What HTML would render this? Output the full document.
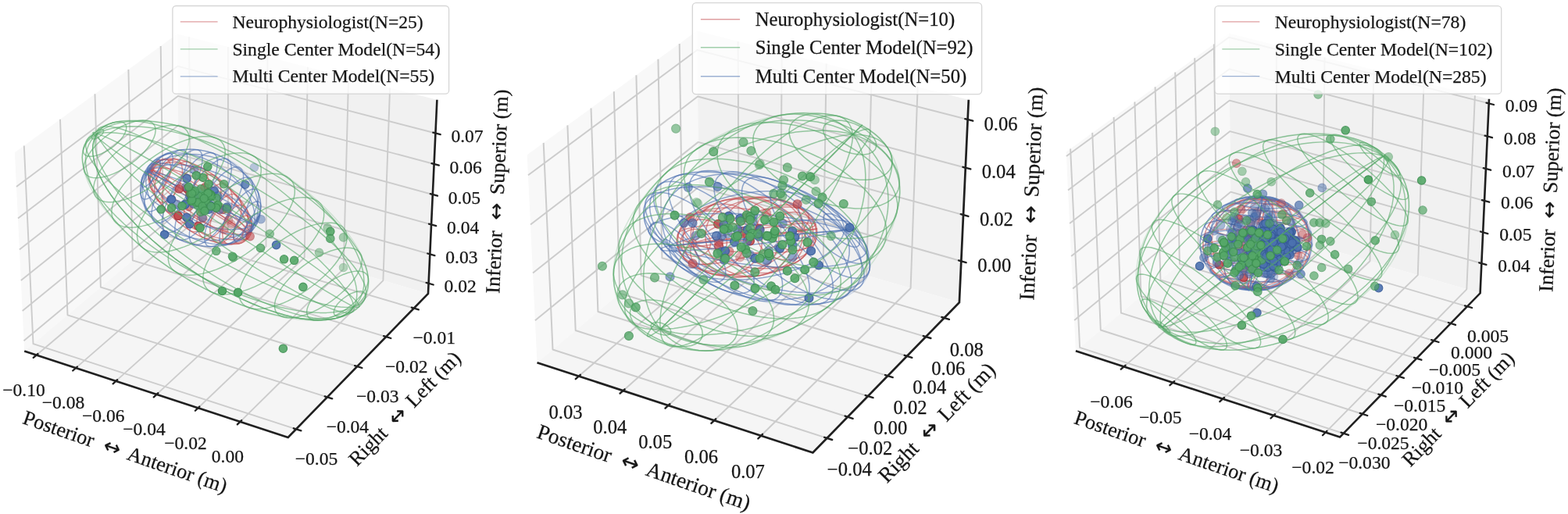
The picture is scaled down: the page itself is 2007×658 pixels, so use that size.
<!DOCTYPE html>
<html lang="en">
<head>
<meta charset="utf-8">
<title>Ellipsoid comparison</title>
<style>
html,body{margin:0;padding:0;background:#fff;}
body{width:2007px;height:658px;overflow:hidden;font-family:"Liberation Serif", "DejaVu Serif", serif;}
svg{display:block;}
</style>
</head>
<body>
<svg width="2007" height="658" viewBox="0 0 2007 658" font-family='"Liberation Serif", "DejaVu Serif", serif'>
<rect width="2007" height="658" fill="#ffffff"/>
<g>
<polygon points="31.2,449.6 229.6,283.3 226.9,43.4 18.9,195.2" fill="#f8f8f8"/>
<polygon points="229.6,283.3 548,375.9 559.4,127.7 226.9,43.4" fill="#f1f1f1"/>
<polygon points="31.2,449.6 368.7,559.9 548,375.9 229.6,283.3" fill="#f5f5f5"/>
<g fill="none" stroke="#cccccc" stroke-width="1.9" stroke-linejoin="round">
<polyline points="46.5,454.7 244.2,287.5 242,47.3"/>
<polyline points="97,471.1 292,301.4 291.9,59.9"/>
<polyline points="148.3,487.9 340.5,315.5 342.5,72.7"/>
<polyline points="200.5,504.9 389.7,329.8 393.9,85.8"/>
<polyline points="253.5,522.3 439.7,344.4 446.1,99"/>
<polyline points="307.4,539.9 490.4,359.1 499.1,112.4"/>
<polyline points="30.8,186.5 42.5,440.1 379,549.3"/>
<polyline points="77,152.7 86.5,403.3 418.9,508.4"/>
<polyline points="121.5,120.3 128.9,367.7 457.2,469"/>
<polyline points="164.4,89 169.8,333.4 494.2,431.1"/>
<polyline points="205.7,58.9 209.3,300.3 529.8,394.6"/>
<polyline points="30.5,436.2 229.5,270.6 548.6,362.8"/>
<polyline points="28.7,397.9 229,234.4 550.3,325.3"/>
<polyline points="26.8,359 228.6,197.7 552.1,287.4"/>
<polyline points="24.9,319.6 228.2,160.5 553.8,249"/>
<polyline points="23,279.6 227.8,122.9 555.6,210"/>
<polyline points="21,239.1 227.3,84.7 557.4,170.5"/>
</g>
<g fill="none" stroke="#c44e52" stroke-opacity="0.6" stroke-width="1.45" stroke-linejoin="round">
<path d="M318.2 299.1 319.2 299.8 319.9 300.2 320.4 300.5 320.5 300.6 320.4 300.6 320 300.3 319.4 299.9 318.5 299.3 317.3 298.5 315.8 297.5 314.1 296.4 312.2 295.1 310 293.7 307.6 292.1 304.9 290.3 302.1 288.4 299 286.4 295.8 284.3 292.4 282 288.8 279.7 285.1 277.2 281.3 274.7 277.4 272.1 273.4 269.5 269.3 266.7 265.1 264 260.9 261.2 256.7 258.5 252.5 255.7 248.3 252.9 244.2 250.1 240.1 247.4 236 244.8 232.1 242.1 228.2 239.6 224.5 237.1 220.9 234.8 217.5 232.5 214.2 230.3 211.1 228.3 208.2 226.3 205.5 224.6 203 222.9 200.8 221.4 198.7 220.1 197 218.9 195.5 217.9 194.2 217.1"/>
<path d="M318.2 299.1 318.5 300.8 318.6 302.3 318.4 303.6 317.9 304.7 317.2 305.6 316.2 306.3 314.9 306.8 313.4 307.1 311.7 307.1 309.7 307 307.5 306.7 305 306.1 302.4 305.4 299.6 304.4 296.5 303.2 293.3 301.9 290 300.4 286.5 298.6 282.8 296.8 279.1 294.7 275.2 292.5 271.3 290.1 267.3 287.6 263.3 285 259.2 282.3 255.1 279.4 251 276.5 247 273.5 243 270.4 239 267.3 235.1 264.1 231.3 260.9 227.6 257.7 224.1 254.5 220.6 251.3 217.4 248.1 214.2 245 211.3 241.9 208.6 239 206 236 203.7 233.2 201.6 230.5 199.8 227.9 198.1 225.5 196.8 223.1 195.7 221 194.8 218.9 194.2 217.1"/>
<path d="M318.2 299.1 317.8 301.3 317 303.4 316.1 305.3 314.8 306.9 313.4 308.4 311.6 309.6 309.7 310.6 307.5 311.4 305.1 312 302.5 312.3 299.6 312.4 296.6 312.3 293.5 311.9 290.1 311.4 286.6 310.5 283 309.5 279.3 308.2 275.5 306.7 271.6 305.1 267.6 303.2 263.6 301.1 259.5 298.8 255.5 296.4 251.4 293.8 247.3 291 243.3 288.1 239.4 285.1 235.5 281.9 231.7 278.7 228 275.4 224.5 272 221 268.5 217.8 265 214.6 261.4 211.7 257.9 209 254.3 206.4 250.8 204.1 247.3 202 243.8 200.1 240.4 198.5 237.1 197.1 233.9 195.9 230.7 195.1 227.7 194.5 224.8 194.1 222.1 194 219.5 194.2 217.1"/>
<path d="M318.2 299.1 317.1 301.3 315.6 303.4 314 305.2 312.1 306.9 309.9 308.3 307.6 309.5 305 310.5 302.2 311.3 299.2 311.9 296 312.2 292.6 312.3 289.1 312.1 285.4 311.8 281.7 311.2 277.8 310.3 273.8 309.3 269.7 308 265.6 306.5 261.5 304.8 257.3 302.9 253.1 300.8 248.9 298.6 244.8 296.1 240.7 293.5 236.7 290.8 232.8 287.9 228.9 284.9 225.2 281.7 221.6 278.5 218.2 275.1 214.9 271.7 211.8 268.3 208.9 264.8 206.2 261.3 203.7 257.7 201.4 254.2 199.4 250.6 197.6 247.1 196 243.7 194.8 240.3 193.7 237 193 233.8 192.5 230.7 192.3 227.7 192.4 224.8 192.7 222.1 193.3 219.5 194.2 217.1"/>
<path d="M318.2 299.1 316.6 300.7 314.8 302.2 312.7 303.4 310.3 304.5 307.8 305.4 305 306 302 306.5 298.8 306.7 295.4 306.8 291.8 306.6 288.2 306.2 284.3 305.7 280.4 304.9 276.3 303.9 272.2 302.7 267.9 301.3 263.7 299.8 259.4 298 255.1 296.1 250.8 294.1 246.5 291.9 242.2 289.5 238.1 287 234 284.4 230 281.6 226.1 278.8 222.3 275.9 218.7 272.9 215.2 269.8 211.9 266.7 208.8 263.5 205.9 260.3 203.3 257.2 200.8 254 198.6 250.8 196.6 247.7 194.9 244.6 193.5 241.6 192.3 238.6 191.4 235.7 190.8 232.9 190.4 230.3 190.3 227.7 190.6 225.3 191.1 223 191.8 220.9 192.9 218.9 194.2 217.1"/>
<path d="M318.2 299.1 316.5 299.7 314.6 300.1 312.4 300.4 310 300.4 307.4 300.3 304.5 300 301.5 299.5 298.2 298.8 294.8 298 291.1 297 287.4 295.8 283.5 294.5 279.5 293 275.4 291.4 271.2 289.6 266.9 287.7 262.6 285.6 258.3 283.5 254 281.2 249.7 278.8 245.4 276.4 241.1 273.8 236.9 271.2 232.8 268.6 228.8 265.9 224.9 263.1 221.2 260.4 217.6 257.6 214.1 254.8 210.9 252.1 207.8 249.3 204.9 246.7 202.3 244 199.9 241.4 197.7 238.9 195.8 236.5 194.2 234.2 192.8 231.9 191.7 229.8 190.8 227.8 190.2 226 190 224.2 190 222.6 190.3 221.2 190.8 219.9 191.7 218.8 192.8 217.9 194.2 217.1"/>
<path d="M318.2 299.1 316.8 298.5 315.2 297.7 313.4 296.8 311.3 295.6 308.9 294.4 306.3 292.9 303.6 291.3 300.6 289.6 297.4 287.8 294 285.8 290.5 283.7 286.9 281.4 283.1 279.1 279.2 276.7 275.1 274.2 271.1 271.7 266.9 269.1 262.7 266.4 258.5 263.7 254.2 261 250 258.3 245.8 255.5 241.7 252.8 237.6 250.1 233.5 247.5 229.6 244.8 225.8 242.3 222.2 239.8 218.6 237.4 215.3 235 212.1 232.8 209.1 230.7 206.3 228.7 203.7 226.8 201.3 225.1 199.2 223.5 197.3 222 195.7 220.7 194.3 219.6 193.2 218.6 192.4 217.8 191.8 217.2 191.5 216.7 191.5 216.4 191.8 216.3 192.3 216.4 193.1 216.7 194.2 217.1"/>
<path d="M318.2 299.1 317.5 297.4 316.5 295.6 315.2 293.6 313.7 291.4 312 289.1 310 286.6 307.7 284.1 305.3 281.4 302.6 278.6 299.8 275.8 296.8 272.8 293.5 269.8 290.2 266.8 286.7 263.7 283 260.6 279.2 257.5 275.4 254.3 271.4 251.2 267.4 248.2 263.4 245.1 259.3 242.2 255.2 239.3 251.1 236.4 247 233.7 243 231.1 239 228.6 235.1 226.2 231.3 223.9 227.6 221.8 224 219.9 220.5 218.1 217.2 216.5 214.1 215 211.2 213.8 208.4 212.7 205.9 211.9 203.5 211.2 201.4 210.7 199.5 210.5 197.9 210.4 196.5 210.5 195.4 210.9 194.5 211.4 193.9 212.2 193.6 213.1 193.5 214.3 193.7 215.6 194.2 217.1"/>
<path d="M318.2 299.1 318.2 296.7 318 294.2 317.5 291.5 316.8 288.7 315.7 285.8 314.5 282.7 313 279.5 311.2 276.3 309.2 272.9 307 269.5 304.5 266.1 301.9 262.6 299 259.1 296 255.6 292.8 252.1 289.4 248.6 285.9 245.1 282.3 241.8 278.6 238.4 274.7 235.2 270.8 232.1 266.9 229.1 262.8 226.2 258.8 223.4 254.7 220.8 250.7 218.4 246.6 216.1 242.7 214 238.7 212.1 234.9 210.4 231.1 208.9 227.4 207.6 223.9 206.5 220.5 205.6 217.3 205 214.2 204.6 211.3 204.4 208.6 204.5 206.1 204.7 203.8 205.3 201.7 206 199.9 207 198.3 208.1 197 209.5 195.9 211.1 195.1 212.9 194.5 214.9 194.2 217.1"/>
<path d="M318.2 299.1 319 296.6 319.5 294 319.7 291.3 319.6 288.3 319.3 285.3 318.7 282.1 317.9 278.9 316.7 275.5 315.4 272.1 313.7 268.6 311.9 265.1 309.7 261.5 307.4 257.9 304.8 254.3 302 250.8 299.1 247.3 295.9 243.8 292.6 240.4 289.1 237 285.5 233.8 281.7 230.6 277.9 227.6 273.9 224.7 269.9 221.9 265.8 219.3 261.7 216.9 257.5 214.6 253.4 212.5 249.2 210.7 245.1 209 241.1 207.5 237.1 206.3 233.2 205.2 229.3 204.4 225.6 203.9 222.1 203.5 218.6 203.4 215.4 203.5 212.3 203.9 209.4 204.5 206.7 205.3 204.2 206.4 201.9 207.6 199.9 209.1 198.1 210.8 196.5 212.7 195.2 214.8 194.2 217.1"/>
<path d="M318.2 299.1 319.5 297.1 320.5 295 321.2 292.7 321.6 290.3 321.8 287.7 321.7 285 321.3 282.2 320.6 279.3 319.6 276.3 318.4 273.2 316.9 270.1 315.1 266.9 313.1 263.6 310.9 260.4 308.4 257.1 305.7 253.8 302.8 250.6 299.7 247.4 296.4 244.2 292.9 241.1 289.3 238.1 285.5 235.1 281.6 232.3 277.6 229.5 273.5 226.9 269.3 224.4 265.1 222.1 260.8 219.9 256.5 217.9 252.2 216 247.9 214.3 243.7 212.8 239.5 211.6 235.4 210.5 231.4 209.6 227.5 208.9 223.7 208.4 220 208.2 216.5 208.1 213.2 208.3 210 208.7 207.1 209.3 204.4 210.1 201.8 211.1 199.6 212.3 197.5 213.7 195.7 215.3 194.2 217.1"/>
<path d="M318.2 299.1 319.6 298.1 320.8 297 321.6 295.6 322.2 294.1 322.5 292.5 322.5 290.7 322.3 288.8 321.7 286.7 320.9 284.5 319.8 282.3 318.4 279.9 316.8 277.4 314.8 274.8 312.7 272.1 310.3 269.4 307.7 266.7 304.8 263.9 301.8 261.1 298.5 258.3 295.1 255.4 291.5 252.6 287.7 249.8 283.8 247.1 279.8 244.3 275.7 241.7 271.5 239.1 267.3 236.6 263 234.2 258.7 231.9 254.3 229.7 250 227.6 245.7 225.7 241.4 223.9 237.2 222.2 233.1 220.7 229.1 219.4 225.2 218.2 221.4 217.2 217.8 216.4 214.3 215.7 211 215.2 208 215 205.1 214.9 202.4 214.9 200 215.2 197.8 215.7 195.9 216.3 194.2 217.1"/>
<path d="M318.2 299.1 319.4 299.3 320.3 299.3 320.9 299.2 321.2 298.9 321.3 298.4 321.1 297.7 320.6 296.9 319.9 295.9 318.8 294.7 317.5 293.4 316 291.9 314.1 290.3 312.1 288.5 309.8 286.7 307.2 284.6 304.5 282.5 301.5 280.3 298.4 278 295 275.6 291.5 273.1 287.9 270.5 284.1 267.9 280.2 265.3 276.1 262.6 272 259.9 267.9 257.2 263.7 254.5 259.4 251.9 255.2 249.2 250.9 246.6 246.7 244 242.5 241.5 238.3 239.1 234.3 236.7 230.3 234.5 226.5 232.3 222.7 230.3 219.2 228.3 215.7 226.5 212.5 224.9 209.4 223.3 206.6 222 203.9 220.7 201.5 219.7 199.3 218.8 197.3 218 195.6 217.5 194.2 217.1"/>
<path d="M318.2 299.1 319.2 299.8 319.9 300.2 320.4 300.5 320.5 300.6 320.4 300.6 320 300.3 319.4 299.9 318.5 299.3 317.3 298.5 315.8 297.5 314.1 296.4 312.2 295.1 310 293.7 307.6 292.1 304.9 290.3 302.1 288.4 299 286.4 295.8 284.3 292.4 282 288.8 279.7 285.1 277.2 281.3 274.7 277.4 272.1 273.4 269.5 269.3 266.7 265.1 264 260.9 261.2 256.7 258.5 252.5 255.7 248.3 252.9 244.2 250.1 240.1 247.4 236 244.8 232.1 242.1 228.2 239.6 224.5 237.1 220.9 234.8 217.5 232.5 214.2 230.3 211.1 228.3 208.2 226.3 205.5 224.6 203 222.9 200.8 221.4 198.7 220.1 197 218.9 195.5 217.9 194.2 217.1"/>
<path d="M320.5 300.6 319.4 302.7 318.1 304.4 316.7 305.7 315.3 306.6 313.9 307 312.7 306.8 311.6 306.2 310.9 305 310.4 303.4 310.3 301.5 310.5 299.3 311 297.1 311.9 294.9 313 292.9 314.3 291.2 315.7 289.8 317.1 288.9 318.5 288.6 319.8 288.7 320.8 289.4 321.6 290.6 322 292.2 322.2 294.1 321.9 296.2 321.4 298.5Z"/>
<path d="M318.7 299.4 317.5 301.9 316.1 304.1 314.6 306.1 313 307.9 311.3 309.4 309.6 310.5 308 311.3 306.3 311.7 304.8 311.8 303.4 311.4 302.1 310.7 301.1 309.6 300.2 308.2 299.5 306.5 299.1 304.5 298.9 302.3 298.9 299.9 299.2 297.4 299.8 294.8 300.5 292.2 301.5 289.7 302.6 287.2 304 284.8 305.4 282.7 307 280.8 308.6 279.2 310.3 277.9 312 276.9 313.6 276.3 315.2 276.1 316.7 276.2 318 276.8 319.2 277.7 320.2 278.9 320.9 280.5 321.5 282.3 321.8 284.4 321.9 286.7 321.7 289.2 321.3 291.7 320.7 294.3 319.8 296.9Z"/>
<path d="M312.9 295.6 311.6 298.2 310.2 300.7 308.6 303 307 305.1 305.3 307.1 303.5 308.8 301.7 310.2 299.9 311.4 298.1 312.2 296.4 312.8 294.7 313.1 293.1 313.1 291.5 312.7 290.1 312.1 288.9 311.1 287.8 309.9 286.8 308.4 286 306.7 285.4 304.7 285 302.6 284.8 300.2 284.7 297.7 284.9 295.1 285.3 292.4 285.9 289.6 286.6 286.8 287.5 284 288.6 281.3 289.9 278.6 291.2 276.1 292.7 273.7 294.3 271.4 296 269.4 297.8 267.6 299.5 266 301.3 264.7 303.1 263.7 304.9 263 306.6 262.6 308.3 262.4 309.9 262.6 311.3 263.1 312.7 263.9 313.8 265 314.9 266.3 315.8 267.9 316.5 269.8 317 271.9 317.3 274.1 317.4 276.6 317.3 279.1 317.1 281.8 316.6 284.6 315.9 287.4 315.1 290.1 314.1 292.9Z"/>
<path d="M303.5 289.4 302.2 292 300.7 294.6 299.2 297 297.6 299.3 295.9 301.4 294.1 303.4 292.4 305.1 290.5 306.7 288.7 308 286.9 309.1 285.1 309.9 283.3 310.5 281.6 310.8 279.9 310.9 278.3 310.7 276.8 310.3 275.4 309.6 274.1 308.7 272.9 307.5 271.8 306.1 270.9 304.5 270.2 302.6 269.6 300.6 269.2 298.4 268.9 296.1 268.8 293.6 268.8 291 269 288.3 269.4 285.5 270 282.7 270.7 279.9 271.6 277 272.6 274.2 273.7 271.4 274.9 268.7 276.3 266.1 277.8 263.6 279.4 261.3 281 259 282.8 257 284.5 255.2 286.3 253.5 288.1 252.1 290 250.9 291.8 249.9 293.6 249.2 295.4 248.7 297.1 248.5 298.7 248.6 300.3 248.9 301.7 249.4 303.1 250.3 304.3 251.3 305.4 252.6 306.4 254.1 307.2 255.9 307.9 257.8 308.4 259.9 308.8 262.2 309 264.6 309 267.2 308.9 269.8 308.6 272.5 308.1 275.3 307.5 278.2 306.7 281 305.7 283.8 304.7 286.6Z"/>
<path d="M291 281.1 289.7 283.8 288.2 286.5 286.7 289 285.1 291.4 283.4 293.6 281.6 295.7 279.8 297.6 278 299.3 276.1 300.8 274.2 302.2 272.4 303.3 270.5 304.1 268.7 304.8 266.9 305.2 265.2 305.3 263.5 305.3 261.9 305 260.4 304.4 259 303.6 257.7 302.6 256.5 301.4 255.5 299.9 254.6 298.3 253.8 296.5 253.1 294.4 252.6 292.3 252.2 289.9 252 287.5 252 284.9 252.1 282.2 252.4 279.4 252.8 276.6 253.3 273.7 254 270.9 254.9 268 255.9 265.1 257 262.2 258.2 259.4 259.6 256.7 261 254.1 262.5 251.6 264.2 249.2 265.9 246.9 267.6 244.9 269.4 243 271.2 241.2 273.1 239.7 275 238.4 276.8 237.3 278.7 236.4 280.5 235.8 282.3 235.4 284 235.2 285.7 235.3 287.3 235.6 288.8 236.1 290.2 236.9 291.5 237.9 292.7 239.2 293.7 240.6 294.7 242.2 295.5 244.1 296.1 246.1 296.6 248.3 297 250.6 297.2 253.1 297.2 255.7 297.1 258.3 296.9 261.1 296.4 263.9 295.9 266.8 295.2 269.7 294.3 272.6 293.3 275.5 292.2 278.3Z"/>
<path d="M276.3 271.4 274.9 274.1 273.5 276.8 272 279.3 270.3 281.7 268.6 284 266.9 286.1 265.1 288.1 263.3 289.9 261.4 291.5 259.5 292.9 257.6 294.1 255.8 295.1 253.9 295.8 252.1 296.4 250.3 296.7 248.6 296.7 247 296.6 245.4 296.2 243.9 295.6 242.5 294.7 241.2 293.6 240.1 292.4 239 290.9 238.1 289.2 237.3 287.3 236.7 285.3 236.1 283.1 235.8 280.8 235.6 278.3 235.5 275.7 235.6 273 235.8 270.3 236.2 267.4 236.7 264.6 237.4 261.7 238.2 258.7 239.1 255.8 240.2 252.9 241.4 250.1 242.7 247.3 244.1 244.6 245.6 242 247.1 239.6 248.8 237.2 250.5 235 252.3 232.9 254.1 231.1 256 229.4 257.8 227.9 259.7 226.6 261.6 225.5 263.5 224.6 265.3 224 267.1 223.6 268.8 223.4 270.5 223.4 272.1 223.7 273.7 224.2 275.1 224.9 276.4 225.9 277.7 227.1 278.8 228.5 279.8 230 280.6 231.8 281.3 233.8 281.9 235.9 282.4 238.1 282.6 240.5 282.8 243.1 282.8 245.7 282.6 248.4 282.3 251.2 281.9 254.1 281.3 257 280.5 259.9 279.7 262.8 278.7 265.7 277.5 268.6Z"/>
<path d="M260.3 260.8 259 263.5 257.5 266.2 256 268.7 254.4 271.1 252.7 273.3 251 275.4 249.2 277.4 247.3 279.1 245.5 280.7 243.6 282.1 241.8 283.2 239.9 284.2 238.1 284.9 236.3 285.4 234.5 285.6 232.8 285.6 231.2 285.4 229.7 285 228.2 284.3 226.9 283.4 225.6 282.3 224.5 281 223.5 279.5 222.6 277.7 221.9 275.8 221.3 273.8 220.8 271.5 220.5 269.2 220.3 266.7 220.3 264.1 220.5 261.4 220.8 258.6 221.2 255.8 221.8 252.9 222.5 250 223.4 247.1 224.4 244.2 225.5 241.4 226.7 238.6 228 235.9 229.5 233.3 231 230.7 232.6 228.3 234.3 226.1 236 224 237.8 222 239.7 220.3 241.5 218.7 243.4 217.3 245.2 216.2 247.1 215.3 248.9 214.5 250.7 214.1 252.5 213.8 254.2 213.8 255.8 214 257.3 214.4 258.8 215.1 260.1 216 261.4 217.1 262.5 218.4 263.5 220 264.4 221.7 265.1 223.6 265.7 225.6 266.2 227.9 266.5 230.2 266.7 232.7 266.7 235.3 266.5 238 266.2 240.8 265.8 243.7 265.2 246.5 264.5 249.4 263.6 252.3 262.6 255.2 261.5 258Z"/>
<path d="M244 250.1 242.7 252.8 241.3 255.3 239.7 257.8 238.1 260.2 236.4 262.3 234.7 264.3 232.9 266.2 231.1 267.8 229.2 269.2 227.4 270.4 225.5 271.4 223.7 272.1 221.9 272.6 220.2 272.8 218.5 272.8 216.9 272.5 215.4 272 214.1 271.2 212.8 270.2 211.6 268.9 210.6 267.5 209.7 265.8 208.9 264 208.3 261.9 207.9 259.7 207.6 257.3 207.5 254.8 207.5 252.2 207.7 249.5 208 246.7 208.6 243.9 209.2 241 210 238.2 211 235.3 212.1 232.5 213.3 229.7 214.6 227 216.1 224.4 217.6 222 219.2 219.6 220.9 217.4 222.7 215.4 224.5 213.6 226.3 212 228.1 210.6 230 209.4 231.8 208.4 233.6 207.7 235.4 207.2 237.1 207 238.8 207 240.4 207.3 241.9 207.8 243.3 208.6 244.6 209.6 245.7 210.8 246.8 212.3 247.7 214 248.4 215.8 249 217.9 249.5 220.1 249.8 222.5 249.9 225 249.8 227.6 249.7 230.3 249.3 233.1 248.8 235.9 248.1 238.7 247.3 241.6 246.4 244.5 245.3 247.3Z"/>
<path d="M228.6 239.8 227.3 242.5 225.8 245 224.3 247.3 222.7 249.5 221 251.6 219.2 253.4 217.4 255 215.6 256.3 213.8 257.4 212 258.2 210.2 258.7 208.5 259 206.9 259 205.4 258.6 203.9 258.1 202.6 257.2 201.4 256 200.4 254.7 199.5 253 198.8 251.2 198.3 249.1 197.9 246.9 197.7 244.5 197.7 241.9 197.9 239.3 198.3 236.6 198.8 233.8 199.5 231 200.4 228.2 201.4 225.4 202.6 222.7 203.9 220 205.4 217.5 206.9 215.2 208.5 213 210.2 210.9 212 209.1 213.8 207.5 215.6 206.2 217.4 205.1 219.2 204.3 221 203.8 222.7 203.5 224.3 203.5 225.8 203.9 227.3 204.5 228.6 205.3 229.8 206.5 230.8 207.8 231.7 209.5 232.4 211.3 232.9 213.4 233.3 215.6 233.5 218 233.5 220.6 233.3 223.2 232.9 225.9 232.4 228.7 231.7 231.5 230.8 234.3 229.8 237.1Z"/>
<path d="M214.9 230.8 213.6 233.3 212.1 235.7 210.6 237.9 208.9 239.8 207.2 241.5 205.5 242.9 203.7 244 202 244.7 200.3 245.1 198.7 245.1 197.2 244.8 195.9 244.1 194.7 243.1 193.7 241.8 192.9 240.2 192.3 238.3 191.9 236.1 191.7 233.8 191.8 231.3 192.1 228.7 192.6 226 193.3 223.2 194.3 220.5 195.4 217.9 196.7 215.4 198.1 213 199.7 210.8 201.3 208.9 203 207.2 204.8 205.8 206.5 204.7 208.3 204 210 203.6 211.5 203.5 213 203.9 214.4 204.5 215.6 205.5 216.6 206.9 217.4 208.5 218 210.4 218.4 212.5 218.6 214.9 218.5 217.4 218.2 220 217.7 222.7 216.9 225.4 216 228.1Z"/>
<path d="M203.8 223.5 202.6 225.7 201.2 227.7 199.7 229.4 198.1 230.8 196.6 231.7 195 232.1 193.6 232 192.4 231.5 191.3 230.5 190.5 229.1 190 227.3 189.8 225.3 190 223 190.4 220.6 191.1 218.1 192.1 215.7 193.3 213.4 194.7 211.4 196.2 209.7 197.7 208.4 199.3 207.5 200.8 207 202.3 207.1 203.5 207.6 204.6 208.6 205.3 210 205.8 211.8 206 213.9 205.9 216.2 205.5 218.6 204.8 221Z"/>
<path d="M196.1 218.4 195.4 219.6 194.5 220.4 193.7 220.8 192.9 220.6 192.4 219.9 192.2 218.9 192.4 217.6 192.8 216.2 193.6 215 194.4 214.2 195.3 213.8 196 214 196.5 214.6 196.7 215.7 196.6 217Z"/>
<ellipse cx="256.2" cy="258.1" rx="77.4" ry="38" transform="rotate(-143.8 256.2 258.1)" stroke-opacity="0.22"/>
</g>
<g fill="none" stroke="#4c72b0" stroke-opacity="0.6" stroke-width="1.45" stroke-linejoin="round">
<path d="M324.8 287.5 325.9 288 326.7 288.4 327.2 288.7 327.3 288.8 327.2 288.7 326.8 288.5 326.1 288.1 325.1 287.6 323.8 287 322.2 286.2 320.3 285.2 318.1 284.2 315.7 283 313.1 281.6 310.2 280.2 307 278.6 303.7 276.9 300.1 275.2 296.4 273.3 292.5 271.4 288.5 269.3 284.3 267.2 280 265.1 275.6 262.9 271.1 260.6 266.5 258.4 261.9 256.1 257.3 253.8 252.7 251.4 248.1 249.2 243.5 246.9 239 244.6 234.6 242.4 230.3 240.2 226.1 238.1 222 236.1 218 234.1 214.3 232.2 210.7 230.4 207.3 228.7 204.1 227.2 201.2 225.7 198.4 224.3 196 223.1 193.8 222 191.8 221 190.2 220.2 188.8 219.5"/>
<path d="M324.8 287.5 324.7 289.6 324.4 291.5 323.7 293.3 322.8 294.9 321.6 296.4 320.1 297.6 318.4 298.7 316.3 299.5 314.1 300.2 311.5 300.7 308.8 300.9 305.8 301 302.6 300.9 299.2 300.5 295.7 300 291.9 299.2 288 298.3 284 297.2 279.9 295.9 275.6 294.4 271.3 292.7 267 290.8 262.5 288.8 258.1 286.7 253.6 284.4 249.2 282 244.8 279.4 240.5 276.8 236.2 274 232 271.1 227.9 268.2 223.9 265.2 220.1 262.2 216.4 259.1 212.9 256 209.6 252.9 206.5 249.8 203.6 246.7 201 243.7 198.6 240.6 196.4 237.7 194.5 234.8 192.8 232 191.5 229.2 190.4 226.6 189.6 224.1 189 221.7 188.8 219.5"/>
<path d="M324.8 287.5 323.6 290.6 322.1 293.6 320.3 296.3 318.2 298.9 315.9 301.3 313.3 303.5 310.5 305.5 307.4 307.3 304.2 308.8 300.7 310.1 297.1 311.1 293.2 311.9 289.2 312.5 285.1 312.8 280.9 312.8 276.5 312.6 272.1 312.1 267.6 311.4 263 310.5 258.5 309.3 253.9 307.8 249.3 306.1 244.8 304.2 240.3 302.1 235.9 299.8 231.6 297.3 227.4 294.6 223.3 291.7 219.3 288.6 215.5 285.4 211.9 282.1 208.5 278.6 205.3 275 202.3 271.4 199.6 267.6 197.1 263.8 194.8 260 192.8 256.1 191.1 252.2 189.7 248.4 188.5 244.5 187.7 240.7 187.1 236.9 186.8 233.2 186.9 229.6 187.2 226.1 187.9 222.8 188.8 219.5"/>
<path d="M324.8 287.5 322.7 290.8 320.3 294 317.6 296.9 314.7 299.7 311.5 302.3 308.1 304.7 304.5 306.9 300.6 308.8 296.6 310.5 292.4 312 288.1 313.2 283.6 314.2 279 314.9 274.3 315.3 269.5 315.4 264.7 315.3 259.9 315 255 314.4 250.1 313.5 245.3 312.3 240.5 310.9 235.8 309.3 231.2 307.4 226.7 305.3 222.3 303 218.1 300.4 214 297.7 210.1 294.7 206.4 291.6 203 288.3 199.7 284.9 196.7 281.3 194 277.7 191.5 273.9 189.3 270 187.4 266.1 185.8 262.1 184.5 258.1 183.5 254 182.9 249.9 182.5 245.9 182.5 241.9 182.7 238 183.3 234.1 184.2 230.3 185.5 226.6 187 223 188.8 219.5"/>
<path d="M324.8 287.5 322.3 290.2 319.5 292.7 316.4 295 313.1 297.2 309.6 299.2 305.8 300.9 301.8 302.5 297.6 303.9 293.3 305 288.7 306 284.1 306.7 279.3 307.2 274.5 307.4 269.5 307.4 264.5 307.2 259.5 306.8 254.5 306.1 249.4 305.2 244.4 304.1 239.5 302.8 234.6 301.2 229.8 299.5 225.2 297.5 220.7 295.4 216.3 293.1 212.1 290.6 208.1 288 204.3 285.2 200.7 282.2 197.4 279.2 194.3 276 191.5 272.8 189 269.4 186.7 266 184.8 262.6 183.2 259.1 181.8 255.6 180.9 252 180.2 248.5 179.8 245 179.8 241.5 180.1 238.1 180.8 234.8 181.8 231.5 183.1 228.3 184.7 225.3 186.6 222.3 188.8 219.5"/>
<path d="M324.8 287.5 322.5 288.8 319.9 290 317 291 313.9 291.9 310.6 292.6 307 293.1 303.2 293.5 299.2 293.7 295 293.7 290.6 293.5 286.1 293.2 281.5 292.7 276.8 292 272 291.2 267.1 290.2 262.2 289.1 257.2 287.8 252.3 286.3 247.4 284.7 242.5 283 237.7 281.1 232.9 279.2 228.3 277.1 223.8 274.9 219.4 272.7 215.2 270.3 211.1 267.9 207.3 265.4 203.7 262.9 200.2 260.3 197.1 257.7 194.2 255.1 191.5 252.4 189.2 249.8 187.1 247.2 185.4 244.6 183.9 242.1 182.7 239.6 181.9 237.1 181.4 234.8 181.2 232.5 181.3 230.3 181.8 228.2 182.6 226.2 183.7 224.3 185.1 222.6 186.8 221 188.8 219.5"/>
<path d="M324.8 287.5 323.2 287.1 321.4 286.6 319.3 286 316.9 285.2 314.2 284.3 311.4 283.2 308.2 282 304.9 280.7 301.3 279.3 297.6 277.8 293.7 276.1 289.6 274.4 285.4 272.6 281 270.7 276.6 268.7 272.1 266.6 267.5 264.5 262.9 262.4 258.2 260.2 253.5 258 248.9 255.8 244.2 253.5 239.7 251.3 235.2 249.1 230.8 246.8 226.5 244.7 222.3 242.5 218.3 240.4 214.5 238.4 210.8 236.4 207.3 234.5 204.1 232.6 201 230.9 198.3 229.3 195.7 227.7 193.4 226.3 191.4 225 189.7 223.8 188.3 222.8 187.1 221.8 186.3 221 185.7 220.4 185.5 219.9 185.5 219.5 185.9 219.3 186.6 219.2 187.5 219.3 188.8 219.5"/>
<path d="M324.8 287.5 324.3 285.5 323.6 283.4 322.6 281.2 321.3 278.8 319.7 276.3 317.8 273.7 315.7 271.1 313.3 268.3 310.7 265.5 307.9 262.7 304.8 259.8 301.5 256.9 298.1 254 294.4 251 290.6 248.1 286.7 245.2 282.6 242.4 278.4 239.5 274.2 236.8 269.8 234.1 265.4 231.5 261 229 256.5 226.6 252.1 224.3 247.6 222.1 243.2 220.1 238.9 218.2 234.6 216.5 230.5 214.9 226.4 213.5 222.5 212.3 218.7 211.2 215.1 210.3 211.6 209.6 208.4 209.1 205.4 208.8 202.6 208.7 200 208.8 197.6 209 195.5 209.5 193.7 210.1 192.2 210.9 190.9 211.9 189.9 213.1 189.2 214.5 188.8 216 188.6 217.7 188.8 219.5"/>
<path d="M324.8 287.5 325.5 284.4 326 281.1 326.1 277.8 325.9 274.3 325.5 270.7 324.7 267.1 323.7 263.4 322.4 259.7 320.8 255.9 318.9 252.1 316.7 248.4 314.3 244.6 311.7 240.9 308.8 237.2 305.7 233.7 302.4 230.2 298.8 226.8 295.2 223.5 291.3 220.3 287.3 217.3 283.2 214.4 278.9 211.8 274.6 209.2 270.1 206.9 265.7 204.8 261.2 202.9 256.6 201.2 252.1 199.7 247.6 198.5 243.1 197.5 238.7 196.7 234.4 196.2 230.1 195.9 226 195.8 222 196.1 218.2 196.5 214.5 197.2 211 198.2 207.7 199.4 204.6 200.8 201.7 202.4 199.1 204.3 196.7 206.3 194.6 208.6 192.7 211.1 191.1 213.7 189.8 216.5 188.8 219.5"/>
<path d="M324.8 287.5 326.5 284 327.9 280.4 329 276.7 329.7 272.8 330.2 268.9 330.4 264.9 330.2 260.9 329.7 256.8 328.9 252.8 327.8 248.7 326.4 244.6 324.7 240.6 322.7 236.7 320.5 232.8 317.9 229 315.1 225.3 312 221.7 308.7 218.3 305.2 215 301.5 211.9 297.6 208.9 293.5 206.2 289.2 203.6 284.9 201.3 280.3 199.2 275.7 197.3 271 195.7 266.3 194.3 261.5 193.1 256.7 192.3 251.9 191.6 247.1 191.3 242.3 191.2 237.7 191.4 233.1 191.8 228.6 192.5 224.2 193.5 219.9 194.7 215.8 196.2 211.9 197.9 208.2 199.9 204.7 202.1 201.4 204.5 198.4 207.1 195.6 210 193 213 190.8 216.2 188.8 219.5"/>
<path d="M324.8 287.5 327 284.5 328.9 281.4 330.5 278.1 331.7 274.8 332.7 271.3 333.3 267.8 333.6 264.2 333.5 260.6 333.2 257 332.5 253.3 331.5 249.6 330.1 246 328.5 242.3 326.5 238.8 324.3 235.2 321.7 231.8 318.9 228.5 315.8 225.2 312.5 222.1 308.9 219.2 305.1 216.3 301.1 213.7 296.9 211.2 292.5 208.8 288 206.7 283.3 204.8 278.5 203.1 273.7 201.6 268.7 200.3 263.7 199.2 258.7 198.4 253.7 197.8 248.7 197.5 243.7 197.4 238.8 197.5 234 197.9 229.2 198.5 224.6 199.3 220.1 200.4 215.8 201.7 211.6 203.2 207.6 205 203.9 206.9 200.4 209.1 197.1 211.4 194 214 191.3 216.7 188.8 219.5"/>
<path d="M324.8 287.5 326.9 285.7 328.7 283.8 330.2 281.8 331.4 279.6 332.2 277.4 332.8 275 333 272.6 332.8 270 332.4 267.4 331.6 264.7 330.6 262 329.1 259.3 327.4 256.5 325.4 253.7 323.1 250.9 320.5 248.1 317.7 245.3 314.5 242.6 311.2 239.9 307.5 237.3 303.7 234.8 299.7 232.3 295.5 229.9 291.1 227.6 286.6 225.5 281.9 223.4 277.2 221.5 272.3 219.7 267.4 218.1 262.5 216.6 257.5 215.3 252.5 214.1 247.6 213.1 242.6 212.3 237.8 211.6 233 211.2 228.3 210.9 223.7 210.8 219.3 210.9 215.1 211.1 211 211.6 207.1 212.2 203.4 213 200 214 196.8 215.1 193.9 216.4 191.2 217.9 188.8 219.5"/>
<path d="M324.8 287.5 326.2 287.4 327.4 287.1 328.2 286.7 328.8 286.2 329 285.5 328.9 284.7 328.5 283.8 327.8 282.7 326.8 281.5 325.5 280.2 323.9 278.7 322.1 277.2 319.9 275.5 317.5 273.8 314.8 272 311.8 270 308.7 268.1 305.3 266 301.7 263.9 297.9 261.8 293.9 259.6 289.8 257.4 285.5 255.2 281.1 253 276.6 250.8 272 248.5 267.4 246.4 262.7 244.2 257.9 242.1 253.2 240 248.5 238 243.8 236 239.2 234.2 234.7 232.4 230.2 230.7 225.9 229.1 221.7 227.6 217.6 226.2 213.8 224.9 210.1 223.8 206.6 222.8 203.3 221.9 200.2 221.1 197.4 220.5 194.8 220.1 192.6 219.7 190.5 219.5 188.8 219.5"/>
<path d="M324.8 287.5 325.9 288 326.7 288.4 327.2 288.7 327.3 288.8 327.2 288.7 326.8 288.5 326.1 288.1 325.1 287.6 323.8 287 322.2 286.2 320.3 285.2 318.1 284.2 315.7 283 313.1 281.6 310.2 280.2 307 278.6 303.7 276.9 300.1 275.2 296.4 273.3 292.5 271.4 288.5 269.3 284.3 267.2 280 265.1 275.6 262.9 271.1 260.6 266.5 258.4 261.9 256.1 257.3 253.8 252.7 251.4 248.1 249.2 243.5 246.9 239 244.6 234.6 242.4 230.3 240.2 226.1 238.1 222 236.1 218 234.1 214.3 232.2 210.7 230.4 207.3 228.7 204.1 227.2 201.2 225.7 198.4 224.3 196 223.1 193.8 222 191.8 221 190.2 220.2 188.8 219.5"/>
<path d="M327.3 288.8 325.3 291.8 323.2 294.5 321 296.7 318.9 298.4 317 299.3 315.4 299.5 314.3 298.9 313.7 297.6 313.5 295.7 313.9 293.2 314.8 290.3 316.2 287.2 317.9 284.1 319.9 281 322.1 278.3 324.3 276.1 326.4 274.4 328.2 273.5 329.8 273.3 330.9 273.9 331.6 275.2 331.7 277.1 331.3 279.6 330.4 282.5 329.1 285.6Z"/>
<path d="M325.3 287.8 323 291.4 320.6 294.8 318.1 297.9 315.5 300.8 312.9 303.3 310.5 305.3 308.1 306.9 305.9 308 303.9 308.5 302.2 308.5 300.8 308 299.7 307 299 305.4 298.6 303.4 298.6 300.9 299 298 299.8 294.9 300.9 291.5 302.3 287.9 304 284.2 306 280.5 308.2 276.8 310.6 273.3 313.1 270 315.7 267 318.2 264.3 320.8 262.1 323.2 260.2 325.5 258.9 327.6 258.1 329.4 257.8 331 258.1 332.2 258.9 333.1 260.2 333.7 262 333.9 264.3 333.7 266.9 333.1 269.9 332.2 273.2 330.9 276.7 329.3 280.4 327.4 284.1Z"/>
<path d="M319 284.6 316.5 288.4 314 292.2 311.3 295.7 308.6 299.1 305.8 302.2 303.1 305 300.4 307.5 297.7 309.6 295.2 311.3 292.7 312.7 290.5 313.6 288.4 314.1 286.6 314.1 285 313.7 283.6 312.9 282.5 311.7 281.7 310 281.2 308 281 305.6 281.1 302.9 281.5 299.8 282.2 296.5 283.2 293 284.4 289.3 286 285.5 287.7 281.5 289.7 277.6 291.9 273.6 294.3 269.7 296.8 265.9 299.4 262.2 302.1 258.8 304.8 255.5 307.6 252.6 310.3 249.9 313 247.6 315.6 245.7 318.1 244.2 320.4 243 322.6 242.3 324.6 242.1 326.3 242.2 327.8 242.8 329 243.9 330 245.3 330.6 247.2 331 249.4 331 252 330.8 254.8 330.2 258 329.4 261.4 328.3 265 326.9 268.8 325.2 272.7 323.3 276.7 321.2 280.6Z"/>
<path d="M308.6 279.4 306.1 283.3 303.5 287.2 300.9 290.9 298.1 294.4 295.4 297.8 292.6 300.9 289.8 303.8 287 306.4 284.3 308.8 281.6 310.8 279 312.5 276.6 313.9 274.2 314.9 272.1 315.5 270.1 315.8 268.3 315.7 266.6 315.3 265.3 314.5 264.1 313.3 263.2 311.8 262.5 309.9 262 307.7 261.8 305.3 261.9 302.5 262.2 299.5 262.8 296.3 263.6 292.8 264.7 289.2 266 285.4 267.5 281.5 269.3 277.5 271.2 273.5 273.3 269.5 275.5 265.5 277.9 261.5 280.5 257.6 283.1 253.8 285.8 250.2 288.5 246.7 291.3 243.5 294.1 240.4 296.9 237.7 299.7 235.2 302.4 233 305 231.2 307.5 229.6 309.9 228.4 312.2 227.6 314.3 227.1 316.2 227 317.9 227.3 319.4 227.9 320.7 228.9 321.7 230.3 322.5 232 323.1 234 323.4 236.3 323.5 238.9 323.3 241.8 322.8 244.9 322.1 248.3 321.2 251.8 320 255.5 318.6 259.4 316.9 263.3 315.1 267.3 313.1 271.3 310.9 275.4Z"/>
<path d="M294.9 272.5 292.4 276.6 289.8 280.5 287.1 284.3 284.3 288 281.5 291.5 278.6 294.8 275.8 297.9 272.9 300.8 270.1 303.4 267.3 305.8 264.6 307.8 262 309.6 259.4 311 257 312.1 254.8 312.9 252.7 313.4 250.7 313.5 248.9 313.2 247.4 312.7 246 311.8 244.8 310.5 243.9 309 243.1 307.1 242.7 304.9 242.4 302.5 242.4 299.8 242.6 296.8 243.1 293.6 243.7 290.3 244.7 286.7 245.8 282.9 247.1 279.1 248.7 275.1 250.4 271.1 252.4 267 254.5 262.8 256.7 258.7 259.1 254.6 261.6 250.6 264.2 246.7 266.9 242.9 269.7 239.2 272.5 235.7 275.4 232.4 278.2 229.3 281.1 226.4 283.9 223.8 286.7 221.4 289.4 219.4 292 217.6 294.5 216.2 296.9 215.1 299.2 214.3 301.3 213.8 303.3 213.7 305 213.9 306.6 214.5 308 215.4 309.2 216.7 310.1 218.2 310.8 220.1 311.3 222.2 311.6 224.7 311.6 227.4 311.4 230.4 310.9 233.5 310.2 236.9 309.3 240.5 308.2 244.2 306.8 248.1 305.3 252.1 303.5 256.1 301.6 260.2 299.5 264.3 297.3 268.5Z"/>
<path d="M278.8 264.5 276.2 268.5 273.6 272.5 270.9 276.4 268.1 280.1 265.3 283.6 262.4 287 259.6 290.2 256.7 293.2 253.8 295.9 251 298.3 248.2 300.5 245.6 302.4 243 304 240.5 305.3 238.1 306.3 235.9 306.9 233.8 307.3 231.9 307.3 230.2 306.9 228.7 306.3 227.3 305.3 226.2 304 225.3 302.4 224.6 300.4 224.1 298.3 223.9 295.8 223.8 293.1 224 290.1 224.5 286.9 225.1 283.5 226 279.9 227.1 276.2 228.4 272.4 229.9 268.4 231.6 264.3 233.5 260.2 235.6 256.1 237.7 251.9 240.1 247.8 242.6 243.7 245.1 239.7 247.8 235.8 250.5 232 253.4 228.4 256.2 224.9 259.1 221.6 262 218.5 264.8 215.7 267.7 213.1 270.5 210.8 273.2 208.7 275.8 207 278.4 205.5 280.8 204.4 283.1 203.6 285.2 203.1 287.2 202.9 289 203.1 290.7 203.6 292.1 204.4 293.3 205.6 294.4 207 295.2 208.8 295.8 210.9 296.1 213.2 296.3 215.8 296.2 218.6 295.8 221.7 295.3 225 294.5 228.5 293.5 232.1 292.3 235.9 290.9 239.9 289.3 243.9 287.5 248 285.6 252.1 283.4 256.2 281.2 260.4Z"/>
<path d="M261.2 255.7 258.7 259.7 256.1 263.7 253.4 267.5 250.7 271.2 247.8 274.7 245 278 242.1 281.2 239.3 284.1 236.5 286.8 233.7 289.2 230.9 291.3 228.3 293.2 225.7 294.7 223.3 295.9 221 296.8 218.8 297.4 216.8 297.7 214.9 297.6 213.3 297.2 211.8 296.4 210.5 295.4 209.4 294 208.6 292.3 208 290.3 207.6 288.1 207.4 285.5 207.4 282.7 207.7 279.7 208.2 276.5 209 273 210 269.4 211.1 265.7 212.5 261.8 214.1 257.8 215.8 253.8 217.8 249.7 219.9 245.5 222.1 241.4 224.5 237.4 227 233.3 229.6 229.4 232.3 225.6 235.1 221.9 237.9 218.4 240.7 215 243.6 211.9 246.5 209 249.3 206.3 252.1 203.9 254.8 201.8 257.5 199.9 260 198.4 262.5 197.2 264.8 196.2 266.9 195.7 269 195.4 270.8 195.5 272.5 195.9 274 196.6 275.2 197.7 276.3 199.1 277.2 200.8 277.8 202.7 278.2 205 278.4 207.6 278.3 210.3 278 213.4 277.5 216.6 276.8 220 275.8 223.6 274.6 227.4 273.2 231.3 271.7 235.3 269.9 239.3 268 243.4 265.9 247.5 263.6 251.6Z"/>
<path d="M243.4 246.8 240.9 250.8 238.3 254.7 235.6 258.4 232.9 262 230.1 265.5 227.2 268.7 224.4 271.7 221.6 274.4 218.8 276.9 216.1 279.1 213.5 280.9 210.9 282.5 208.5 283.7 206.2 284.6 204.1 285.1 202.1 285.2 200.4 285 198.8 284.5 197.4 283.5 196.3 282.3 195.4 280.7 194.7 278.8 194.3 276.6 194.1 274.1 194.2 271.3 194.5 268.3 195.1 265 195.9 261.6 196.9 257.9 198.1 254.2 199.6 250.3 201.3 246.3 203.2 242.2 205.2 238.1 207.4 234 209.8 230 212.3 226 214.9 222.1 217.6 218.4 220.3 214.8 223.1 211.3 226 208.1 228.8 205.1 231.6 202.4 234.4 199.9 237.1 197.7 239.7 195.9 242.3 194.3 244.7 193.1 247 192.3 249.1 191.7 251.1 191.6 252.8 191.8 254.4 192.3 255.8 193.3 256.9 194.5 257.8 196.1 258.5 198 258.9 200.2 259.1 202.7 259 205.5 258.7 208.5 258.1 211.8 257.3 215.2 256.3 218.9 255.1 222.6 253.6 226.6 251.9 230.5 250 234.6 248 238.7 245.8 242.8Z"/>
<path d="M226.4 238.3 224 242.2 221.4 246 218.8 249.6 216 253.1 213.3 256.3 210.5 259.2 207.7 261.9 205 264.3 202.4 266.3 199.9 267.9 197.4 269.2 195.2 270.1 193.1 270.6 191.2 270.7 189.6 270.4 188.1 269.7 186.9 268.6 186 267.1 185.4 265.2 185 263 184.9 260.5 185 257.6 185.5 254.5 186.2 251.2 187.2 247.6 188.5 243.9 190 240 191.7 236.1 193.7 232.1 195.8 228.1 198.1 224.1 200.5 220.3 203.1 216.5 205.8 212.8 208.5 209.4 211.3 206.2 214 203.2 216.8 200.6 219.5 198.2 222.1 196.2 224.7 194.5 227.1 193.2 229.3 192.3 231.4 191.9 233.3 191.8 235 192.1 236.4 192.8 237.6 193.9 238.5 195.4 239.2 197.3 239.6 199.5 239.7 202 239.5 204.9 239 208 238.3 211.3 237.3 214.9 236 218.6 234.5 222.4 232.8 226.4 230.9 230.4 228.7 234.4Z"/>
<path d="M211.4 230.8 209 234.6 206.5 238.2 203.9 241.6 201.2 244.7 198.5 247.5 195.9 249.9 193.3 251.9 190.9 253.4 188.6 254.5 186.5 255 184.7 255.1 183.2 254.6 182 253.7 181 252.3 180.5 250.4 180.2 248.1 180.4 245.4 180.8 242.3 181.6 239 182.8 235.5 184.2 231.7 186 227.9 188 224 190.2 220.2 192.5 216.4 195.1 212.8 197.7 209.4 200.4 206.3 203.1 203.5 205.7 201.1 208.3 199.1 210.7 197.6 213 196.5 215 196 216.9 195.9 218.4 196.3 219.6 197.3 220.5 198.7 221.1 200.6 221.3 202.9 221.2 205.6 220.8 208.6 219.9 212 218.8 215.5 217.3 219.3 215.6 223.1 213.6 227Z"/>
<path d="M199.3 224.8 197.1 228.1 194.8 231.2 192.3 234 189.9 236.2 187.6 237.9 185.5 239 183.7 239.4 182.3 239.1 181.2 238.2 180.6 236.6 180.5 234.4 180.9 231.7 181.7 228.7 182.9 225.3 184.5 221.8 186.5 218.3 188.7 215 191 211.9 193.5 209.1 195.9 206.9 198.2 205.2 200.3 204.1 202.1 203.7 203.5 204 204.6 204.9 205.2 206.5 205.3 208.7 204.9 211.4 204.1 214.4 202.9 217.8 201.3 221.3Z"/>
<path d="M190.9 220.5 189.6 222.3 188.3 223.7 187.1 224.5 186.2 224.5 185.7 223.8 185.8 222.5 186.3 220.7 187.3 218.8 188.6 217 189.9 215.6 191.2 214.8 192.1 214.8 192.5 215.5 192.5 216.8 191.9 218.6Z"/>
<ellipse cx="256.8" cy="253.5" rx="79.2" ry="59.6" transform="rotate(-159.5 256.8 253.5)" stroke-opacity="0.22"/>
</g>
<g stroke-width="1.3">
<circle cx="284.9" cy="268.5" r="5.16" fill="#c44e52" stroke="#ab353a" opacity="0.67"/>
<circle cx="249.8" cy="255.5" r="5.16" fill="#c44e52" stroke="#ab353a" opacity="0.69"/>
<circle cx="244.8" cy="257.1" r="5.16" fill="#c44e52" stroke="#ab353a" opacity="0.86"/>
<circle cx="250.8" cy="258.6" r="5.16" fill="#c44e52" stroke="#ab353a" opacity="0.75"/>
<circle cx="242.8" cy="246.5" r="5.16" fill="#c44e52" stroke="#ab353a" opacity="0.8"/>
<circle cx="241.7" cy="264.6" r="5.16" fill="#c44e52" stroke="#ab353a" opacity="0.63"/>
<circle cx="259.7" cy="279.3" r="5.16" fill="#c44e52" stroke="#ab353a" opacity="0.52"/>
<circle cx="259.2" cy="269.1" r="5.16" fill="#c44e52" stroke="#ab353a" opacity="0.74"/>
<circle cx="264.9" cy="263.5" r="5.16" fill="#c44e52" stroke="#ab353a" opacity="0.89"/>
<circle cx="239.1" cy="241.6" r="5.16" fill="#c44e52" stroke="#ab353a" opacity="0.82"/>
<circle cx="264.3" cy="252" r="5.16" fill="#4c72b0" stroke="#385c9a" opacity="0.61"/>
<circle cx="245.9" cy="253.5" r="5.16" fill="#4c72b0" stroke="#385c9a" opacity="0.87"/>
<circle cx="274.1" cy="244.3" r="5.16" fill="#4c72b0" stroke="#385c9a" opacity="0.88"/>
<circle cx="281" cy="268.3" r="5.16" fill="#4c72b0" stroke="#385c9a" opacity="0.56"/>
<circle cx="278.5" cy="250.9" r="5.16" fill="#4c72b0" stroke="#385c9a" opacity="0.69"/>
<circle cx="236.7" cy="261.4" r="5.16" fill="#4c72b0" stroke="#385c9a" opacity="0.79"/>
<circle cx="226.7" cy="261.6" r="5.16" fill="#4c72b0" stroke="#385c9a" opacity="0.63"/>
<circle cx="251.8" cy="259" r="5.16" fill="#4c72b0" stroke="#385c9a" opacity="0.88"/>
<circle cx="260.7" cy="267.6" r="5.16" fill="#4c72b0" stroke="#385c9a" opacity="0.66"/>
<circle cx="247.7" cy="261.1" r="5.16" fill="#4c72b0" stroke="#385c9a" opacity="0.67"/>
<circle cx="242.6" cy="251.1" r="5.16" fill="#4c72b0" stroke="#385c9a" opacity="0.53"/>
<circle cx="259" cy="278.7" r="5.16" fill="#4c72b0" stroke="#385c9a" opacity="0.51"/>
<circle cx="237.8" cy="239.2" r="5.16" fill="#4c72b0" stroke="#385c9a" opacity="0.52"/>
<circle cx="256.9" cy="249.9" r="5.16" fill="#4c72b0" stroke="#385c9a" opacity="0.82"/>
<circle cx="249.1" cy="246.3" r="5.16" fill="#4c72b0" stroke="#385c9a" opacity="0.76"/>
<circle cx="269.9" cy="263" r="5.16" fill="#4c72b0" stroke="#385c9a" opacity="0.74"/>
<circle cx="270.4" cy="263.9" r="5.16" fill="#4c72b0" stroke="#385c9a" opacity="0.58"/>
<circle cx="244.1" cy="253.5" r="5.16" fill="#4c72b0" stroke="#385c9a" opacity="0.77"/>
<circle cx="267.1" cy="268.2" r="5.16" fill="#4c72b0" stroke="#385c9a" opacity="0.88"/>
<circle cx="290.4" cy="265.1" r="5.16" fill="#4c72b0" stroke="#385c9a" opacity="0.87"/>
<circle cx="218.6" cy="255.2" r="5.16" fill="#4c72b0" stroke="#385c9a" opacity="0.63"/>
<circle cx="263.4" cy="259.5" r="5.16" fill="#4c72b0" stroke="#385c9a" opacity="0.84"/>
<circle cx="229.3" cy="241.8" r="5.16" fill="#c44e52" stroke="#ab353a" opacity="0.8"/>
<circle cx="228.1" cy="276.3" r="5.16" fill="#c44e52" stroke="#ab353a" opacity="1.0"/>
<circle cx="253.7" cy="289.2" r="5.16" fill="#c44e52" stroke="#ab353a" opacity="0.9"/>
<circle cx="292.6" cy="281.9" r="5.16" fill="#c44e52" stroke="#ab353a" opacity="0.4"/>
<circle cx="286.5" cy="294" r="5.16" fill="#c44e52" stroke="#ab353a" opacity="0.4"/>
<circle cx="320.1" cy="302.6" r="5.16" fill="#c44e52" stroke="#ab353a" opacity="0.6"/>
<circle cx="296" cy="287" r="5.16" fill="#c44e52" stroke="#ab353a" opacity="0.35"/>
<circle cx="244" cy="248" r="5.16" fill="#c44e52" stroke="#ab353a" opacity="0.9"/>
<circle cx="262" cy="240" r="5.16" fill="#c44e52" stroke="#ab353a" opacity="0.8"/>
<circle cx="325.4" cy="214.3" r="5.16" fill="#4c72b0" stroke="#385c9a" opacity="0.35"/>
<circle cx="313.8" cy="236.2" r="5.16" fill="#4c72b0" stroke="#385c9a" opacity="0.8"/>
<circle cx="239.1" cy="228.4" r="5.16" fill="#4c72b0" stroke="#385c9a" opacity="0.9"/>
<circle cx="248.8" cy="217.4" r="5.16" fill="#4c72b0" stroke="#385c9a" opacity="0.5"/>
<circle cx="219.6" cy="255.2" r="5.16" fill="#4c72b0" stroke="#385c9a" opacity="0.9"/>
<circle cx="239" cy="278.3" r="5.16" fill="#4c72b0" stroke="#385c9a" opacity="0.9"/>
<circle cx="242.7" cy="286.8" r="5.16" fill="#4c72b0" stroke="#385c9a" opacity="0.9"/>
<circle cx="210.6" cy="300.2" r="5.16" fill="#4c72b0" stroke="#385c9a" opacity="0.95"/>
<circle cx="334" cy="280.7" r="5.16" fill="#4c72b0" stroke="#385c9a" opacity="0.5"/>
<circle cx="353.6" cy="313.6" r="5.16" fill="#4c72b0" stroke="#385c9a" opacity="0.9"/>
<circle cx="270" cy="252" r="5.16" fill="#4c72b0" stroke="#385c9a" opacity="0.9"/>
<circle cx="237" cy="262" r="5.16" fill="#4c72b0" stroke="#385c9a" opacity="0.9"/>
<circle cx="245.2" cy="257.5" r="5.16" fill="#55a868" stroke="#3f9153" opacity="0.96"/>
<circle cx="260.4" cy="267.1" r="5.16" fill="#55a868" stroke="#3f9153" opacity="0.93"/>
<circle cx="276.9" cy="253.7" r="5.16" fill="#55a868" stroke="#3f9153" opacity="0.81"/>
<circle cx="262.1" cy="256" r="5.16" fill="#55a868" stroke="#3f9153" opacity="0.8"/>
<circle cx="263.5" cy="255.7" r="5.16" fill="#55a868" stroke="#3f9153" opacity="0.76"/>
<circle cx="259.8" cy="251.3" r="5.16" fill="#55a868" stroke="#3f9153" opacity="0.97"/>
<circle cx="263.5" cy="257.5" r="5.16" fill="#55a868" stroke="#3f9153" opacity="0.75"/>
<circle cx="268.8" cy="251.3" r="5.16" fill="#55a868" stroke="#3f9153" opacity="0.83"/>
<circle cx="270.6" cy="251.1" r="5.16" fill="#55a868" stroke="#3f9153" opacity="0.98"/>
<circle cx="257.2" cy="241.8" r="5.16" fill="#55a868" stroke="#3f9153" opacity="0.81"/>
<circle cx="256.8" cy="271.4" r="5.16" fill="#55a868" stroke="#3f9153" opacity="0.78"/>
<circle cx="254.1" cy="251.1" r="5.16" fill="#55a868" stroke="#3f9153" opacity="0.79"/>
<circle cx="257.2" cy="259.8" r="5.16" fill="#55a868" stroke="#3f9153" opacity="0.81"/>
<circle cx="243.7" cy="248.1" r="5.16" fill="#55a868" stroke="#3f9153" opacity="0.8"/>
<circle cx="278.8" cy="262.6" r="5.16" fill="#55a868" stroke="#3f9153" opacity="1.0"/>
<circle cx="253" cy="263.1" r="5.16" fill="#55a868" stroke="#3f9153" opacity="0.78"/>
<circle cx="251.2" cy="259.3" r="5.16" fill="#55a868" stroke="#3f9153" opacity="0.81"/>
<circle cx="266.2" cy="246.5" r="5.16" fill="#55a868" stroke="#3f9153" opacity="0.89"/>
<circle cx="253.8" cy="259" r="5.16" fill="#55a868" stroke="#3f9153" opacity="0.78"/>
<circle cx="245.4" cy="256.5" r="5.16" fill="#55a868" stroke="#3f9153" opacity="0.79"/>
<circle cx="259" cy="264" r="5.16" fill="#55a868" stroke="#3f9153" opacity="0.78"/>
<circle cx="269.8" cy="249" r="5.16" fill="#55a868" stroke="#3f9153" opacity="0.89"/>
<circle cx="246.8" cy="245" r="5.16" fill="#55a868" stroke="#3f9153" opacity="0.96"/>
<circle cx="267.6" cy="250.3" r="5.16" fill="#55a868" stroke="#3f9153" opacity="0.79"/>
<circle cx="245.7" cy="256" r="5.16" fill="#55a868" stroke="#3f9153" opacity="0.78"/>
<circle cx="249.5" cy="244.8" r="5.16" fill="#55a868" stroke="#3f9153" opacity="0.76"/>
<circle cx="269.2" cy="249.7" r="5.16" fill="#55a868" stroke="#3f9153" opacity="0.94"/>
<circle cx="266.4" cy="247.4" r="5.16" fill="#55a868" stroke="#3f9153" opacity="0.98"/>
<circle cx="261.2" cy="254" r="5.16" fill="#55a868" stroke="#3f9153" opacity="0.89"/>
<circle cx="245.6" cy="247.8" r="5.16" fill="#55a868" stroke="#3f9153" opacity="0.77"/>
<circle cx="265.8" cy="213.3" r="5.16" fill="#55a868" stroke="#3f9153" opacity="0.9"/>
<circle cx="286.5" cy="235.7" r="5.16" fill="#55a868" stroke="#3f9153" opacity="0.8"/>
<circle cx="259.8" cy="227.2" r="5.16" fill="#55a868" stroke="#3f9153" opacity="0.9"/>
<circle cx="251.2" cy="224.7" r="5.16" fill="#55a868" stroke="#3f9153" opacity="0.9"/>
<circle cx="267" cy="235.7" r="5.16" fill="#55a868" stroke="#3f9153" opacity="0.9"/>
<circle cx="241.5" cy="239.3" r="5.16" fill="#55a868" stroke="#3f9153" opacity="0.9"/>
<circle cx="206.2" cy="268" r="5.16" fill="#55a868" stroke="#3f9153" opacity="0.9"/>
<circle cx="219.6" cy="266.1" r="5.16" fill="#55a868" stroke="#3f9153" opacity="0.9"/>
<circle cx="233" cy="263.7" r="5.16" fill="#55a868" stroke="#3f9153" opacity="0.9"/>
<circle cx="256.1" cy="291.7" r="5.16" fill="#55a868" stroke="#3f9153" opacity="0.95"/>
<circle cx="276.8" cy="266.1" r="5.16" fill="#55a868" stroke="#3f9153" opacity="0.9"/>
<circle cx="290.2" cy="267.3" r="5.16" fill="#55a868" stroke="#3f9153" opacity="0.6"/>
<circle cx="262" cy="270" r="5.16" fill="#55a868" stroke="#3f9153" opacity="0.9"/>
<circle cx="270" cy="264" r="5.16" fill="#55a868" stroke="#3f9153" opacity="0.9"/>
<circle cx="345.3" cy="299.3" r="5.16" fill="#55a868" stroke="#3f9153" opacity="0.6"/>
<circle cx="333.5" cy="317.5" r="5.16" fill="#55a868" stroke="#3f9153" opacity="0.8"/>
<circle cx="298.5" cy="329.7" r="5.16" fill="#55a868" stroke="#3f9153" opacity="0.7"/>
<circle cx="363.6" cy="331.8" r="5.16" fill="#55a868" stroke="#3f9153" opacity="0.9"/>
<circle cx="376.6" cy="333.3" r="5.16" fill="#55a868" stroke="#3f9153" opacity="0.9"/>
<circle cx="387.9" cy="367.4" r="5.16" fill="#55a868" stroke="#3f9153" opacity="0.9"/>
<circle cx="304.6" cy="374.4" r="5.16" fill="#55a868" stroke="#3f9153" opacity="1.0"/>
<circle cx="284.5" cy="372.5" r="5.16" fill="#55a868" stroke="#3f9153" opacity="1.0"/>
<circle cx="419.2" cy="291.7" r="5.16" fill="#55a868" stroke="#3f9153" opacity="0.5"/>
<circle cx="422.8" cy="296.3" r="5.16" fill="#55a868" stroke="#3f9153" opacity="0.9"/>
<circle cx="422.8" cy="305.4" r="5.16" fill="#55a868" stroke="#3f9153" opacity="0.8"/>
<circle cx="439.5" cy="303.9" r="5.16" fill="#55a868" stroke="#3f9153" opacity="0.5"/>
<circle cx="408.5" cy="323.3" r="5.16" fill="#55a868" stroke="#3f9153" opacity="0.5"/>
<circle cx="439.5" cy="342.5" r="5.16" fill="#55a868" stroke="#3f9153" opacity="0.4"/>
<circle cx="362.4" cy="446.2" r="5.16" fill="#55a868" stroke="#3f9153" opacity="0.9"/>
<circle cx="276.8" cy="321.3" r="5.16" fill="#55a868" stroke="#3f9153" opacity="0.8"/>
<circle cx="297.5" cy="328.2" r="5.16" fill="#55a868" stroke="#3f9153" opacity="0.8"/>
</g>
<g fill="none" stroke="#55a868" stroke-opacity="0.6" stroke-width="1.45" stroke-linejoin="round">
<path d="M452.8 392.6 449.6 396.6 445.7 400 441.2 403 436 405.5 430.2 407.4 423.7 408.8 416.7 409.6 409.2 409.9 401.1 409.7 392.5 408.9 383.5 407.5 374.1 405.6 364.3 403.2 354.2 400.3 343.8 396.9 333.2 392.9 322.4 388.5 311.4 383.7 300.4 378.4 289.2 372.7 278.1 366.6 267.1 360.1 256.1 353.3 245.2 346.2 234.6 338.9 224.2 331.3 214 323.4 204.2 315.4 194.7 307.3 185.7 299 177 290.7 168.9 282.3 161.3 274 154.2 265.6 147.7 257.4 141.7 249.2 136.5 241.2 131.8 233.4 127.9 225.7 124.6 218.3 122 211.2 120.2 204.4 119 197.9 118.6 191.8 118.9 186.1 120 180.7 121.7 175.8 124.2 171.4"/>
<path d="M452.8 392.6 447.8 396.4 442.1 399.6 435.8 402.4 428.8 404.6 421.2 406.4 413.1 407.5 404.4 408.2 395.2 408.3 385.6 407.9 375.5 406.9 365.1 405.4 354.4 403.4 343.3 400.8 332.1 397.8 320.6 394.2 309 390.2 297.4 385.7 285.6 380.7 273.9 375.4 262.3 369.6 250.8 363.5 239.4 357 228.2 350.2 217.3 343.1 206.8 335.7 196.5 328.1 186.7 320.3 177.2 312.4 168.3 304.3 159.9 296.1 152 287.8 144.7 279.6 138.1 271.3 132 263.1 126.7 255 122 247 118.1 239.1 114.8 231.4 112.4 224 110.6 216.7 109.7 209.8 109.5 203.2 110 196.9 111.4 191 113.5 185.4 116.3 180.3 119.9 175.6 124.2 171.4"/>
<path d="M452.8 392.6 447.1 395.1 440.8 397.2 433.8 398.8 426.2 399.8 418 400.4 409.3 400.4 400 400 390.2 399 380.1 397.6 369.5 395.6 358.6 393.2 347.3 390.2 335.9 386.9 324.2 383 312.3 378.8 300.4 374.1 288.4 369 276.4 363.6 264.5 357.8 252.7 351.6 241 345.2 229.5 338.5 218.3 331.6 207.4 324.5 196.8 317.1 186.6 309.7 176.9 302.1 167.6 294.4 158.9 286.7 150.7 278.9 143.1 271.2 136.1 263.5 129.8 255.9 124.1 248.4 119.2 241 115 233.8 111.5 226.8 108.8 220.1 106.8 213.6 105.7 207.5 105.3 201.6 105.7 196.1 106.8 190.9 108.8 186.2 111.5 181.8 115 177.9 119.2 174.4 124.2 171.4"/>
<path d="M452.8 392.6 447.8 393.2 442.2 393.4 435.9 393 428.9 392.2 421.4 391 413.3 389.2 404.6 387 395.5 384.4 385.9 381.3 375.9 377.8 365.5 373.8 354.8 369.5 343.8 364.8 332.5 359.8 321.1 354.4 309.5 348.7 297.9 342.7 286.2 336.5 274.5 330 262.8 323.3 251.3 316.5 240 309.5 228.8 302.4 217.9 295.2 207.3 287.9 197.1 280.6 187.2 273.3 177.8 266.1 168.8 258.9 160.4 251.8 152.5 244.9 145.2 238.1 138.5 231.5 132.5 225.1 127.1 219 122.4 213.1 118.4 207.5 115.2 202.3 112.7 197.3 110.9 192.8 109.9 188.6 109.7 184.9 110.2 181.5 111.5 178.6 113.6 176.1 116.4 174.1 119.9 172.5 124.2 171.4"/>
<path d="M452.8 392.6 449.7 391.1 445.9 389.1 441.4 386.7 436.3 383.8 430.5 380.5 424.1 376.7 417.2 372.6 409.7 368 401.6 363.1 393.1 357.9 384.2 352.3 374.8 346.4 365.1 340.3 355 333.9 344.6 327.3 334 320.4 323.3 313.5 312.3 306.3 301.3 299.1 290.2 291.8 279.1 284.5 268 277.1 257.1 269.8 246.2 262.5 235.6 255.3 225.1 248.3 215 241.3 205.1 234.6 195.7 228 186.6 221.7 177.9 215.6 169.7 209.8 162.1 204.4 154.9 199.2 148.4 194.4 142.4 190 137.1 186 132.4 182.4 128.4 179.2 125.1 176.5 122.4 174.2 120.5 172.4 119.3 171 118.9 170.1 119.1 169.7 120.1 169.8 121.8 170.4 124.2 171.4"/>
<path d="M452.8 392.6 452.2 389.3 451 385.5 449 381.3 446.4 376.6 443 371.6 439 366.1 434.4 360.3 429.1 354.2 423.3 347.7 416.8 341 409.9 334 402.4 326.8 394.4 319.4 385.9 311.9 377.1 304.2 367.8 296.4 358.2 288.6 348.3 280.7 338.2 272.9 327.9 265 317.3 257.3 306.7 249.7 296 242.1 285.2 234.8 274.5 227.7 263.8 220.8 253.2 214.1 242.8 207.8 232.6 201.8 222.6 196.1 212.9 190.8 203.5 185.8 194.5 181.3 185.9 177.2 177.7 173.6 170 170.4 162.8 167.7 156.2 165.5 150.1 163.8 144.6 162.6 139.7 161.9 135.5 161.8 131.9 162.1 128.9 163 126.7 164.3 125.2 166.2 124.3 168.6 124.2 171.4"/>
<path d="M452.8 392.6 454.8 388.2 456.2 383.4 456.8 378.2 456.7 372.5 455.8 366.5 454.3 360.1 452 353.3 449.1 346.3 445.4 339 441.1 331.4 436.1 323.6 430.5 315.7 424.3 307.6 417.5 299.3 410.2 291.1 402.3 282.7 393.9 274.4 385.1 266.1 375.9 257.9 366.3 249.8 356.4 241.8 346.2 234 335.7 226.4 325 219 314.2 211.9 303.3 205.1 292.3 198.6 281.3 192.5 270.3 186.8 259.4 181.5 248.6 176.6 238 172.1 227.6 168.2 217.5 164.7 207.6 161.7 198.2 159.2 189.1 157.3 180.4 155.9 172.2 155 164.5 154.7 157.3 154.9 150.7 155.7 144.7 157 139.3 158.9 134.5 161.2 130.4 164.1 126.9 167.5 124.2 171.4"/>
<path d="M452.8 392.6 456.8 388.2 460.2 383.4 462.7 378.2 464.6 372.5 465.7 366.5 466 360.1 465.5 353.4 464.4 346.3 462.4 339 459.7 331.4 456.3 323.7 452.1 315.7 447.3 307.6 441.8 299.4 435.6 291.1 428.8 282.8 421.4 274.5 413.4 266.2 404.9 258 395.9 249.9 386.4 241.9 376.5 234.1 366.2 226.5 355.6 219.1 344.7 212 333.6 205.2 322.3 198.7 310.8 192.6 299.3 186.9 287.6 181.6 276 176.7 264.5 172.2 253 168.2 241.7 164.8 230.6 161.8 219.8 159.3 209.2 157.4 199 156 189.2 155.1 179.8 154.8 170.8 155 162.4 155.7 154.5 157 147.2 158.9 140.5 161.3 134.4 164.1 128.9 167.5 124.2 171.4"/>
<path d="M452.8 392.6 457.7 389.3 461.9 385.5 465.4 381.3 468.1 376.7 470.1 371.6 471.2 366.2 471.6 360.4 471.2 354.3 470 347.9 468 341.2 465.3 334.2 461.8 327 457.6 319.6 452.6 312.1 447 304.4 440.6 296.6 433.6 288.8 426 280.9 417.8 273.1 409.1 265.3 399.8 257.5 390 249.9 379.9 242.4 369.3 235 358.4 227.9 347.2 221 335.7 214.4 324 208 312.2 202 300.3 196.3 288.3 191 276.3 186 264.4 181.5 252.6 177.4 240.9 173.8 229.5 170.6 218.2 167.9 207.3 165.7 196.8 164 186.6 162.7 176.9 162 167.6 161.8 158.9 162.2 150.7 163 143.1 164.4 136.2 166.2 129.8 168.6 124.2 171.4"/>
<path d="M452.8 392.6 457.3 391.1 461.1 389.2 464.1 386.7 466.4 383.9 467.9 380.6 468.6 376.9 468.6 372.7 467.8 368.2 466.3 363.3 463.9 358.1 460.9 352.5 457.1 346.7 452.5 340.5 447.3 334.1 441.4 327.5 434.8 320.7 427.6 313.7 419.8 306.6 411.5 299.4 402.6 292.1 393.2 284.8 383.4 277.4 373.2 270.1 362.6 262.8 351.7 255.7 340.5 248.6 329.1 241.6 317.5 234.9 305.8 228.3 294.1 222 282.3 215.9 270.5 210.1 258.8 204.6 247.2 199.5 235.9 194.7 224.7 190.3 213.8 186.2 203.2 182.6 193 179.4 183.2 176.6 173.9 174.3 165.1 172.5 156.7 171.1 149 170.2 141.8 169.8 135.3 169.8 129.4 170.4 124.2 171.4"/>
<path d="M452.8 392.6 455.6 393.2 457.7 393.4 459.1 393.1 459.8 392.3 459.7 391.1 458.9 389.3 457.4 387.2 455.1 384.5 452.1 381.5 448.5 378 444.1 374 439.1 369.7 433.4 365.1 427.1 360 420.2 354.7 412.8 349 404.8 343 396.3 336.8 387.4 330.3 378 323.7 368.3 316.8 358.2 309.8 347.8 302.7 337.2 295.5 326.3 288.2 315.3 280.9 304.2 273.6 293 266.4 281.8 259.2 270.6 252.1 259.5 245.2 248.5 238.4 237.7 231.8 227.1 225.4 216.8 219.2 206.7 213.3 197.1 207.7 187.8 202.5 178.9 197.5 170.5 193 162.7 188.8 155.3 185 148.6 181.6 142.4 178.7 136.8 176.2 132 174.1 127.7 172.5 124.2 171.4"/>
<path d="M452.8 392.6 453.2 395.2 452.8 397.2 451.8 398.8 450 399.9 447.6 400.5 444.5 400.5 440.7 400.1 436.3 399.1 431.2 397.7 425.5 395.8 419.3 393.3 412.4 390.4 405.1 387 397.2 383.2 388.9 379 380.2 374.3 371 369.2 361.5 363.8 351.7 358 341.6 351.9 331.3 345.5 320.8 338.8 310.2 331.9 299.5 324.7 288.7 317.4 277.9 309.9 267.2 302.3 256.6 294.6 246.1 286.9 235.8 279.1 225.7 271.4 215.9 263.7 206.3 256.1 197.2 248.6 188.4 241.2 180.1 234 172.2 227 164.8 220.3 158 213.8 151.7 207.6 146 201.7 140.9 196.2 136.4 191 132.6 186.2 129.5 181.9 127 177.9 125.3 174.4 124.2 171.4"/>
<path d="M452.8 392.6 450.5 396.4 447.5 399.6 443.9 402.4 439.6 404.7 434.6 406.4 429 407.6 422.8 408.3 416 408.4 408.7 407.9 400.9 407 392.6 405.5 383.8 403.5 374.7 400.9 365.1 397.9 355.3 394.3 345.1 390.3 334.7 385.8 324.1 380.8 313.4 375.5 302.5 369.7 291.6 363.6 280.7 357.1 269.8 350.3 259 343.2 248.3 335.8 237.8 328.2 227.5 320.4 217.5 312.5 207.8 304.4 198.4 296.2 189.4 287.9 180.8 279.7 172.7 271.4 165.1 263.2 158 255.1 151.5 247.1 145.5 239.2 140.2 231.5 135.5 224 131.5 216.8 128.1 209.9 125.4 203.2 123.4 196.9 122.2 191 121.6 185.5 121.8 180.3 122.6 175.6 124.2 171.4"/>
<path d="M452.8 392.6 449.6 396.6 445.7 400 441.2 403 436 405.5 430.2 407.4 423.7 408.8 416.7 409.6 409.2 409.9 401.1 409.7 392.5 408.9 383.5 407.5 374.1 405.6 364.3 403.2 354.2 400.3 343.8 396.9 333.2 392.9 322.4 388.5 311.4 383.7 300.4 378.4 289.2 372.7 278.1 366.6 267.1 360.1 256.1 353.3 245.2 346.2 234.6 338.9 224.2 331.3 214 323.4 204.2 315.4 194.7 307.3 185.7 299 177 290.7 168.9 282.3 161.3 274 154.2 265.6 147.7 257.4 141.7 249.2 136.5 241.2 131.8 233.4 127.9 225.7 124.6 218.3 122 211.2 120.2 204.4 119 197.9 118.6 191.8 118.9 186.1 120 180.7 121.7 175.8 124.2 171.4"/>
<path d="M436.7 405.2 432.9 405.3 429.9 404.5 428 402.8 427.2 400.3 427.6 397.2 429.1 393.5 431.7 389.6 435.3 385.7 439.5 382 444.2 378.7 449.1 375.9 454 374 458.4 372.9 462.2 372.8 465.2 373.6 467.1 375.3 467.9 377.8 467.5 381 465.9 384.6 463.3 388.5 459.8 392.4 455.5 396.1 450.8 399.4 445.9 402.2 441.1 404.1Z"/>
<path d="M411 409.9 406.4 410.3 402.3 410 398.9 409 396.1 407.4 394.2 405.2 393 402.4 392.6 399.1 393.1 395.4 394.5 391.3 396.6 387 399.5 382.4 403.1 377.8 407.3 373.2 412 368.7 417.2 364.5 422.7 360.5 428.3 356.9 434.1 353.8 439.8 351.2 445.3 349.2 450.6 347.9 455.5 347.1 459.9 347.1 463.6 347.7 466.7 349 469.1 350.9 470.7 353.4 471.4 356.5 471.4 360 470.4 363.9 468.7 368.1 466.2 372.6 462.9 377.2 459 381.8 454.6 386.3 449.6 390.7 444.3 394.9 438.7 398.6 432.9 402 427.2 404.8 421.5 407.1 416.1 408.8Z"/>
<path d="M377.6 406.4 372.5 406.9 367.9 406.8 363.8 406.2 360.2 405.1 357.2 403.5 354.8 401.3 353 398.7 351.9 395.6 351.4 392.1 351.7 388.3 352.6 384.1 354.2 379.7 356.4 375 359.3 370.2 362.7 365.3 366.7 360.4 371.1 355.5 376 350.6 381.3 345.9 386.9 341.4 392.8 337.1 398.8 333.2 405 329.6 411.1 326.4 417.2 323.6 423.2 321.3 429.1 319.5 434.6 318.2 439.8 317.4 444.6 317.2 449 317.5 452.9 318.3 456.2 319.7 458.9 321.6 461 324 462.5 326.9 463.2 330.2 463.3 333.8 462.8 337.8 461.5 342.2 459.6 346.7 457.1 351.4 453.9 356.3 450.2 361.2 446 366.2 441.3 371.1 436.2 375.8 430.7 380.5 425 384.8 419 389 412.9 392.7 406.8 396.2 400.6 399.2 394.6 401.7 388.6 403.8 383 405.3Z"/>
<path d="M338.4 394.9 333.2 395.5 328.4 395.6 324 395.2 320 394.4 316.5 393.1 313.4 391.4 310.9 389.3 308.9 386.8 307.4 383.9 306.5 380.6 306.2 377 306.5 373.1 307.3 368.9 308.6 364.5 310.6 359.8 313 355 316 350.1 319.5 345.2 323.4 340.1 327.7 335.1 332.5 330.1 337.6 325.2 343 320.5 348.7 315.8 354.6 311.4 360.7 307.3 366.8 303.4 373.1 299.8 379.4 296.5 385.6 293.7 391.8 291.2 397.8 289.1 403.6 287.4 409.2 286.2 414.5 285.4 419.5 285.1 424.1 285.2 428.3 285.8 432.1 286.8 435.4 288.3 438.2 290.2 440.4 292.5 442.2 295.3 443.3 298.4 443.9 301.8 444 305.6 443.5 309.6 442.4 313.9 440.7 318.5 438.5 323.2 435.8 328 432.6 333 428.9 338 424.7 343 420.2 348 415.2 353 410 357.8 404.4 362.5 398.6 367 392.6 371.3 386.5 375.3 380.3 379.1 374 382.5 367.8 385.6 361.6 388.3 355.5 390.6 349.5 392.4 343.8 393.9Z"/>
<path d="M296 376.2 290.7 376.8 285.8 376.9 281.2 376.7 276.9 376 273.1 374.9 269.8 373.4 266.9 371.5 264.5 369.2 262.5 366.5 261.1 363.5 260.2 360.1 259.8 356.5 260 352.5 260.7 348.3 261.9 343.9 263.6 339.3 265.9 334.5 268.6 329.5 271.8 324.5 275.4 319.4 279.5 314.3 283.9 309.1 288.7 304.1 293.9 299 299.3 294.1 305 289.4 310.9 284.8 317.1 280.4 323.3 276.2 329.6 272.4 336 268.8 342.4 265.5 348.8 262.5 355.1 259.9 361.2 257.7 367.2 255.9 373 254.5 378.6 253.5 383.9 252.9 388.8 252.7 393.4 253 397.6 253.7 401.4 254.8 404.8 256.3 407.7 258.2 410.1 260.5 412 263.2 413.5 266.2 414.4 269.5 414.7 273.2 414.6 277.1 413.9 281.4 412.7 285.8 410.9 290.4 408.7 295.2 406 300.2 402.8 305.2 399.2 310.3 395.1 315.4 390.7 320.5 385.8 325.6 380.7 330.6 375.2 335.5 369.5 340.3 363.6 344.9 357.5 349.3 351.3 353.4 344.9 357.3 338.5 360.9 332.1 364.2 325.8 367.1 319.5 369.7 313.3 371.9 307.3 373.8 301.5 375.2Z"/>
<path d="M253.1 351.4 247.8 352 242.8 352.2 238.1 352 233.8 351.4 229.9 350.3 226.5 348.9 223.4 347.1 220.8 344.9 218.7 342.3 217.1 339.4 216 336.2 215.4 332.6 215.3 328.8 215.8 324.7 216.7 320.3 218.1 315.8 220 311 222.5 306.2 225.3 301.2 228.7 296.1 232.4 290.9 236.6 285.8 241.1 280.6 246 275.5 251.2 270.5 256.7 265.5 262.4 260.7 268.4 256.1 274.5 251.7 280.8 247.5 287.1 243.5 293.6 239.8 300 236.5 306.4 233.4 312.8 230.7 319 228.3 325.1 226.3 331.1 224.7 336.8 223.5 342.2 222.7 347.4 222.3 352.2 222.4 356.7 222.8 360.8 223.6 364.5 224.9 367.7 226.5 370.6 228.5 372.9 230.9 374.8 233.6 376.1 236.7 377 240.1 377.3 243.8 377.2 247.8 376.5 252 375.3 256.5 373.6 261.1 371.4 265.9 368.8 270.8 365.7 275.9 362.2 281 358.2 286.2 353.8 291.3 349.1 296.5 344.1 301.5 338.7 306.5 333.1 311.4 327.3 316.1 321.2 320.7 315 325 308.7 329.1 302.3 332.9 295.9 336.4 289.4 339.6 283 342.5 276.7 345.1 270.5 347.2 264.5 349 258.7 350.4Z"/>
<path d="M212.5 322.2 207.3 322.8 202.3 323 197.7 322.8 193.4 322.1 189.6 321.1 186.2 319.6 183.2 317.8 180.7 315.6 178.6 313 177.1 310 176.1 306.8 175.5 303.2 175.5 299.4 176 295.2 177 290.9 178.6 286.4 180.6 281.6 183.1 276.8 186 271.8 189.5 266.7 193.3 261.6 197.5 256.5 202.1 251.4 207.1 246.3 212.3 241.3 217.9 236.5 223.6 231.8 229.6 227.2 235.7 222.9 242 218.8 248.3 215 254.7 211.5 261.1 208.3 267.5 205.4 273.7 202.8 279.9 200.7 285.9 198.9 291.6 197.5 297.2 196.5 302.5 195.9 307.4 195.7 312 195.9 316.3 196.6 320.1 197.6 323.5 199.1 326.5 200.9 329 203.1 331.1 205.7 332.6 208.6 333.6 211.9 334.2 215.5 334.2 219.3 333.7 223.4 332.7 227.8 331.1 232.3 329.1 237.1 326.6 241.9 323.7 246.9 320.2 252 316.4 257.1 312.2 262.2 307.6 267.3 302.6 272.4 297.4 277.4 291.8 282.2 286.1 286.9 280.1 291.5 274 295.8 267.7 299.9 261.4 303.7 255 307.2 248.6 310.4 242.2 313.3 236 315.9 229.8 318 223.8 319.8 218.1 321.2Z"/>
<path d="M176.8 290.5 171.6 291 166.7 291.2 162.2 290.8 158.1 290.1 154.4 288.9 151.2 287.3 148.5 285.2 146.3 282.8 144.7 280 143.5 276.8 143 273.3 142.9 269.5 143.4 265.4 144.5 261.1 146.1 256.5 148.3 251.8 150.9 246.9 154.1 241.9 157.7 236.9 161.7 231.8 166.2 226.7 171 221.7 176.2 216.8 181.7 211.9 187.4 207.3 193.4 202.8 199.5 198.6 205.7 194.6 212 190.9 218.4 187.6 224.7 184.5 230.9 181.9 237.1 179.6 243 177.8 248.8 176.3 254.3 175.3 259.5 174.7 264.4 174.6 268.9 174.9 273 175.7 276.6 176.9 279.8 178.5 282.5 180.5 284.7 183 286.4 185.8 287.5 188.9 288.1 192.4 288.2 196.3 287.6 200.3 286.6 204.7 285 209.2 282.8 214 280.2 218.8 277 223.8 273.4 228.9 269.4 234 264.9 239 260.1 244.1 254.9 249 249.4 253.8 243.7 258.5 237.7 262.9 231.6 267.2 225.4 271.2 219.1 274.8 212.7 278.2 206.4 281.2 200.2 283.9 194 286.1 188.1 288 182.3 289.4Z"/>
<path d="M148.2 258.1 143.1 258.7 138.5 258.7 134.2 258.2 130.4 257.2 127.2 255.7 124.5 253.8 122.3 251.4 120.8 248.6 119.9 245.3 119.6 241.7 120 237.8 120.9 233.6 122.5 229.1 124.7 224.5 127.5 219.7 130.8 214.7 134.6 209.8 138.9 204.8 143.6 199.9 148.7 195 154.2 190.4 159.9 185.9 165.8 181.7 171.9 177.7 178.1 174.1 184.3 170.8 190.5 168 196.6 165.5 202.5 163.5 208.2 162 213.6 161 218.7 160.5 223.4 160.5 227.6 161 231.4 161.9 234.7 163.4 237.4 165.4 239.5 167.8 241 170.6 241.9 173.8 242.2 177.4 241.9 181.3 240.9 185.5 239.3 190 237.1 194.7 234.3 199.5 231 204.4 227.2 209.4 222.9 214.3 218.2 219.3 213.1 224.1 207.6 228.8 201.9 233.3 196 237.5 189.9 241.4 183.7 245.1 177.5 248.3 171.3 251.2 165.2 253.6 159.3 255.6 153.6 257.1Z"/>
<path d="M128.6 227.3 123.8 227.8 119.4 227.6 115.6 226.8 112.5 225.3 110 223.3 108.3 220.7 107.4 217.6 107.2 214.1 107.8 210.1 109.2 205.9 111.4 201.3 114.3 196.6 117.8 191.8 121.9 187 126.6 182.3 131.7 177.7 137.2 173.3 143 169.2 148.9 165.5 155 162.2 160.9 159.4 166.8 157.2 172.4 155.5 177.7 154.5 182.6 154 186.9 154.2 190.7 155 193.9 156.5 196.3 158.5 198 161.1 199 164.2 199.1 167.7 198.5 171.7 197.1 175.9 194.9 180.5 192.1 185.2 188.5 190 184.4 194.8 179.7 199.5 174.6 204.2 169.1 208.5 163.3 212.6 157.4 216.3 151.4 219.6 145.4 222.4 139.6 224.6 133.9 226.3Z"/>
<path d="M119.3 200 115 200.3 111.5 199.7 108.8 198.3 107.1 196.1 106.4 193.2 106.8 189.7 108.2 185.7 110.6 181.5 114 177.2 118.1 172.9 122.8 168.7 128 165 133.4 161.7 138.8 159.1 144 157.2 148.9 156.1 153.2 155.8 156.8 156.4 159.4 157.9 161.2 160.1 161.8 163 161.4 166.5 160 170.4 157.6 174.6 154.2 179 150.1 183.3 145.4 187.4 140.2 191.2 134.8 194.4 129.4 197 124.2 198.9Z"/>
<path d="M120.8 178 118.6 177.9 117.4 176.9 117.3 175.1 118.4 172.9 120.5 170.5 123.2 168.3 126.2 166.6 129.1 165.8 131.2 165.9 132.5 166.9 132.5 168.7 131.5 170.9 129.4 173.3 126.6 175.5 123.6 177.2Z"/>
<ellipse cx="288.5" cy="282" rx="205" ry="89.5" transform="rotate(-150.1 288.5 282)" stroke-opacity="0.22"/>
</g>
<polyline points="31.2,449.6 368.7,559.9 548,375.9 559.4,127.7" fill="none" stroke="#202020" stroke-width="2.6" stroke-linejoin="miter"/>
<g stroke="#202020" stroke-width="2.3" stroke-linecap="round">
<line x1="42.7" y1="457.9" x2="48.5" y2="453"/>
<line x1="93.2" y1="474.5" x2="98.9" y2="469.5"/>
<line x1="144.6" y1="491.3" x2="150.2" y2="486.2"/>
<line x1="196.8" y1="508.4" x2="202.4" y2="503.2"/>
<line x1="249.9" y1="525.8" x2="255.3" y2="520.5"/>
<line x1="303.8" y1="543.4" x2="309.2" y2="538.1"/>
<line x1="385.4" y1="551.4" x2="375.8" y2="548.3"/>
<line x1="425.2" y1="510.4" x2="415.7" y2="507.4"/>
<line x1="463.4" y1="471" x2="454.1" y2="468.1"/>
<line x1="500.3" y1="433" x2="491.1" y2="430.2"/>
<line x1="535.8" y1="396.4" x2="526.8" y2="393.7"/>
<line x1="554.7" y1="364.5" x2="545.6" y2="361.9"/>
<line x1="556.4" y1="327.1" x2="547.3" y2="324.5"/>
<line x1="558.2" y1="289.1" x2="549" y2="286.6"/>
<line x1="560" y1="250.6" x2="550.8" y2="248.1"/>
<line x1="561.8" y1="211.6" x2="552.5" y2="209.2"/>
<line x1="563.7" y1="172.1" x2="554.3" y2="169.7"/>
</g>
<g font-size="23.54" text-anchor="middle" fill="#161616" stroke="#161616" stroke-width="0.25">
<text x="30.5" y="506.9">−0.10</text>
<text x="81" y="523.4">−0.08</text>
<text x="132.3" y="540.2">−0.06</text>
<text x="184.5" y="557.2">−0.04</text>
<text x="237.5" y="574.5">−0.02</text>
<text x="291.4" y="592.1">0.00</text>
<text x="405" y="594.8">−0.05</text>
<text x="444.9" y="553.9">−0.04</text>
<text x="483.3" y="514.5">−0.03</text>
<text x="520.2" y="476.6">−0.02</text>
<text x="555.8" y="440">−0.01</text>
<text x="589.2" y="374.4">0.02</text>
<text x="590.9" y="336.9">0.03</text>
<text x="592.6" y="299">0.04</text>
<text x="594.4" y="260.6">0.05</text>
<text x="596.2" y="221.6">0.06</text>
<text x="598" y="182.1">0.07</text>
</g>
<g font-size="26.24" text-anchor="middle" fill="#161616" stroke="#161616" stroke-width="0.25">
<text transform="translate(160 579) rotate(19)" y="7.87">Posterior<tspan dx="13.91" font-family="DejaVu Sans, sans-serif" font-size="26.24">↔</tspan><tspan dx="10.5">Anterior (m)</tspan></text>
<text transform="translate(518.5 523.5) rotate(-45.8)" y="7.87">Right<tspan dx="13.91" font-family="DejaVu Sans, sans-serif" font-size="26.24">↔</tspan><tspan dx="10.5">Left (m)</tspan></text>
<text transform="translate(637 245) rotate(-87.5)" y="7.87">Inferior<tspan dx="13.91" font-family="DejaVu Sans, sans-serif" font-size="26.24">↔</tspan><tspan dx="10.5">Superior (m)</tspan></text>
</g>
<rect x="220.9" y="7.5" width="353.7" height="112.7" rx="4.51" ry="4.51" fill="#ffffff" fill-opacity="0.8" stroke="#cccccc" stroke-opacity="0.8" stroke-width="1.3"/>
<line x1="230.8" y1="27.9" x2="278.6" y2="27.9" stroke="#c44e52" stroke-opacity="0.55" stroke-width="1.31"/>
<text x="297.4" y="36.2" font-size="23.64" fill="#161616" stroke="#161616" stroke-width="0.25">Neurophysiologist(N=25)</text>
<line x1="230.8" y1="62.8" x2="278.6" y2="62.8" stroke="#55a868" stroke-opacity="0.55" stroke-width="1.31"/>
<text x="297.4" y="70.7" font-size="23.64" fill="#161616" stroke="#161616" stroke-width="0.25">Single Center Model(N=54)</text>
<line x1="230.8" y1="97.8" x2="278.6" y2="97.8" stroke="#4c72b0" stroke-opacity="0.55" stroke-width="1.31"/>
<text x="297.4" y="105.3" font-size="23.64" fill="#161616" stroke="#161616" stroke-width="0.25">Multi Center Model(N=55)</text>
</g>
<g>
<polygon points="687.5,464.2 895,290.3 892.1,39.5 674.7,198.2" fill="#f8f8f8"/>
<polygon points="895,290.3 1227.9,387.1 1239.8,127.7 892.1,39.5" fill="#f1f1f1"/>
<polygon points="687.5,464.2 1040.4,579.5 1227.9,387.1 895,290.3" fill="#f5f5f5"/>
<g fill="none" stroke="#cccccc" stroke-width="1.99" stroke-linejoin="round">
<polyline points="740.8,481.6 945.4,305 944.7,52.9"/>
<polyline points="797.6,500.2 999.1,320.6 1000.7,67.1"/>
<polyline points="855.4,519 1053.7,336.5 1057.7,81.5"/>
<polyline points="914.2,538.2 1109.2,352.6 1115.6,96.2"/>
<polyline points="974.1,557.8 1165.6,369 1174.6,111.1"/>
<polyline points="695.7,182.9 707.5,447.5 1058.5,560.9"/>
<polyline points="726.4,160.4 736.7,423 1085,533.7"/>
<polyline points="756.5,138.5 765.4,399 1110.9,507.1"/>
<polyline points="785.8,117.1 793.3,375.5 1136.2,481.1"/>
<polyline points="814.4,96.2 820.6,352.6 1160.9,455.8"/>
<polyline points="842.4,75.8 847.4,330.2 1185,431.1"/>
<polyline points="869.7,55.9 873.5,308.3 1208.5,406.9"/>
<polyline points="684.9,410.2 894.4,239.2 1230.3,334.3"/>
<polyline points="682,349.5 893.7,181.9 1233,275.1"/>
<polyline points="679,287.5 893.1,123.5 1235.8,214.7"/>
<polyline points="676,224.2 892.4,64 1238.6,153"/>
</g>
<g fill="none" stroke="#c44e52" stroke-opacity="0.6" stroke-width="1.52" stroke-linejoin="round">
<path d="M1026 295.3 1029.5 294.9 1032.7 294.5 1035.6 294.2 1038.1 293.9 1040.2 293.7 1042.1 293.5 1043.5 293.3 1044.6 293.2 1045.3 293.1 1045.6 293.1 1045.5 293.1 1045 293.1 1044.2 293.2 1043 293.4 1041.4 293.5 1039.4 293.8 1037.1 294 1034.4 294.3 1031.4 294.7 1028.1 295.1 1024.5 295.5 1020.5 295.9 1016.3 296.4 1011.9 296.9 1007.2 297.4 1002.3 298 997.2 298.6 991.9 299.2 986.4 299.8 980.8 300.5 975.2 301.1 969.4 301.8 963.6 302.4 957.7 303.1 951.9 303.8 946 304.4 940.2 305.1 934.5 305.8 928.8 306.4 923.3 307 917.9 307.6 912.7 308.2 907.7 308.8 902.9 309.4 898.2 309.9 893.9 310.4 889.8 310.9 886 311.3"/>
<path d="M1026 295.3 1029.3 296.6 1032.3 297.9 1035 299.2 1037.3 300.5 1039.2 301.8 1040.9 303.2 1042.1 304.5 1043 305.9 1043.5 307.2 1043.7 308.5 1043.4 309.8 1042.8 311.1 1041.8 312.3 1040.5 313.5 1038.8 314.7 1036.7 315.8 1034.3 316.8 1031.5 317.8 1028.5 318.8 1025.1 319.6 1021.4 320.4 1017.5 321.1 1013.2 321.8 1008.8 322.3 1004.1 322.8 999.2 323.2 994.1 323.5 988.9 323.8 983.5 323.9 978 323.9 972.4 323.9 966.7 323.8 961 323.6 955.3 323.3 949.5 322.9 943.8 322.4 938.2 321.9 932.6 321.2 927.1 320.5 921.8 319.7 916.6 318.9 911.5 318 906.7 317 902 316 897.6 314.9 893.5 313.7 889.6 312.5 886 311.3"/>
<path d="M1026 295.3 1028.2 297.9 1030.1 300.5 1031.7 303.2 1033 305.8 1034 308.5 1034.6 311.1 1034.9 313.7 1034.8 316.2 1034.4 318.7 1033.7 321.1 1032.6 323.4 1031.2 325.7 1029.5 327.8 1027.4 329.9 1025.1 331.8 1022.5 333.6 1019.6 335.3 1016.4 336.9 1012.9 338.3 1009.2 339.5 1005.3 340.6 1001.2 341.6 996.8 342.3 992.3 343 987.7 343.4 982.9 343.7 978 343.8 973 343.7 967.9 343.4 962.8 343 957.6 342.4 952.5 341.6 947.3 340.7 942.2 339.6 937.2 338.4 932.2 337 927.3 335.5 922.6 333.8 918 332 913.5 330.1 909.3 328 905.2 325.9 901.4 323.6 897.8 321.3 894.4 318.9 891.3 316.4 888.5 313.9 886 311.3"/>
<path d="M1026 295.3 1026.6 298.6 1026.8 301.9 1026.8 305.3 1026.4 308.6 1025.7 311.9 1024.8 315.1 1023.5 318.4 1022 321.5 1020.2 324.6 1018.1 327.6 1015.7 330.4 1013.1 333.2 1010.2 335.8 1007.1 338.3 1003.8 340.7 1000.3 342.8 996.6 344.8 992.7 346.7 988.7 348.3 984.5 349.8 980.2 351 975.8 352.1 971.3 352.9 966.7 353.6 962.1 354 957.5 354.2 952.9 354.2 948.3 353.9 943.7 353.5 939.1 352.8 934.7 351.9 930.3 350.8 926 349.5 921.9 348.1 917.9 346.4 914.1 344.5 910.5 342.5 907 340.3 903.8 337.9 900.7 335.4 898 332.7 895.4 329.9 893.2 327 891.2 324 889.4 321 888 317.8 886.9 314.6 886 311.3"/>
<path d="M1026 295.3 1024.7 298.5 1023.1 301.7 1021.2 304.9 1019.1 308 1016.6 311.2 1013.9 314.4 1011 317.4 1007.8 320.5 1004.4 323.4 1000.8 326.3 997 329.1 993.1 331.7 988.9 334.3 984.7 336.7 980.3 338.9 975.8 341 971.2 343 966.6 344.8 961.9 346.4 957.1 347.8 952.4 349 947.7 350 943 350.9 938.4 351.5 933.9 351.9 929.4 352.1 925.1 352.1 920.9 351.9 916.9 351.5 913 350.9 909.3 350.1 905.8 349 902.5 347.8 899.4 346.4 896.6 344.8 894.1 343 891.8 341.1 889.8 339 888 336.7 886.6 334.3 885.4 331.8 884.6 329.1 884.1 326.4 883.8 323.5 883.9 320.6 884.3 317.5 885 314.4 886 311.3"/>
<path d="M1026 295.3 1023.1 297.5 1020 299.8 1016.6 302.1 1012.9 304.4 1009 306.6 1004.8 308.9 1000.5 311.2 995.9 313.4 991.2 315.5 986.3 317.6 981.3 319.7 976.2 321.7 971 323.6 965.7 325.4 960.4 327.1 955.1 328.7 949.8 330.2 944.5 331.6 939.3 332.9 934.1 334 929 335.1 924 335.9 919.2 336.7 914.6 337.3 910.1 337.7 905.8 338 901.7 338.2 897.9 338.2 894.3 338 890.9 337.7 887.9 337.3 885.1 336.7 882.7 336 880.5 335.1 878.7 334.1 877.2 333 876 331.7 875.2 330.3 874.8 328.8 874.7 327.2 874.9 325.5 875.5 323.7 876.4 321.8 877.7 319.8 879.3 317.8 881.2 315.7 883.4 313.5 886 311.3"/>
<path d="M1026 295.3 1022.3 296 1018.2 296.8 1014 297.6 1009.4 298.5 1004.6 299.3 999.7 300.2 994.5 301.1 989.2 302 983.7 302.9 978.1 303.8 972.5 304.7 966.7 305.5 960.9 306.4 955.1 307.3 949.3 308.1 943.5 309 937.8 309.8 932.1 310.6 926.5 311.3 921.1 312 915.8 312.7 910.7 313.3 905.8 313.9 901.1 314.5 896.7 315 892.5 315.4 888.5 315.8 884.9 316.2 881.5 316.4 878.5 316.7 875.8 316.9 873.5 317 871.5 317 869.9 317 868.6 317 867.7 316.9 867.2 316.7 867.1 316.4 867.3 316.2 867.9 315.8 869 315.4 870.3 315 872.1 314.5 874.2 313.9 876.6 313.3 879.4 312.7 882.6 312 886 311.3"/>
<path d="M1026 295.3 1022.3 294.4 1018.3 293.5 1014 292.6 1009.5 291.8 1004.8 291.1 999.8 290.4 994.7 289.7 989.4 289.1 984 288.6 978.4 288.2 972.7 287.8 967 287.4 961.2 287.2 955.4 287 949.6 286.8 943.8 286.8 938.1 286.8 932.5 286.9 926.9 287 921.5 287.3 916.3 287.6 911.2 287.9 906.3 288.4 901.6 288.9 897.1 289.4 892.9 290 888.9 290.7 885.3 291.4 881.9 292.2 878.9 293 876.2 293.9 873.8 294.8 871.8 295.7 870.2 296.7 868.9 297.7 868 298.7 867.5 299.8 867.3 300.9 867.5 301.9 868.2 303 869.1 304.1 870.5 305.2 872.2 306.2 874.3 307.3 876.7 308.3 879.5 309.3 882.6 310.3 886 311.3"/>
<path d="M1026 295.3 1023.2 292.9 1020.1 290.6 1016.8 288.3 1013.2 286.1 1009.3 284 1005.3 282 1001 280 996.5 278.2 991.8 276.4 987 274.8 982.1 273.3 977 271.9 971.9 270.6 966.7 269.5 961.4 268.6 956.1 267.8 950.8 267.1 945.6 266.6 940.4 266.2 935.2 266 930.1 266 925.2 266.1 920.4 266.4 915.7 266.9 911.2 267.5 906.9 268.2 902.8 269.1 899 270.2 895.4 271.4 892 272.7 888.9 274.2 886.1 275.8 883.6 277.5 881.4 279.3 879.6 281.2 878 283.2 876.8 285.3 875.9 287.5 875.4 289.7 875.2 292 875.4 294.4 875.9 296.8 876.8 299.2 878 301.6 879.5 304 881.3 306.5 883.5 308.9 886 311.3"/>
<path d="M1026 295.3 1024.8 292.1 1023.3 288.9 1021.5 285.9 1019.5 282.8 1017.2 279.9 1014.6 277.1 1011.7 274.4 1008.6 271.8 1005.3 269.3 1001.8 267 998.1 264.8 994.2 262.8 990.2 261 985.9 259.4 981.6 257.9 977.2 256.7 972.6 255.6 968 254.8 963.4 254.1 958.7 253.7 954 253.5 949.3 253.5 944.6 253.7 940 254.1 935.5 254.7 931 255.6 926.7 256.6 922.5 257.8 918.4 259.3 914.5 260.9 910.7 262.7 907.2 264.7 903.8 266.8 900.7 269.1 897.8 271.6 895.2 274.2 892.8 276.9 890.7 279.7 888.9 282.6 887.4 285.6 886.2 288.7 885.2 291.9 884.6 295.1 884.3 298.3 884.2 301.5 884.5 304.8 885.1 308.1 886 311.3"/>
<path d="M1026 295.3 1026.7 292.1 1027 288.9 1027.1 285.8 1026.8 282.7 1026.3 279.8 1025.4 276.9 1024.3 274.2 1022.8 271.6 1021.1 269.1 1019.1 266.8 1016.8 264.6 1014.3 262.6 1011.5 260.8 1008.4 259.1 1005.2 257.6 1001.7 256.4 998.1 255.3 994.2 254.4 990.2 253.8 986.1 253.3 981.8 253.1 977.4 253.1 972.9 253.3 968.4 253.7 963.8 254.4 959.1 255.2 954.5 256.2 949.8 257.5 945.2 258.9 940.7 260.6 936.1 262.4 931.7 264.4 927.4 266.5 923.2 268.8 919.2 271.3 915.3 273.9 911.5 276.6 908 279.5 904.7 282.4 901.6 285.4 898.7 288.5 896.1 291.7 893.7 294.9 891.6 298.2 889.8 301.5 888.2 304.8 887 308 886 311.3"/>
<path d="M1026 295.3 1028.3 292.9 1030.3 290.5 1032 288.1 1033.3 285.9 1034.4 283.7 1035.1 281.6 1035.4 279.6 1035.4 277.7 1035.1 275.8 1034.4 274.2 1033.4 272.6 1032.1 271.2 1030.4 269.9 1028.5 268.7 1026.2 267.7 1023.6 266.9 1020.7 266.2 1017.5 265.6 1014.1 265.3 1010.4 265.1 1006.5 265 1002.4 265.1 998.1 265.4 993.6 265.9 989 266.5 984.2 267.2 979.2 268.1 974.2 269.2 969.1 270.4 964 271.8 958.8 273.3 953.6 274.9 948.4 276.6 943.2 278.5 938.1 280.4 933.1 282.5 928.2 284.6 923.4 286.9 918.7 289.2 914.2 291.5 909.9 293.9 905.7 296.4 901.8 298.8 898.1 301.3 894.7 303.8 891.5 306.3 888.6 308.8 886 311.3"/>
<path d="M1026 295.3 1029.3 294.3 1032.4 293.3 1035.1 292.4 1037.4 291.5 1039.4 290.6 1041.1 289.8 1042.4 289.1 1043.3 288.4 1043.8 287.8 1044 287.3 1043.8 286.8 1043.2 286.4 1042.3 286.1 1040.9 285.9 1039.2 285.7 1037.2 285.6 1034.8 285.5 1032.1 285.6 1029 285.7 1025.6 285.9 1022 286.2 1018 286.5 1013.8 287 1009.3 287.4 1004.7 288 999.8 288.6 994.7 289.3 989.4 290.1 984 290.9 978.5 291.7 972.9 292.6 967.2 293.6 961.5 294.6 955.7 295.6 950 296.7 944.2 297.7 938.5 298.9 932.9 300 927.4 301.1 922.1 302.3 916.8 303.5 911.7 304.6 906.9 305.8 902.2 306.9 897.8 308.1 893.6 309.2 889.6 310.2 886 311.3"/>
<path d="M1026 295.3 1029.5 294.9 1032.7 294.5 1035.6 294.2 1038.1 293.9 1040.2 293.7 1042.1 293.5 1043.5 293.3 1044.6 293.2 1045.3 293.1 1045.6 293.1 1045.5 293.1 1045 293.1 1044.2 293.2 1043 293.4 1041.4 293.5 1039.4 293.8 1037.1 294 1034.4 294.3 1031.4 294.7 1028.1 295.1 1024.5 295.5 1020.5 295.9 1016.3 296.4 1011.9 296.9 1007.2 297.4 1002.3 298 997.2 298.6 991.9 299.2 986.4 299.8 980.8 300.5 975.2 301.1 969.4 301.8 963.6 302.4 957.7 303.1 951.9 303.8 946 304.4 940.2 305.1 934.5 305.8 928.8 306.4 923.3 307 917.9 307.6 912.7 308.2 907.7 308.8 902.9 309.4 898.2 309.9 893.9 310.4 889.8 310.9 886 311.3"/>
<path d="M1037.8 294 1037.9 297 1037.1 300 1035.6 302.8 1033.4 305.1 1030.6 306.9 1027.5 308 1024.1 308.4 1020.7 308 1017.5 306.9 1014.6 305.2 1012.3 302.9 1010.6 300.2 1009.7 297.2 1009.6 294.1 1010.4 291.1 1011.9 288.3 1014.1 286 1016.9 284.2 1020 283.1 1023.4 282.7 1026.8 283.1 1030.1 284.2 1032.9 285.9 1035.2 288.2 1036.9 291Z"/>
<path d="M1044.3 293.2 1044.6 296.8 1044.3 300.4 1043.4 303.9 1042 307.3 1040 310.4 1037.6 313.2 1034.7 315.7 1031.4 317.8 1027.8 319.3 1024.1 320.4 1020.1 321 1016.1 321.1 1012.1 320.6 1008.2 319.6 1004.6 318.1 1001.1 316.2 998.1 313.8 995.4 311.1 993.2 308 991.5 304.7 990.4 301.2 989.8 297.6 989.8 294 990.4 290.4 991.5 287 993.3 283.7 995.5 280.7 998.2 278.1 1001.2 275.8 1004.7 274 1008.4 272.7 1012.2 271.8 1016.2 271.5 1020.2 271.7 1024.2 272.4 1028 273.7 1031.5 275.4 1034.8 277.6 1037.7 280.1 1040.1 283 1042.1 286.2 1043.5 289.7Z"/>
<path d="M1045.2 293.1 1045.6 297 1045.5 300.8 1045 304.7 1043.9 308.4 1042.4 312.1 1040.5 315.5 1038.2 318.7 1035.5 321.7 1032.4 324.4 1029.1 326.7 1025.4 328.7 1021.5 330.3 1017.5 331.5 1013.3 332.3 1009 332.7 1004.7 332.6 1000.5 332.2 996.3 331.3 992.2 330 988.3 328.3 984.6 326.2 981.2 323.8 978.1 321 975.4 318 973 314.7 971.1 311.3 969.5 307.6 968.5 303.8 967.8 300 967.7 296.1 968 292.2 968.8 288.4 970.1 284.8 971.8 281.2 973.9 277.9 976.4 274.8 979.3 272 982.5 269.5 986.1 267.3 989.8 265.5 993.8 264.1 997.9 263.1 1002.1 262.5 1006.4 262.3 1010.7 262.6 1015 263.2 1019.1 264.3 1023.1 265.8 1026.9 267.7 1030.4 270 1033.7 272.6 1036.6 275.5 1039.2 278.6 1041.3 282 1043.1 285.6 1044.4 289.3Z"/>
<path d="M1040.4 293.7 1040.8 297.6 1040.9 301.5 1040.5 305.5 1039.7 309.3 1038.6 313.1 1037.1 316.8 1035.2 320.3 1032.9 323.7 1030.3 326.8 1027.5 329.7 1024.3 332.4 1020.9 334.8 1017.2 336.9 1013.3 338.7 1009.3 340.1 1005.1 341.2 1000.9 342 996.5 342.4 992.2 342.4 987.8 342.1 983.5 341.4 979.2 340.4 975.1 339.1 971.1 337.4 967.3 335.3 963.8 333 960.4 330.4 957.3 327.6 954.6 324.5 952.1 321.2 950 317.7 948.2 314.1 946.8 310.3 945.8 306.5 945.2 302.5 944.9 298.6 945.1 294.7 945.7 290.8 946.6 286.9 947.9 283.2 949.7 279.6 951.7 276.1 954.1 272.9 956.9 269.9 959.9 267.1 963.2 264.5 966.8 262.3 970.5 260.4 974.5 258.7 978.6 257.5 982.8 256.5 987.1 255.9 991.5 255.7 995.8 255.9 1000.2 256.3 1004.5 257.2 1008.6 258.4 1012.7 259.9 1016.6 261.8 1020.3 263.9 1023.8 266.4 1027 269.1 1029.9 272.1 1032.5 275.3 1034.8 278.7 1036.8 282.2 1038.4 286 1039.6 289.8Z"/>
<path d="M1030.2 294.8 1030.6 298.8 1030.7 302.9 1030.4 306.9 1029.8 310.9 1028.8 314.8 1027.4 318.6 1025.7 322.3 1023.6 325.8 1021.3 329.2 1018.6 332.4 1015.7 335.3 1012.4 338.1 1009 340.5 1005.3 342.8 1001.4 344.7 997.4 346.3 993.2 347.6 988.9 348.6 984.5 349.3 980.1 349.6 975.6 349.6 971.2 349.3 966.8 348.6 962.4 347.7 958.2 346.3 954.1 344.7 950.1 342.8 946.3 340.6 942.8 338.2 939.4 335.4 936.3 332.5 933.5 329.3 931 325.9 928.8 322.4 926.9 318.7 925.4 314.9 924.2 311 923.4 307 923 303 922.9 299 923.2 295 923.8 291 924.8 287.1 926.2 283.3 927.9 279.6 929.9 276 932.3 272.7 935 269.5 937.9 266.5 941.1 263.8 944.6 261.3 948.3 259.1 952.1 257.2 956.2 255.6 960.4 254.2 964.7 253.2 969.1 252.6 973.5 252.2 977.9 252.2 982.4 252.6 986.8 253.2 991.1 254.2 995.4 255.5 999.5 257.1 1003.5 259 1007.2 261.2 1010.8 263.7 1014.2 266.4 1017.2 269.4 1020 272.5 1022.6 275.9 1024.8 279.5 1026.6 283.1 1028.2 287 1029.3 290.9Z"/>
<path d="M1015.2 296.5 1015.6 300.6 1015.7 304.6 1015.5 308.7 1014.9 312.7 1013.9 316.6 1012.6 320.5 1011 324.2 1009 327.8 1006.8 331.3 1004.2 334.6 1001.3 337.6 998.2 340.5 994.8 343.1 991.2 345.5 987.4 347.6 983.5 349.4 979.3 350.9 975.1 352.1 970.7 353 966.3 353.6 961.8 353.9 957.3 353.8 952.9 353.4 948.4 352.7 944.1 351.7 939.8 350.4 935.7 348.8 931.7 346.9 927.9 344.7 924.2 342.2 920.8 339.5 917.7 336.6 914.8 333.5 912.2 330.1 909.9 326.6 907.9 323 906.2 319.2 904.9 315.3 903.9 311.3 903.2 307.3 902.9 303.2 903 299.2 903.4 295.2 904.2 291.2 905.3 287.3 906.8 283.5 908.6 279.8 910.7 276.3 913.2 272.9 915.9 269.7 918.9 266.7 922.1 264 925.6 261.5 929.3 259.3 933.2 257.3 937.2 255.7 941.4 254.3 945.7 253.2 950.1 252.5 954.6 252.1 959.1 251.9 963.6 252.2 968 252.7 972.4 253.6 976.7 254.7 980.9 256.2 985 258 988.9 260 992.6 262.3 996.1 264.9 999.4 267.7 1002.5 270.8 1005.2 274 1007.7 277.5 1009.8 281 1011.7 284.8 1013.2 288.6 1014.3 292.5Z"/>
<path d="M996.4 298.7 996.8 302.7 996.9 306.7 996.7 310.7 996.1 314.7 995.1 318.6 993.8 322.4 992.1 326.1 990.2 329.7 987.9 333.1 985.3 336.4 982.4 339.4 979.3 342.2 975.9 344.7 972.3 347 968.5 349.1 964.5 350.8 960.4 352.2 956.1 353.4 951.8 354.2 947.4 354.7 942.9 354.9 938.5 354.7 934.1 354.3 929.7 353.5 925.4 352.4 921.2 351 917.1 349.3 913.2 347.3 909.5 345 906 342.5 902.7 339.7 899.7 336.7 896.9 333.5 894.4 330.1 892.3 326.6 890.4 322.9 888.9 319.1 887.8 315.2 887 311.2 886.5 307.2 886.4 303.2 886.7 299.1 887.3 295.2 888.2 291.3 889.5 287.4 891.2 283.7 893.2 280.2 895.5 276.8 898.1 273.5 900.9 270.5 904.1 267.7 907.5 265.1 911.1 262.8 914.9 260.8 918.8 259.1 923 257.6 927.2 256.5 931.5 255.7 936 255.2 940.4 255 944.8 255.1 949.3 255.6 953.7 256.4 958 257.5 962.2 258.9 966.2 260.6 970.1 262.6 973.8 264.9 977.4 267.4 980.6 270.2 983.7 273.2 986.4 276.4 988.9 279.8 991 283.3 992.9 287 994.4 290.8 995.6 294.7Z"/>
<path d="M975 301.1 975.4 305.1 975.5 309.1 975.2 313.1 974.5 317 973.4 320.8 971.9 324.6 970.1 328.2 967.9 331.6 965.5 334.9 962.7 337.9 959.6 340.7 956.2 343.3 952.6 345.6 948.9 347.5 944.9 349.2 940.8 350.5 936.5 351.5 932.2 352.2 927.8 352.5 923.4 352.5 919 352.2 914.6 351.4 910.3 350.4 906.2 349 902.1 347.3 898.3 345.3 894.6 343 891.2 340.4 888.1 337.6 885.2 334.5 882.6 331.2 880.3 327.7 878.4 324.1 876.9 320.4 875.7 316.5 874.8 312.6 874.4 308.6 874.3 304.6 874.7 300.6 875.4 296.7 876.5 292.9 877.9 289.1 879.7 285.5 881.9 282.1 884.4 278.8 887.2 275.8 890.3 273 893.6 270.4 897.2 268.2 901 266.2 905 264.5 909.1 263.2 913.3 262.2 917.7 261.5 922.1 261.2 926.5 261.2 930.9 261.6 935.2 262.3 939.5 263.3 943.7 264.7 947.7 266.4 951.5 268.4 955.2 270.7 958.6 273.3 961.8 276.1 964.7 279.2 967.2 282.5 969.5 286 971.4 289.6 973 293.3 974.2 297.2Z"/>
<path d="M952.4 303.7 952.8 307.6 952.8 311.5 952.3 315.4 951.4 319.2 950.1 322.9 948.3 326.4 946.2 329.8 943.7 332.9 940.9 335.8 937.7 338.5 934.3 340.8 930.6 342.7 926.7 344.4 922.6 345.6 918.4 346.5 914.1 347 909.8 347.1 905.5 346.8 901.2 346.1 897 345 893 343.6 889.1 341.8 885.5 339.6 882.1 337.1 879 334.4 876.2 331.3 873.8 328.1 871.7 324.6 870 321 868.8 317.2 867.9 313.4 867.5 309.5 867.6 305.6 868 301.7 868.9 297.9 870.3 294.2 872 290.6 874.1 287.3 876.6 284.1 879.5 281.2 882.6 278.6 886.1 276.3 889.8 274.3 893.7 272.7 897.7 271.4 901.9 270.6 906.2 270.1 910.5 270 914.8 270.3 919.1 271 923.3 272.1 927.3 273.5 931.2 275.3 934.8 277.5 938.2 280 941.3 282.7 944.1 285.7 946.6 289 948.6 292.5 950.3 296.1 951.6 299.9Z"/>
<path d="M930 306.3 930.4 310 930.1 313.8 929.4 317.5 928.1 321.1 926.3 324.5 924 327.6 921.3 330.5 918.2 332.9 914.7 335 911 336.7 907 337.9 902.9 338.6 898.8 338.8 894.6 338.6 890.5 337.8 886.5 336.6 882.7 334.9 879.2 332.8 876 330.2 873.2 327.4 870.8 324.2 868.9 320.8 867.5 317.2 866.7 313.5 866.3 309.7 866.5 306 867.3 302.2 868.6 298.7 870.4 295.3 872.7 292.1 875.4 289.3 878.5 286.8 882 284.7 885.7 283.1 889.7 281.9 893.8 281.2 897.9 281 902.1 281.2 906.2 282 910.2 283.2 914 284.9 917.5 287 920.7 289.5 923.5 292.4 925.9 295.6 927.8 299 929.2 302.6Z"/>
<path d="M909.3 308.6 909.5 312.1 908.9 315.4 907.7 318.6 905.7 321.5 903.1 324 900.1 326 896.7 327.4 893 328.1 889.2 328.2 885.5 327.7 881.9 326.4 878.7 324.6 875.9 322.3 873.6 319.5 872 316.3 871.1 313 870.9 309.6 871.5 306.2 872.8 303 874.7 300.1 877.3 297.6 880.3 295.7 883.8 294.3 887.5 293.5 891.2 293.4 895 294 898.5 295.2 901.8 297 904.6 299.4 906.8 302.2 908.4 305.3Z"/>
<path d="M891.6 310.7 891.5 312.5 890.6 314.2 889.1 315.5 887.1 316.1 885 315.9 883.1 315.1 881.7 313.7 881 311.9 881.1 310 882 308.3 883.6 307 885.5 306.5 887.6 306.6 889.5 307.4 890.9 308.9Z"/>
<ellipse cx="956" cy="303.3" rx="90.2" ry="51.2" transform="rotate(174.7 956 303.3)" stroke-opacity="0.22"/>
</g>
<g fill="none" stroke="#4c72b0" stroke-opacity="0.6" stroke-width="1.52" stroke-linejoin="round">
<path d="M1080.8 294.5 1084.4 294.2 1087.4 293.9 1090 293.7 1092 293.5 1093.5 293.4 1094.5 293.3 1094.9 293.2 1094.8 293.2 1094.2 293.3 1093 293.4 1091.3 293.6 1089 293.8 1086.3 294 1083 294.3 1079.3 294.6 1075 295 1070.4 295.4 1065.3 295.9 1059.7 296.4 1053.8 296.9 1047.5 297.5 1040.9 298.1 1034 298.7 1026.8 299.3 1019.4 300 1011.7 300.7 1003.8 301.4 995.8 302.1 987.7 302.8 979.5 303.5 971.3 304.3 963 305 954.8 305.7 946.6 306.5 938.6 307.2 930.6 307.9 922.8 308.6 915.3 309.3 907.9 309.9 900.8 310.6 894 311.2 887.5 311.8 881.4 312.3 875.6 312.8 870.3 313.3 865.3 313.7 860.8 314.1 856.8 314.5"/>
<path d="M1080.8 294.5 1086.2 296.9 1091 299.4 1095.3 301.9 1099.1 304.4 1102.3 306.9 1105 309.4 1107.1 311.9 1108.5 314.3 1109.4 316.7 1109.7 319.1 1109.4 321.4 1108.5 323.6 1106.9 325.7 1104.8 327.8 1102.1 329.7 1098.9 331.5 1095 333.3 1090.7 334.9 1085.8 336.3 1080.4 337.7 1074.5 338.8 1068.2 339.9 1061.5 340.8 1054.3 341.5 1046.8 342.1 1039 342.5 1030.8 342.7 1022.4 342.8 1013.8 342.8 1004.9 342.5 996 342.1 986.9 341.5 977.7 340.8 968.5 339.9 959.2 338.9 950.1 337.7 941 336.4 932 335 923.2 333.4 914.6 331.7 906.2 329.8 898 327.9 890.2 325.9 882.7 323.7 875.6 321.5 868.9 319.2 862.6 316.9 856.8 314.5"/>
<path d="M1080.8 294.5 1086.5 299.1 1091.8 303.7 1096.5 308.3 1100.6 312.9 1104.2 317.5 1107.3 322 1109.7 326.4 1111.5 330.8 1112.7 335 1113.3 339.1 1113.3 343 1112.6 346.8 1111.4 350.4 1109.5 353.8 1107 357 1104 360 1100.3 362.7 1096.1 365.2 1091.4 367.4 1086.1 369.4 1080.3 371.1 1074.1 372.4 1067.4 373.5 1060.2 374.3 1052.7 374.9 1044.8 375.1 1036.6 375 1028.1 374.6 1019.4 373.9 1010.4 372.9 1001.3 371.6 992 370 982.6 368.1 973.2 366 963.7 363.6 954.3 361 944.9 358.1 935.6 355 926.5 351.6 917.5 348.1 908.8 344.4 900.3 340.5 892.1 336.4 884.3 332.2 876.8 327.9 869.7 323.5 863 319 856.8 314.5"/>
<path d="M1080.8 294.5 1085.4 300.1 1089.5 305.7 1093.1 311.3 1096.2 316.9 1098.7 322.4 1100.7 327.8 1102.1 333.2 1102.9 338.4 1103.2 343.4 1102.9 348.4 1102 353.1 1100.5 357.6 1098.5 361.9 1095.9 365.9 1092.8 369.7 1089.1 373.2 1085 376.4 1080.3 379.3 1075.1 381.8 1069.5 384.1 1063.5 386 1057.1 387.5 1050.3 388.7 1043.1 389.6 1035.6 390 1027.8 390.1 1019.8 389.9 1011.6 389.3 1003.1 388.3 994.6 386.9 985.9 385.2 977.1 383.2 968.3 380.8 959.6 378.1 950.8 375.1 942.1 371.7 933.6 368.1 925.2 364.2 916.9 360.1 908.9 355.7 901.2 351.1 893.8 346.3 886.6 341.3 879.8 336.2 873.4 330.9 867.5 325.5 861.9 320 856.8 314.5"/>
<path d="M1080.8 294.5 1083.1 299.7 1084.9 304.9 1086.1 310.1 1086.9 315.2 1087.2 320.4 1087 325.4 1086.2 330.4 1085 335.3 1083.3 340 1081 344.6 1078.3 349 1075.2 353.2 1071.5 357.2 1067.4 361 1063 364.5 1058.1 367.8 1052.8 370.8 1047.1 373.5 1041.2 375.9 1034.9 378.1 1028.3 379.9 1021.5 381.4 1014.4 382.5 1007.2 383.3 999.8 383.8 992.3 384 984.6 383.8 976.9 383.2 969.2 382.4 961.4 381.2 953.7 379.6 946.1 377.8 938.5 375.6 931.1 373.1 923.8 370.4 916.8 367.3 909.9 364 903.3 360.4 897 356.6 891 352.6 885.3 348.3 880 343.9 875.1 339.3 870.6 334.6 866.4 329.7 862.8 324.7 859.6 319.6 856.8 314.5"/>
<path d="M1080.8 294.5 1080.1 298 1078.9 301.5 1077.2 305 1075.1 308.5 1072.5 312 1069.5 315.4 1066.1 318.8 1062.2 322.2 1057.9 325.5 1053.3 328.6 1048.3 331.7 1042.9 334.7 1037.3 337.5 1031.3 340.2 1025.1 342.8 1018.6 345.1 1011.9 347.3 1005 349.4 998 351.2 990.9 352.8 983.6 354.2 976.3 355.4 969 356.4 961.6 357.2 954.3 357.7 947.1 358.1 939.9 358.1 932.9 358 926 357.6 919.3 357 912.8 356.2 906.6 355.1 900.6 353.9 894.9 352.4 889.6 350.7 884.5 348.8 879.9 346.8 875.6 344.5 871.7 342.1 868.2 339.5 865.2 336.8 862.6 333.9 860.4 330.9 858.8 327.8 857.6 324.6 856.8 321.3 856.6 317.9 856.8 314.5"/>
<path d="M1080.8 294.5 1077.2 295.4 1073.2 296.3 1068.7 297.3 1063.8 298.3 1058.5 299.3 1052.8 300.3 1046.7 301.4 1040.3 302.5 1033.6 303.6 1026.6 304.6 1019.4 305.7 1012 306.8 1004.3 307.9 996.6 308.9 988.7 310 980.7 311 972.6 312 964.6 312.9 956.6 313.9 948.6 314.7 940.7 315.6 932.9 316.4 925.3 317.1 917.9 317.8 910.6 318.4 903.7 319 897 319.5 890.6 319.9 884.6 320.3 878.9 320.6 873.6 320.8 868.7 321 864.2 321.1 860.2 321.1 856.7 321.1 853.6 321 851 320.8 848.9 320.5 847.4 320.2 846.3 319.8 845.8 319.3 845.8 318.8 846.4 318.2 847.4 317.6 849 316.9 851.1 316.1 853.7 315.3 856.8 314.5"/>
<path d="M1080.8 294.5 1075.2 292.6 1069.2 290.7 1062.7 288.9 1055.8 287.2 1048.5 285.5 1040.9 284 1033 282.5 1024.9 281.1 1016.4 279.8 1007.8 278.6 999 277.5 990.1 276.6 981.1 275.7 972 275 963 274.4 953.9 274 944.9 273.6 936 273.4 927.3 273.4 918.7 273.4 910.4 273.6 902.3 273.9 894.4 274.4 886.9 275 879.8 275.7 873 276.6 866.7 277.5 860.7 278.6 855.3 279.8 850.3 281.1 845.8 282.5 841.9 284 838.5 285.5 835.7 287.2 833.4 288.9 831.7 290.7 830.6 292.6 830.1 294.5 830.2 296.4 830.9 298.4 832.1 300.4 834 302.4 836.4 304.5 839.4 306.5 843 308.6 847.1 310.6 851.7 312.5 856.8 314.5"/>
<path d="M1080.8 294.5 1074.5 290.3 1067.8 286.1 1060.7 282 1053.1 278.1 1045.2 274.2 1037 270.5 1028.5 266.9 1019.7 263.4 1010.7 260.2 1001.6 257.1 992.3 254.2 982.9 251.6 973.4 249.2 963.9 247 954.4 245 945 243.4 935.7 241.9 926.6 240.8 917.6 239.9 908.8 239.3 900.3 239 892.1 238.9 884.2 239.2 876.7 239.7 869.6 240.5 862.9 241.5 856.6 242.9 850.8 244.5 845.6 246.3 840.8 248.4 836.6 250.8 833 253.4 830 256.1 827.5 259.2 825.7 262.3 824.5 265.7 823.9 269.3 823.9 273 824.5 276.8 825.7 280.7 827.6 284.8 830.1 288.9 833.1 293.1 836.8 297.4 841 301.7 845.7 306 851 310.2 856.8 314.5"/>
<path d="M1080.8 294.5 1075.4 289 1069.5 283.6 1063.2 278.3 1056.5 273.1 1049.4 268.1 1042 263.2 1034.2 258.5 1026.2 253.9 1018 249.6 1009.5 245.5 1000.8 241.7 992 238.2 983.1 234.9 974.2 231.9 965.2 229.3 956.3 226.9 947.4 224.9 938.5 223.2 929.9 221.9 921.3 221 913 220.4 905 220.1 897.2 220.2 889.7 220.7 882.5 221.5 875.7 222.7 869.3 224.3 863.4 226.1 857.9 228.4 852.8 230.9 848.3 233.8 844.3 236.9 840.8 240.4 837.8 244.1 835.5 248.1 833.6 252.3 832.4 256.8 831.8 261.4 831.7 266.3 832.2 271.3 833.3 276.4 835 281.7 837.3 287 840.1 292.5 843.5 298 847.4 303.5 851.9 309 856.8 314.5"/>
<path d="M1080.8 294.5 1077.5 289.2 1073.8 283.9 1069.6 278.8 1065 273.7 1060 268.8 1054.6 264 1048.8 259.4 1042.7 255 1036.3 250.8 1029.5 246.9 1022.6 243.2 1015.3 239.7 1007.9 236.5 1000.3 233.6 992.6 231.1 984.8 228.8 976.9 226.9 969 225.2 961.1 224 953.2 223.1 945.3 222.5 937.6 222.3 930 222.4 922.6 222.9 915.4 223.7 908.4 224.9 901.6 226.4 895.2 228.2 889.1 230.4 883.3 232.9 877.8 235.7 872.8 238.8 868.2 242.2 864 245.8 860.2 249.7 856.9 253.8 854.1 258.2 851.8 262.7 850 267.5 848.7 272.3 847.9 277.4 847.6 282.5 847.9 287.7 848.7 293 849.9 298.4 851.7 303.8 854 309.1 856.8 314.5"/>
<path d="M1080.8 294.5 1080.5 290.7 1079.6 286.9 1078.3 283.2 1076.6 279.6 1074.3 276.1 1071.7 272.7 1068.5 269.5 1065 266.4 1061 263.5 1056.7 260.7 1052 258.2 1046.9 255.8 1041.5 253.6 1035.7 251.7 1029.7 250 1023.4 248.5 1016.9 247.3 1010.2 246.3 1003.3 245.5 996.3 245 989.1 244.8 981.8 244.8 974.5 245.1 967.2 245.6 959.9 246.4 952.6 247.4 945.4 248.7 938.3 250.2 931.3 252 924.5 253.9 917.8 256.1 911.4 258.5 905.3 261.1 899.4 263.9 893.8 266.8 888.5 269.9 883.5 273.2 879 276.6 874.8 280.1 871 283.7 867.6 287.4 864.7 291.2 862.2 295 860.2 298.9 858.6 302.8 857.6 306.7 856.9 310.6 856.8 314.5"/>
<path d="M1080.8 294.5 1083.4 293.1 1085.5 291.8 1087.1 290.5 1088.2 289.3 1088.8 288.2 1088.9 287.1 1088.4 286.1 1087.5 285.2 1086 284.4 1084.1 283.6 1081.6 283 1078.7 282.4 1075.3 281.9 1071.4 281.6 1067.1 281.3 1062.4 281.1 1057.3 281 1051.8 281 1045.9 281.2 1039.7 281.4 1033.2 281.7 1026.5 282.1 1019.4 282.6 1012.2 283.2 1004.8 283.9 997.2 284.7 989.5 285.6 981.7 286.6 973.9 287.6 966 288.7 958.2 289.9 950.4 291.1 942.7 292.4 935.1 293.7 927.6 295.1 920.3 296.5 913.2 298 906.4 299.5 899.8 301 893.5 302.5 887.6 304.1 881.9 305.6 876.7 307.1 871.9 308.7 867.4 310.2 863.4 311.6 859.9 313.1 856.8 314.5"/>
<path d="M1080.8 294.5 1084.4 294.2 1087.4 293.9 1090 293.7 1092 293.5 1093.5 293.4 1094.5 293.3 1094.9 293.2 1094.8 293.2 1094.2 293.3 1093 293.4 1091.3 293.6 1089 293.8 1086.3 294 1083 294.3 1079.3 294.6 1075 295 1070.4 295.4 1065.3 295.9 1059.7 296.4 1053.8 296.9 1047.5 297.5 1040.9 298.1 1034 298.7 1026.8 299.3 1019.4 300 1011.7 300.7 1003.8 301.4 995.8 302.1 987.7 302.8 979.5 303.5 971.3 304.3 963 305 954.8 305.7 946.6 306.5 938.6 307.2 930.6 307.9 922.8 308.6 915.3 309.3 907.9 309.9 900.8 310.6 894 311.2 887.5 311.8 881.4 312.3 875.6 312.8 870.3 313.3 865.3 313.7 860.8 314.1 856.8 314.5"/>
<path d="M1091.8 293.5 1095.7 298.7 1098.5 303.6 1100 308.1 1100.3 311.7 1099.2 314.4 1096.8 316 1093.3 316.3 1088.9 315.3 1083.7 313.2 1078.2 310 1072.7 305.9 1067.4 301.2 1062.6 296.1 1058.8 290.9 1056 286 1054.4 281.6 1054.1 277.9 1055.2 275.2 1057.6 273.7 1061.1 273.4 1065.6 274.3 1070.7 276.4 1076.2 279.6 1081.8 283.7 1087.1 288.4Z"/>
<path d="M1094.9 293.2 1099.6 299.3 1103.7 305.3 1107 311.1 1109.4 316.6 1110.9 321.6 1111.5 326.1 1111.1 329.9 1109.7 333 1107.5 335.3 1104.4 336.8 1100.4 337.4 1095.8 337.1 1090.5 335.9 1084.7 333.8 1078.6 331 1072.2 327.4 1065.6 323.1 1059.1 318.3 1052.8 312.9 1046.7 307.2 1041.1 301.3 1036 295.2 1031.6 289.2 1027.9 283.3 1025 277.6 1023.1 272.4 1022 267.6 1021.9 263.5 1022.8 260 1024.6 257.3 1027.3 255.4 1030.8 254.4 1035.1 254.2 1040.1 254.9 1045.7 256.6 1051.6 259 1058 262.2 1064.4 266.2 1071 270.7 1077.4 275.9 1083.6 281.4 1089.5 287.2Z"/>
<path d="M1089.9 293.7 1095.1 300.2 1099.7 306.7 1103.8 313 1107.2 319.2 1109.8 325.1 1111.8 330.6 1113 335.8 1113.5 340.5 1113.1 344.7 1112 348.2 1110.2 351.2 1107.6 353.5 1104.3 355.2 1100.4 356.1 1095.8 356.3 1090.7 355.8 1085.1 354.6 1079 352.7 1072.6 350.1 1066 346.9 1059.1 343 1052.1 338.7 1045.1 333.8 1038.2 328.5 1031.4 322.8 1024.8 316.7 1018.5 310.5 1012.6 304.1 1007.2 297.6 1002.2 291.1 997.9 284.7 994.2 278.4 991.1 272.4 988.8 266.6 987.2 261.2 986.4 256.3 986.3 251.9 987 248 988.5 244.7 990.7 242.1 993.7 240.1 997.3 238.8 1001.6 238.2 1006.4 238.4 1011.8 239.2 1017.6 240.8 1023.8 243.1 1030.4 246 1037.2 249.5 1044.1 253.6 1051.1 258.2 1058.1 263.4 1065 268.9 1071.7 274.7 1078.1 280.9 1084.2 287.2Z"/>
<path d="M1077.1 294.8 1082.5 301.4 1087.3 308 1091.7 314.6 1095.6 321 1098.9 327.2 1101.6 333.2 1103.7 338.9 1105.1 344.3 1106 349.3 1106.1 353.9 1105.7 358 1104.6 361.6 1102.8 364.8 1100.4 367.4 1097.5 369.4 1093.9 370.8 1089.8 371.7 1085.2 371.9 1080.1 371.6 1074.6 370.6 1068.7 369.1 1062.4 367 1055.9 364.3 1049.1 361.1 1042.2 357.3 1035.1 353.1 1028 348.4 1020.9 343.4 1013.8 337.9 1006.9 332.2 1000.1 326.1 993.6 319.9 987.3 313.5 981.4 306.9 975.8 300.3 970.7 293.7 966.1 287.1 962 280.7 958.4 274.3 955.4 268.2 953 262.4 951.2 256.8 950.1 251.6 949.6 246.8 949.7 242.5 950.5 238.6 951.9 235.2 954 232.3 956.7 230 959.9 228.3 963.8 227.1 968.1 226.6 973 226.6 978.3 227.3 984 228.5 990.1 230.4 996.5 232.8 1003.2 235.7 1010 239.2 1017 243.2 1024.1 247.6 1031.2 252.5 1038.4 257.8 1045.4 263.4 1052.2 269.3 1058.9 275.4 1065.3 281.8 1071.4 288.2Z"/>
<path d="M1057.4 296.6 1062.9 303.3 1067.9 310.1 1072.5 316.8 1076.7 323.3 1080.3 329.8 1083.3 336 1085.8 342 1087.8 347.7 1089.1 353.1 1089.9 358.2 1090 362.9 1089.6 367.1 1088.6 370.9 1086.9 374.2 1084.7 377.1 1081.9 379.4 1078.6 381.2 1074.8 382.4 1070.4 383.1 1065.6 383.2 1060.4 382.8 1054.7 381.8 1048.7 380.3 1042.4 378.2 1035.8 375.6 1029 372.5 1022 368.9 1014.8 364.9 1007.6 360.4 1000.3 355.5 993.1 350.3 985.9 344.7 978.8 338.8 971.9 332.7 965.1 326.3 958.7 319.8 952.5 313.2 946.7 306.5 941.2 299.7 936.2 293 931.6 286.3 927.5 279.7 923.9 273.3 920.8 267.1 918.3 261.1 916.3 255.3 915 249.9 914.2 244.9 914.1 240.2 914.5 236 915.6 232.2 917.2 228.8 919.4 226 922.2 223.7 925.5 221.9 929.3 220.7 933.7 220 938.5 219.8 943.7 220.3 949.4 221.2 955.4 222.8 961.7 224.9 968.3 227.4 975.1 230.5 982.1 234.1 989.3 238.2 996.5 242.7 1003.8 247.5 1011 252.8 1018.2 258.4 1025.3 264.2 1032.2 270.4 1039 276.7 1045.4 283.2 1051.6 289.9Z"/>
<path d="M1032.1 298.9 1037.6 305.6 1042.7 312.4 1047.3 319.2 1051.5 325.8 1055.3 332.3 1058.5 338.6 1061.1 344.7 1063.2 350.6 1064.8 356.1 1065.8 361.3 1066.2 366.2 1066 370.7 1065.2 374.7 1063.9 378.3 1062 381.4 1059.5 384.1 1056.5 386.2 1053 387.8 1049 388.9 1044.5 389.4 1039.6 389.4 1034.2 388.9 1028.5 387.8 1022.4 386.2 1016 384.1 1009.4 381.5 1002.5 378.4 995.5 374.8 988.3 370.7 981 366.3 973.7 361.4 966.4 356.2 959.1 350.7 951.9 344.9 944.9 338.8 938.1 332.4 931.5 325.9 925.1 319.3 919.1 312.6 913.4 305.8 908.1 299 903.2 292.2 898.8 285.6 894.8 279 891.3 272.6 888.4 266.4 886 260.4 884.2 254.7 882.9 249.3 882.2 244.2 882.1 239.6 882.6 235.3 883.6 231.5 885.2 228.1 887.4 225.2 890.2 222.9 893.4 221 897.2 219.6 901.5 218.8 906.2 218.5 911.3 218.8 916.9 219.6 922.8 221 929 222.8 935.5 225.2 942.3 228.1 949.3 231.4 956.4 235.2 963.6 239.5 970.9 244.1 978.2 249.2 985.5 254.5 992.7 260.2 999.9 266.2 1006.8 272.4 1013.5 278.8 1020 285.4 1026.2 292.1Z"/>
<path d="M1002.6 301.5 1008.1 308.2 1013.2 315 1017.8 321.6 1021.9 328.2 1025.6 334.7 1028.7 340.9 1031.3 346.9 1033.4 352.7 1034.8 358.2 1035.7 363.3 1036.1 368.1 1035.8 372.5 1035 376.4 1033.5 379.9 1031.5 382.9 1029 385.4 1025.9 387.4 1022.3 388.9 1018.2 389.9 1013.6 390.3 1008.6 390.2 1003.2 389.5 997.4 388.3 991.3 386.5 984.8 384.3 978.2 381.5 971.3 378.2 964.2 374.5 957.1 370.4 949.8 365.8 942.6 360.8 935.3 355.5 928.2 349.9 921.1 344 914.2 337.8 907.5 331.5 901.1 325 894.9 318.3 889.1 311.6 883.6 304.9 878.6 298.1 874 291.5 869.8 284.9 866.2 278.4 863 272.2 860.4 266.1 858.4 260.4 856.9 254.9 856 249.8 855.7 245 855.9 240.6 856.8 236.7 858.2 233.2 860.2 230.2 862.7 227.7 865.8 225.6 869.4 224.2 873.5 223.2 878.1 222.8 883.1 222.9 888.5 223.6 894.3 224.8 900.5 226.6 906.9 228.8 913.6 231.6 920.4 234.9 927.5 238.6 934.6 242.7 941.9 247.3 949.1 252.3 956.4 257.6 963.6 263.2 970.6 269.1 977.5 275.3 984.2 281.6 990.7 288.1 996.8 294.8Z"/>
<path d="M971 304.3 976.4 311 981.4 317.7 985.9 324.3 989.9 330.8 993.3 337.1 996.2 343.2 998.4 349 1000.1 354.6 1001.2 359.8 1001.6 364.6 1001.4 369 1000.6 372.9 999.2 376.3 997.1 379.3 994.5 381.7 991.3 383.5 987.5 384.8 983.2 385.5 978.5 385.6 973.2 385.1 967.6 384.1 961.6 382.4 955.2 380.3 948.6 377.5 941.8 374.3 934.8 370.5 927.7 366.3 920.5 361.7 913.3 356.6 906.1 351.2 899.1 345.5 892.2 339.5 885.5 333.2 879 326.8 872.9 320.2 867.1 313.6 861.7 306.9 856.7 300.2 852.3 293.6 848.3 287.1 844.8 280.8 842 274.7 839.7 268.8 838 263.3 836.9 258.1 836.5 253.3 836.7 248.9 837.5 245 838.9 241.5 841 238.6 843.6 236.2 846.9 234.4 850.6 233.1 854.9 232.4 859.7 232.3 864.9 232.8 870.5 233.8 876.5 235.4 882.9 237.6 889.5 240.3 896.3 243.6 903.3 247.3 910.4 251.5 917.6 256.2 924.8 261.2 932 266.7 939.1 272.4 946 278.4 952.7 284.7 959.1 291.1 965.3 297.6Z"/>
<path d="M939.3 307.1 944.5 313.7 949.3 320.2 953.5 326.6 957.1 332.9 960.1 339 962.4 344.7 964 350.1 964.9 355.1 965.1 359.7 964.6 363.8 963.4 367.3 961.4 370.2 958.8 372.6 955.6 374.3 951.7 375.3 947.3 375.7 942.3 375.4 936.9 374.5 931 372.9 924.7 370.7 918.2 367.9 911.4 364.5 904.5 360.5 897.4 356.1 890.4 351.1 883.4 345.8 876.5 340.1 869.8 334.1 863.4 327.9 857.3 321.5 851.6 315 846.4 308.4 841.6 301.9 837.4 295.5 833.8 289.2 830.9 283.1 828.6 277.4 826.9 272 826 267 825.8 262.4 826.3 258.3 827.6 254.8 829.5 251.9 832.1 249.5 835.3 247.8 839.2 246.8 843.6 246.4 848.6 246.6 854.1 247.6 859.9 249.2 866.2 251.4 872.7 254.2 879.5 257.6 886.4 261.6 893.5 266 900.5 271 907.5 276.3 914.4 282 921.1 288 927.5 294.2 933.6 300.6Z"/>
<path d="M909.4 309.8 914.5 316.1 918.8 322.4 922.5 328.6 925.3 334.4 927.4 339.9 928.5 344.9 928.8 349.4 928.2 353.2 926.7 356.4 924.3 358.8 921.1 360.4 917.2 361.2 912.5 361.1 907.3 360.3 901.5 358.6 895.3 356.2 888.7 353 882 349.1 875.2 344.6 868.4 339.5 861.7 334 855.3 328.1 849.2 322 843.7 315.7 838.6 309.3 834.3 303 830.6 296.9 827.8 291.1 825.7 285.6 824.6 280.6 824.3 276.1 824.9 272.3 826.4 269.1 828.8 266.7 832 265.1 835.9 264.3 840.6 264.3 845.8 265.2 851.6 266.9 857.8 269.3 864.4 272.5 871.1 276.4 877.9 280.9 884.7 286 891.4 291.5 897.8 297.4 903.9 303.5Z"/>
<path d="M883.4 312.1 887.8 317.9 891.3 323.4 893.7 328.7 894.9 333.3 894.9 337.2 893.8 340.2 891.4 342.2 888 343.1 883.7 342.9 878.6 341.6 872.9 339.2 866.8 335.8 860.7 331.6 854.6 326.7 848.9 321.3 843.7 315.7 839.3 309.9 835.9 304.4 833.5 299.1 832.2 294.5 832.2 290.6 833.3 287.6 835.7 285.6 839.1 284.7 843.4 284.9 848.5 286.2 854.2 288.6 860.3 292 866.4 296.2 872.5 301.1 878.2 306.5Z"/>
<path d="M862.8 314 865 317.1 866 319.8 865.7 321.8 864.1 322.6 861.5 322.1 858.2 320.5 854.8 318 851.8 314.9 849.6 311.8 848.6 309.1 848.9 307.1 850.5 306.3 853.1 306.8 856.4 308.4 859.8 310.9Z"/>
<ellipse cx="968.8" cy="304.5" rx="150" ry="77.2" transform="rotate(-162.7 968.8 304.5)" stroke-opacity="0.22"/>
</g>
<g stroke-width="1.36">
<circle cx="953.2" cy="298.2" r="5.39" fill="#c44e52" stroke="#ab353a" opacity="0.69"/>
<circle cx="951.2" cy="296" r="5.39" fill="#c44e52" stroke="#ab353a" opacity="0.67"/>
<circle cx="981.1" cy="272.6" r="5.39" fill="#c44e52" stroke="#ab353a" opacity="0.43"/>
<circle cx="954.4" cy="278.8" r="5.39" fill="#c44e52" stroke="#ab353a" opacity="0.75"/>
<circle cx="933.5" cy="322" r="5.39" fill="#c44e52" stroke="#ab353a" opacity="0.56"/>
<circle cx="920" cy="314.9" r="5.39" fill="#c44e52" stroke="#ab353a" opacity="0.74"/>
<circle cx="919.1" cy="286.8" r="5.39" fill="#c44e52" stroke="#ab353a" opacity="0.9"/>
<circle cx="960" cy="308.5" r="5.39" fill="#c44e52" stroke="#ab353a" opacity="0.9"/>
<circle cx="1020.6" cy="261.3" r="5.39" fill="#c44e52" stroke="#ab353a" opacity="0.7"/>
<circle cx="886.6" cy="337.2" r="5.39" fill="#c44e52" stroke="#ab353a" opacity="0.6"/>
<circle cx="947.2" cy="329.2" r="5.39" fill="#c44e52" stroke="#ab353a" opacity="0.4"/>
<circle cx="883.4" cy="278.2" r="5.39" fill="#c44e52" stroke="#ab353a" opacity="0.6"/>
<circle cx="920" cy="310" r="5.39" fill="#c44e52" stroke="#ab353a" opacity="0.5"/>
<circle cx="972" cy="292.5" r="5.39" fill="#c44e52" stroke="#ab353a" opacity="0.7"/>
<circle cx="964.1" cy="275.5" r="5.39" fill="#4c72b0" stroke="#385c9a" opacity="0.67"/>
<circle cx="956.3" cy="309" r="5.39" fill="#4c72b0" stroke="#385c9a" opacity="0.64"/>
<circle cx="1001.7" cy="286.1" r="5.39" fill="#4c72b0" stroke="#385c9a" opacity="0.59"/>
<circle cx="1014.3" cy="314.5" r="5.39" fill="#4c72b0" stroke="#385c9a" opacity="0.8"/>
<circle cx="923.1" cy="322.5" r="5.39" fill="#4c72b0" stroke="#385c9a" opacity="0.81"/>
<circle cx="927" cy="332.9" r="5.39" fill="#4c72b0" stroke="#385c9a" opacity="0.75"/>
<circle cx="940" cy="309.6" r="5.39" fill="#4c72b0" stroke="#385c9a" opacity="0.87"/>
<circle cx="971.3" cy="302.8" r="5.39" fill="#4c72b0" stroke="#385c9a" opacity="0.8"/>
<circle cx="923.8" cy="301.9" r="5.39" fill="#4c72b0" stroke="#385c9a" opacity="0.69"/>
<circle cx="890.4" cy="301.8" r="5.39" fill="#4c72b0" stroke="#385c9a" opacity="0.52"/>
<circle cx="931.7" cy="299.3" r="5.39" fill="#4c72b0" stroke="#385c9a" opacity="0.52"/>
<circle cx="996.7" cy="316.9" r="5.39" fill="#4c72b0" stroke="#385c9a" opacity="0.55"/>
<circle cx="963.9" cy="283.1" r="5.39" fill="#4c72b0" stroke="#385c9a" opacity="0.58"/>
<circle cx="981.9" cy="333.2" r="5.39" fill="#4c72b0" stroke="#385c9a" opacity="0.68"/>
<circle cx="944.4" cy="293.6" r="5.39" fill="#4c72b0" stroke="#385c9a" opacity="0.72"/>
<circle cx="987.4" cy="301.7" r="5.39" fill="#4c72b0" stroke="#385c9a" opacity="0.53"/>
<circle cx="926.5" cy="287.7" r="5.39" fill="#4c72b0" stroke="#385c9a" opacity="0.79"/>
<circle cx="983.9" cy="321" r="5.39" fill="#4c72b0" stroke="#385c9a" opacity="0.57"/>
<circle cx="880.8" cy="239.9" r="5.39" fill="#4c72b0" stroke="#385c9a" opacity="0.6"/>
<circle cx="918.5" cy="238.9" r="5.39" fill="#4c72b0" stroke="#385c9a" opacity="0.7"/>
<circle cx="1087.4" cy="291.2" r="5.39" fill="#4c72b0" stroke="#385c9a" opacity="0.9"/>
<circle cx="875.4" cy="285.5" r="5.39" fill="#4c72b0" stroke="#385c9a" opacity="0.7"/>
<circle cx="886.5" cy="285.5" r="5.39" fill="#4c72b0" stroke="#385c9a" opacity="0.7"/>
<circle cx="932.8" cy="276.6" r="5.39" fill="#4c72b0" stroke="#385c9a" opacity="0.9"/>
<circle cx="947.2" cy="279.8" r="5.39" fill="#4c72b0" stroke="#385c9a" opacity="0.9"/>
<circle cx="956.8" cy="294.1" r="5.39" fill="#4c72b0" stroke="#385c9a" opacity="0.9"/>
<circle cx="972.7" cy="294.1" r="5.39" fill="#4c72b0" stroke="#385c9a" opacity="0.8"/>
<circle cx="1014.2" cy="295.7" r="5.39" fill="#4c72b0" stroke="#385c9a" opacity="0.9"/>
<circle cx="1017.4" cy="303.7" r="5.39" fill="#4c72b0" stroke="#385c9a" opacity="0.9"/>
<circle cx="916.9" cy="302.1" r="5.39" fill="#4c72b0" stroke="#385c9a" opacity="0.8"/>
<circle cx="928.1" cy="321.2" r="5.39" fill="#4c72b0" stroke="#385c9a" opacity="0.9"/>
<circle cx="960" cy="326" r="5.39" fill="#4c72b0" stroke="#385c9a" opacity="0.5"/>
<circle cx="966.3" cy="330.8" r="5.39" fill="#4c72b0" stroke="#385c9a" opacity="0.9"/>
<circle cx="1014.2" cy="329.2" r="5.39" fill="#4c72b0" stroke="#385c9a" opacity="0.6"/>
<circle cx="1038.1" cy="321.2" r="5.39" fill="#4c72b0" stroke="#385c9a" opacity="0.9"/>
<circle cx="1048" cy="339.5" r="5.39" fill="#4c72b0" stroke="#385c9a" opacity="0.9"/>
<circle cx="857.6" cy="354.2" r="5.39" fill="#4c72b0" stroke="#385c9a" opacity="0.6"/>
<circle cx="1035.5" cy="381.5" r="5.39" fill="#4c72b0" stroke="#385c9a" opacity="0.9"/>
<circle cx="998.3" cy="318" r="5.39" fill="#4c72b0" stroke="#385c9a" opacity="0.9"/>
<circle cx="988.6" cy="304.7" r="5.39" fill="#55a868" stroke="#3f9153" opacity="0.93"/>
<circle cx="934.6" cy="280" r="5.39" fill="#55a868" stroke="#3f9153" opacity="0.91"/>
<circle cx="955.9" cy="275.3" r="5.39" fill="#55a868" stroke="#3f9153" opacity="0.89"/>
<circle cx="960.3" cy="291.9" r="5.39" fill="#55a868" stroke="#3f9153" opacity="0.79"/>
<circle cx="976.7" cy="325" r="5.39" fill="#55a868" stroke="#3f9153" opacity="0.73"/>
<circle cx="960.3" cy="277.1" r="5.39" fill="#55a868" stroke="#3f9153" opacity="0.8"/>
<circle cx="954.2" cy="319.3" r="5.39" fill="#55a868" stroke="#3f9153" opacity="0.95"/>
<circle cx="941.5" cy="303.2" r="5.39" fill="#55a868" stroke="#3f9153" opacity="0.88"/>
<circle cx="955.8" cy="324.1" r="5.39" fill="#55a868" stroke="#3f9153" opacity="0.75"/>
<circle cx="984.8" cy="327.5" r="5.39" fill="#55a868" stroke="#3f9153" opacity="0.87"/>
<circle cx="947.9" cy="283.2" r="5.39" fill="#55a868" stroke="#3f9153" opacity="0.85"/>
<circle cx="1012.2" cy="308.8" r="5.39" fill="#55a868" stroke="#3f9153" opacity="0.95"/>
<circle cx="962.6" cy="298.7" r="5.39" fill="#55a868" stroke="#3f9153" opacity="0.84"/>
<circle cx="970" cy="299.1" r="5.39" fill="#55a868" stroke="#3f9153" opacity="0.74"/>
<circle cx="960" cy="303" r="5.39" fill="#55a868" stroke="#3f9153" opacity="0.88"/>
<circle cx="981.1" cy="301.9" r="5.39" fill="#55a868" stroke="#3f9153" opacity="0.77"/>
<circle cx="990.4" cy="284.3" r="5.39" fill="#55a868" stroke="#3f9153" opacity="0.95"/>
<circle cx="932.4" cy="292" r="5.39" fill="#55a868" stroke="#3f9153" opacity="0.89"/>
<circle cx="990.9" cy="299.1" r="5.39" fill="#55a868" stroke="#3f9153" opacity="0.94"/>
<circle cx="938" cy="290.7" r="5.39" fill="#55a868" stroke="#3f9153" opacity="0.74"/>
<circle cx="926.7" cy="293.4" r="5.39" fill="#55a868" stroke="#3f9153" opacity="0.94"/>
<circle cx="1014.5" cy="319.7" r="5.39" fill="#55a868" stroke="#3f9153" opacity="0.84"/>
<circle cx="972.7" cy="209.6" r="5.39" fill="#55a868" stroke="#3f9153" opacity="0.5"/>
<circle cx="1007.8" cy="214.4" r="5.39" fill="#55a868" stroke="#3f9153" opacity="0.7"/>
<circle cx="908" cy="232.9" r="5.39" fill="#55a868" stroke="#3f9153" opacity="0.8"/>
<circle cx="1003" cy="230.3" r="5.39" fill="#55a868" stroke="#3f9153" opacity="0.7"/>
<circle cx="1027" cy="225.5" r="5.39" fill="#55a868" stroke="#3f9153" opacity="0.8"/>
<circle cx="1037.2" cy="226.2" r="5.39" fill="#55a868" stroke="#3f9153" opacity="0.9"/>
<circle cx="1042.9" cy="230.3" r="5.39" fill="#55a868" stroke="#3f9153" opacity="0.5"/>
<circle cx="1001.4" cy="237.7" r="5.39" fill="#55a868" stroke="#3f9153" opacity="0.7"/>
<circle cx="990.3" cy="247.9" r="5.39" fill="#55a868" stroke="#3f9153" opacity="0.7"/>
<circle cx="1001.4" cy="251" r="5.39" fill="#55a868" stroke="#3f9153" opacity="0.6"/>
<circle cx="1031.8" cy="255.8" r="5.39" fill="#55a868" stroke="#3f9153" opacity="0.6"/>
<circle cx="1052.5" cy="252.6" r="5.39" fill="#55a868" stroke="#3f9153" opacity="0.8"/>
<circle cx="1047.7" cy="260.6" r="5.39" fill="#55a868" stroke="#3f9153" opacity="0.8"/>
<circle cx="1079.8" cy="261" r="5.39" fill="#55a868" stroke="#3f9153" opacity="0.8"/>
<circle cx="863.6" cy="275.6" r="5.39" fill="#55a868" stroke="#3f9153" opacity="0.9"/>
<circle cx="891.4" cy="259" r="5.39" fill="#55a868" stroke="#3f9153" opacity="0.4"/>
<circle cx="966.3" cy="269.6" r="5.39" fill="#55a868" stroke="#3f9153" opacity="0.9"/>
<circle cx="924.9" cy="278.2" r="5.39" fill="#55a868" stroke="#3f9153" opacity="0.8"/>
<circle cx="960" cy="281.4" r="5.39" fill="#55a868" stroke="#3f9153" opacity="0.9"/>
<circle cx="979.1" cy="281.4" r="5.39" fill="#55a868" stroke="#3f9153" opacity="0.9"/>
<circle cx="998.3" cy="276.6" r="5.39" fill="#55a868" stroke="#3f9153" opacity="0.9"/>
<circle cx="944" cy="302.1" r="5.39" fill="#55a868" stroke="#3f9153" opacity="0.9"/>
<circle cx="982.3" cy="302.1" r="5.39" fill="#55a868" stroke="#3f9153" opacity="0.9"/>
<circle cx="991.9" cy="295.7" r="5.39" fill="#55a868" stroke="#3f9153" opacity="0.9"/>
<circle cx="1001.4" cy="313.3" r="5.39" fill="#55a868" stroke="#3f9153" opacity="0.9"/>
<circle cx="1011" cy="302.1" r="5.39" fill="#55a868" stroke="#3f9153" opacity="0.9"/>
<circle cx="948.8" cy="316.5" r="5.39" fill="#55a868" stroke="#3f9153" opacity="0.9"/>
<circle cx="918.5" cy="324.4" r="5.39" fill="#55a868" stroke="#3f9153" opacity="0.9"/>
<circle cx="928.1" cy="330.8" r="5.39" fill="#55a868" stroke="#3f9153" opacity="0.9"/>
<circle cx="983.9" cy="324.4" r="5.39" fill="#55a868" stroke="#3f9153" opacity="0.95"/>
<circle cx="972.7" cy="330.8" r="5.39" fill="#55a868" stroke="#3f9153" opacity="0.9"/>
<circle cx="897.7" cy="298.9" r="5.39" fill="#55a868" stroke="#3f9153" opacity="0.8"/>
<circle cx="1063.7" cy="302.1" r="5.39" fill="#55a868" stroke="#3f9153" opacity="0.6"/>
<circle cx="1033.4" cy="310.1" r="5.39" fill="#55a868" stroke="#3f9153" opacity="0.9"/>
<circle cx="1041.3" cy="335.6" r="5.39" fill="#55a868" stroke="#3f9153" opacity="0.9"/>
<circle cx="1030.2" cy="345.2" r="5.39" fill="#55a868" stroke="#3f9153" opacity="0.9"/>
<circle cx="1007.8" cy="346.8" r="5.39" fill="#55a868" stroke="#3f9153" opacity="0.9"/>
<circle cx="1017.4" cy="356.3" r="5.39" fill="#55a868" stroke="#3f9153" opacity="0.9"/>
<circle cx="966.3" cy="348.4" r="5.39" fill="#55a868" stroke="#3f9153" opacity="0.8"/>
<circle cx="838" cy="355.4" r="5.39" fill="#55a868" stroke="#3f9153" opacity="0.7"/>
<circle cx="900.5" cy="358" r="5.39" fill="#55a868" stroke="#3f9153" opacity="0.7"/>
<circle cx="940.4" cy="365.3" r="5.39" fill="#55a868" stroke="#3f9153" opacity="0.9"/>
<circle cx="966.5" cy="369.1" r="5.39" fill="#55a868" stroke="#3f9153" opacity="0.9"/>
<circle cx="987.1" cy="366.2" r="5.39" fill="#55a868" stroke="#3f9153" opacity="0.9"/>
<circle cx="992.5" cy="370.8" r="5.39" fill="#55a868" stroke="#3f9153" opacity="0.9"/>
<circle cx="963.4" cy="398" r="5.39" fill="#55a868" stroke="#3f9153" opacity="0.8"/>
<circle cx="813.7" cy="393.4" r="5.39" fill="#55a868" stroke="#3f9153" opacity="0.8"/>
<circle cx="865.1" cy="164.6" r="5.39" fill="#55a868" stroke="#3f9153" opacity="0.6"/>
<circle cx="913.2" cy="194.1" r="5.39" fill="#55a868" stroke="#3f9153" opacity="0.8"/>
<circle cx="951.5" cy="182.1" r="5.39" fill="#55a868" stroke="#3f9153" opacity="0.7"/>
<circle cx="961.4" cy="193" r="5.39" fill="#55a868" stroke="#3f9153" opacity="0.7"/>
<circle cx="971.8" cy="211.1" r="5.39" fill="#55a868" stroke="#3f9153" opacity="0.5"/>
<circle cx="770.9" cy="340.8" r="5.39" fill="#55a868" stroke="#3f9153" opacity="0.7"/>
<circle cx="796.7" cy="377.4" r="5.39" fill="#55a868" stroke="#3f9153" opacity="0.6"/>
<circle cx="804.9" cy="388.4" r="5.39" fill="#55a868" stroke="#3f9153" opacity="0.6"/>
<circle cx="804.9" cy="430" r="5.39" fill="#55a868" stroke="#3f9153" opacity="0.8"/>
<circle cx="999.1" cy="247.7" r="5.39" fill="#55a868" stroke="#3f9153" opacity="0.7"/>
<circle cx="1044.5" cy="245" r="5.39" fill="#55a868" stroke="#3f9153" opacity="0.6"/>
<circle cx="893" cy="260.3" r="5.39" fill="#55a868" stroke="#3f9153" opacity="0.4"/>
</g>
<g fill="none" stroke="#55a868" stroke-opacity="0.6" stroke-width="1.52" stroke-linejoin="round">
<path d="M1091.6 172 1094.9 168.7 1097.7 165.8 1100 163.6 1101.7 161.8 1102.8 160.7 1103.3 160.2 1103.3 160.2 1102.7 160.8 1101.5 162 1099.7 163.8 1097.4 166.2 1094.5 169.1 1091.1 172.5 1087.2 176.5 1082.7 181 1077.8 186 1072.4 191.5 1066.5 197.4 1060.3 203.8 1053.6 210.5 1046.6 217.6 1039.2 225.1 1031.6 232.8 1023.6 240.9 1015.5 249.1 1007.1 257.6 998.6 266.3 989.9 275 981.1 283.9 972.3 292.8 963.5 301.8 954.7 310.7 945.9 319.5 937.3 328.3 928.8 336.9 920.4 345.4 912.3 353.6 904.4 361.6 896.8 369.3 889.5 376.7 882.5 383.8 875.9 390.5 869.7 396.8 863.9 402.7 858.5 408.1 853.6 413 849.3 417.4 845.4 421.4"/>
<path d="M1091.6 172 1090.5 167 1089 162.5 1086.9 158.5 1084.2 155.2 1081.1 152.4 1077.6 150.3 1073.5 148.8 1069 147.9 1064.1 147.7 1058.7 148.1 1053 149.2 1046.9 150.9 1040.5 153.2 1033.8 156.1 1026.7 159.6 1019.5 163.7 1012 168.4 1004.3 173.6 996.5 179.4 988.6 185.6 980.5 192.3 972.5 199.5 964.4 207.1 956.3 215.1 948.3 223.4 940.3 232.1 932.5 241 924.8 250.1 917.4 259.5 910.1 269 903.1 278.6 896.4 288.4 890 298.1 883.9 307.8 878.2 317.5 872.8 327.1 867.9 336.6 863.4 345.9 859.4 355 855.8 363.8 852.7 372.4 850.1 380.6 848 388.5 846.4 396 845.4 403 844.9 409.6 844.9 415.7 845.4 421.4"/>
<path d="M1091.6 172 1086.3 166.6 1080.6 161.8 1074.3 157.5 1067.6 153.8 1060.5 150.8 1053 148.3 1045.1 146.5 1036.9 145.4 1028.4 144.8 1019.6 145 1010.6 145.8 1001.5 147.2 992.2 149.3 982.8 152 973.3 155.3 963.8 159.2 954.4 163.7 945 168.8 935.7 174.4 926.5 180.6 917.5 187.3 908.8 194.4 900.2 201.9 892 209.9 884.1 218.2 876.6 226.9 869.5 235.9 862.8 245.1 856.5 254.6 850.7 264.2 845.5 274 840.7 283.9 836.5 293.8 832.9 303.7 829.8 313.6 827.4 323.5 825.5 333.2 824.3 342.8 823.7 352.1 823.7 361.3 824.3 370.1 825.5 378.6 827.4 386.8 829.8 394.6 832.8 402 836.5 409 840.7 415.4 845.4 421.4"/>
<path d="M1091.6 172 1083.4 167.7 1074.7 164 1065.5 160.8 1056 158.2 1046 156.1 1035.8 154.7 1025.2 153.9 1014.4 153.7 1003.4 154.1 992.2 155.1 981 156.8 969.7 159 958.4 161.8 947.1 165.2 935.9 169.2 924.9 173.7 914 178.7 903.4 184.2 893.1 190.3 883.1 196.7 873.4 203.6 864.2 210.9 855.4 218.6 847.1 226.6 839.3 234.9 832 243.5 825.4 252.3 819.3 261.3 813.9 270.4 809.2 279.6 805.1 289 801.8 298.3 799.1 307.7 797.2 317 796 326.2 795.6 335.3 795.9 344.2 796.9 352.9 798.7 361.4 801.2 369.6 804.4 377.5 808.3 385 812.9 392.2 818.2 399 824.1 405.3 830.6 411.1 837.7 416.5 845.4 421.4"/>
<path d="M1091.6 172 1082.5 170 1072.8 168.5 1062.7 167.5 1052.3 167.1 1041.4 167.2 1030.3 167.9 1018.9 169.1 1007.2 170.9 995.4 173.2 983.5 176.1 971.5 179.4 959.5 183.3 947.6 187.7 935.7 192.5 924 197.8 912.5 203.5 901.2 209.6 890.2 216 879.5 222.8 869.2 230 859.4 237.4 850 245 841.1 252.9 832.7 261 825 269.2 817.8 277.6 811.3 286 805.5 294.5 800.4 303 796 311.4 792.3 319.8 789.4 328.1 787.2 336.3 785.9 344.3 785.3 352 785.5 359.6 786.4 366.9 788.2 373.9 790.7 380.5 794 386.8 798 392.7 802.8 398.2 808.3 403.3 814.5 407.9 821.3 412 828.7 415.6 836.8 418.7 845.4 421.4"/>
<path d="M1091.6 172 1083.8 172.8 1075.4 174.1 1066.6 175.9 1057.4 178.3 1047.8 181.1 1037.9 184.5 1027.7 188.3 1017.2 192.6 1006.5 197.3 995.6 202.5 984.7 208.1 973.6 214 962.6 220.3 951.5 226.9 940.6 233.8 929.7 241 919.1 248.5 908.6 256.1 898.4 263.9 888.5 271.9 878.9 279.9 869.7 288.1 861 296.2 852.7 304.4 844.9 312.5 837.6 320.6 830.9 328.6 824.8 336.4 819.2 344.1 814.4 351.5 810.2 358.7 806.6 365.7 803.8 372.4 801.7 378.7 800.2 384.7 799.5 390.3 799.6 395.5 800.3 400.3 801.8 404.6 804 408.5 806.9 411.9 810.4 414.8 814.7 417.2 819.6 419.1 825.2 420.5 831.3 421.3 838.1 421.6 845.4 421.4"/>
<path d="M1091.6 172 1087 175.5 1081.8 179.5 1076.2 184 1070.1 189 1063.6 194.5 1056.7 200.3 1049.4 206.6 1041.8 213.3 1033.8 220.4 1025.6 227.7 1017.1 235.4 1008.4 243.3 999.5 251.5 990.5 259.8 981.4 268.3 972.3 276.9 963.1 285.7 954 294.4 944.9 303.2 935.9 311.9 927.1 320.6 918.5 329.2 910 337.6 901.8 345.9 893.9 353.9 886.3 361.7 879.1 369.2 872.2 376.4 865.8 383.3 859.8 389.8 854.2 395.9 849.2 401.6 844.7 406.8 840.7 411.6 837.2 415.8 834.3 419.6 832 422.8 830.2 425.5 829.1 427.7 828.5 429.2 828.6 430.2 829.3 430.7 830.5 430.5 832.3 429.8 834.8 428.5 837.7 426.7 841.3 424.3 845.4 421.4"/>
<path d="M1091.6 172 1091.3 177.4 1090.5 183.3 1089.1 189.7 1087.2 196.5 1084.8 203.8 1082 211.5 1078.6 219.5 1074.8 227.9 1070.5 236.5 1065.7 245.4 1060.6 254.5 1055 263.9 1049.1 273.3 1042.9 282.9 1036.3 292.5 1029.4 302.1 1022.3 311.7 1015 321.3 1007.4 330.7 999.7 340 991.8 349.1 983.9 358 975.8 366.6 967.8 374.9 959.7 382.9 951.7 390.5 943.8 397.7 936 404.5 928.3 410.8 920.7 416.7 913.4 422 906.3 426.8 899.5 431 893 434.6 886.8 437.7 881 440.1 875.5 442 870.4 443.2 865.8 443.8 861.5 443.8 857.8 443.1 854.5 441.8 851.7 439.9 849.4 437.3 847.6 434.2 846.4 430.5 845.6 426.2 845.4 421.4"/>
<path d="M1091.6 172 1095.6 178 1099.1 184.5 1102 191.5 1104.3 199 1106.1 206.8 1107.3 215 1107.8 223.6 1107.8 232.5 1107.2 241.7 1106 251.1 1104.2 260.7 1101.8 270.5 1098.9 280.3 1095.4 290.3 1091.3 300.2 1086.7 310.2 1081.6 320.1 1076.1 329.9 1070 339.5 1063.6 349 1056.7 358.2 1049.5 367.2 1041.9 375.9 1033.9 384.2 1025.8 392.2 1017.3 399.8 1008.7 406.9 999.9 413.5 990.9 419.7 981.9 425.3 972.7 430.3 963.6 434.8 954.5 438.7 945.5 442 936.5 444.7 927.7 446.7 919.1 448.1 910.7 448.9 902.5 449 894.6 448.4 887 447.2 879.8 445.4 873 442.9 866.5 439.8 860.5 436 855 431.7 849.9 426.8 845.4 421.4"/>
<path d="M1091.6 172 1098.9 177.2 1105.6 182.9 1111.7 189 1117.2 195.6 1122.1 202.7 1126.3 210.2 1129.8 218 1132.7 226.1 1134.8 234.6 1136.2 243.3 1136.9 252.3 1136.9 261.4 1136.2 270.7 1134.7 280.1 1132.6 289.6 1129.7 299.1 1126.2 308.6 1121.9 318.1 1117 327.4 1111.5 336.7 1105.4 345.7 1098.7 354.6 1091.4 363.2 1083.6 371.5 1075.3 379.5 1066.5 387.1 1057.4 394.3 1047.8 401.2 1037.9 407.6 1027.7 413.5 1017.3 418.9 1006.6 423.8 995.8 428.1 984.9 431.9 973.9 435.1 962.8 437.7 951.8 439.7 940.9 441.1 930.1 441.9 919.4 442 909 441.6 898.8 440.5 888.9 438.8 879.4 436.5 870.2 433.5 861.5 430 853.2 426 845.4 421.4"/>
<path d="M1091.6 172 1100.2 175.1 1108.3 178.7 1115.7 182.9 1122.5 187.5 1128.7 192.5 1134.2 198 1138.9 204 1143 210.3 1146.2 217 1148.8 224.1 1150.5 231.4 1151.5 239.1 1151.7 246.9 1151.1 255 1149.7 263.3 1147.6 271.7 1144.6 280.3 1141 288.9 1136.6 297.5 1131.4 306.1 1125.6 314.7 1119.1 323.2 1112 331.6 1104.2 339.8 1095.9 347.9 1087 355.7 1077.6 363.3 1067.7 370.6 1057.4 377.6 1046.8 384.3 1035.8 390.5 1024.5 396.4 1012.9 401.8 1001.2 406.8 989.4 411.3 977.4 415.3 965.4 418.9 953.4 421.9 941.5 424.3 929.7 426.2 918.1 427.6 906.7 428.4 895.5 428.6 884.7 428.3 874.2 427.4 864.2 425.9 854.5 423.9 845.4 421.4"/>
<path d="M1091.6 172 1099.3 172.4 1106.5 173.2 1113 174.6 1119 176.5 1124.3 178.9 1128.9 181.8 1132.9 185.2 1136.1 189.1 1138.7 193.4 1140.5 198.2 1141.5 203.4 1141.9 209 1141.4 215 1140.3 221.3 1138.4 228 1135.8 234.9 1132.4 242.1 1128.4 249.6 1123.7 257.2 1118.3 265 1112.2 273 1105.6 281.1 1098.4 289.2 1090.6 297.3 1082.3 305.5 1073.5 313.6 1064.2 321.6 1054.5 329.6 1044.5 337.4 1034.2 345 1023.5 352.4 1012.7 359.6 1001.6 366.5 990.4 373.1 979.1 379.4 967.8 385.3 956.4 390.8 945.1 396 934 400.7 922.9 405 912.1 408.8 901.5 412.1 891.2 414.9 881.2 417.3 871.6 419.1 862.4 420.4 853.6 421.1 845.4 421.4"/>
<path d="M1091.6 172 1096.4 169.6 1100.7 167.6 1104.4 166.2 1107.5 165.4 1110 165.2 1111.9 165.5 1113.2 166.3 1113.9 167.7 1114 169.7 1113.4 172.2 1112.2 175.3 1110.4 178.8 1108 182.9 1105 187.5 1101.4 192.5 1097.3 198 1092.6 203.9 1087.3 210.2 1081.6 216.8 1075.4 223.8 1068.7 231.2 1061.5 238.8 1054 246.6 1046.1 254.7 1037.9 262.9 1029.4 271.3 1020.6 279.8 1011.6 288.4 1002.4 297 993.1 305.6 983.7 314.1 974.2 322.6 964.7 331 955.2 339.2 945.7 347.3 936.4 355.1 927.1 362.7 918.1 370 909.3 377 900.7 383.6 892.4 389.9 884.5 395.8 876.9 401.2 869.7 406.2 862.9 410.8 856.6 414.8 850.7 418.3 845.4 421.4"/>
<path d="M1091.6 172 1094.9 168.7 1097.7 165.8 1100 163.6 1101.7 161.8 1102.8 160.7 1103.3 160.2 1103.3 160.2 1102.7 160.8 1101.5 162 1099.7 163.8 1097.4 166.2 1094.5 169.1 1091.1 172.5 1087.2 176.5 1082.7 181 1077.8 186 1072.4 191.5 1066.5 197.4 1060.3 203.8 1053.6 210.5 1046.6 217.6 1039.2 225.1 1031.6 232.8 1023.6 240.9 1015.5 249.1 1007.1 257.6 998.6 266.3 989.9 275 981.1 283.9 972.3 292.8 963.5 301.8 954.7 310.7 945.9 319.5 937.3 328.3 928.8 336.9 920.4 345.4 912.3 353.6 904.4 361.6 896.8 369.3 889.5 376.7 882.5 383.8 875.9 390.5 869.7 396.8 863.9 402.7 858.5 408.1 853.6 413 849.3 417.4 845.4 421.4"/>
<path d="M1101.5 162 1093.6 158.4 1085.4 155.8 1077.3 154.3 1069.8 154.1 1063.4 155.2 1058.4 157.5 1055 160.9 1053.6 165.2 1054.1 170.1 1056.6 175.3 1060.9 180.6 1066.7 185.6 1073.8 190.1 1081.7 193.7 1089.9 196.3 1098 197.8 1105.5 198 1111.9 196.9 1116.9 194.6 1120.3 191.2 1121.7 186.9 1121.2 182 1118.7 176.8 1114.4 171.5 1108.6 166.5Z"/>
<path d="M1102.9 160.6 1093.8 156.1 1084.3 152.3 1074.7 149.3 1065.1 147 1055.7 145.7 1046.8 145.2 1038.5 145.6 1031 147 1024.4 149.2 1019 152.2 1014.7 156 1011.8 160.4 1010.3 165.5 1010.1 171 1011.4 176.9 1014 183 1018 189.2 1023.1 195.4 1029.5 201.4 1036.8 207.1 1044.9 212.4 1053.7 217.2 1063 221.4 1072.6 224.9 1082.2 227.5 1091.8 229.3 1100.9 230.2 1109.6 230.3 1117.5 229.4 1124.6 227.6 1130.6 225 1135.4 221.6 1139 217.4 1141.3 212.7 1142.1 207.4 1141.6 201.7 1139.6 195.6 1136.3 189.5 1131.7 183.2 1126 177.1 1119.1 171.2 1111.4 165.7Z"/>
<path d="M1095.6 168 1086 163.1 1076 158.7 1065.7 154.9 1055.4 151.8 1045.1 149.3 1035 147.5 1025.1 146.4 1015.6 146 1006.7 146.4 998.3 147.5 990.7 149.3 983.8 151.9 977.9 155 973 158.9 969 163.2 966.2 168.1 964.4 173.5 963.8 179.3 964.3 185.4 966 191.8 968.8 198.3 972.6 204.9 977.5 211.6 983.3 218.2 990.1 224.6 997.7 230.9 1006 236.8 1014.9 242.4 1024.3 247.5 1034.2 252.2 1044.3 256.2 1054.6 259.7 1064.9 262.5 1075.2 264.7 1085.2 266.1 1094.9 266.9 1104.1 266.8 1112.8 266.1 1120.8 264.6 1128 262.4 1134.4 259.6 1139.9 256.1 1144.3 252 1147.7 247.3 1150 242.2 1151.2 236.6 1151.2 230.7 1150.1 224.4 1147.9 218 1144.6 211.4 1140.3 204.7 1134.9 198.1 1128.6 191.5 1121.4 185.2 1113.5 179.1 1104.8 173.3Z"/>
<path d="M1080.2 183.5 1070.5 178.5 1060.4 173.9 1050 169.8 1039.6 166.2 1029.1 163.2 1018.6 160.6 1008.2 158.7 998.1 157.4 988.2 156.7 978.8 156.6 969.7 157.1 961.3 158.2 953.4 160 946.1 162.3 939.6 165.2 933.9 168.6 929 172.6 924.9 177 921.8 181.9 919.6 187.2 918.3 192.8 918 198.8 918.6 205 920.2 211.5 922.7 218.1 926.1 224.8 930.5 231.6 935.6 238.3 941.6 245 948.4 251.6 955.8 258.1 963.9 264.2 972.6 270.2 981.8 275.8 991.4 281 1001.4 285.8 1011.6 290.1 1022 294 1032.5 297.3 1043 300.1 1053.4 302.4 1063.7 304 1073.7 305 1083.3 305.4 1092.6 305.2 1101.4 304.4 1109.6 302.9 1117.2 300.9 1124 298.3 1130.2 295.1 1135.5 291.4 1140 287.3 1143.6 282.6 1146.3 277.5 1148 272 1148.8 266.2 1148.7 260.1 1147.5 253.7 1145.5 247.2 1142.5 240.5 1138.6 233.8 1133.9 227 1128.3 220.3 1121.9 213.6 1114.8 207.1 1107 200.8 1098.6 194.7 1089.6 189Z"/>
<path d="M1057.7 206.4 1047.7 201.2 1037.5 196.5 1027 192.2 1016.3 188.3 1005.6 185 994.9 182.1 984.3 179.8 973.8 178 963.5 176.8 953.5 176.2 943.8 176.1 934.6 176.6 925.8 177.6 917.6 179.2 910 181.4 903 184.1 896.7 187.3 891.2 191 886.5 195.2 882.5 199.8 879.4 204.9 877.2 210.3 875.8 216 875.3 222.1 875.7 228.4 877 234.9 879.1 241.6 882.1 248.4 886 255.2 890.7 262.2 896.1 269.1 902.3 275.9 909.2 282.6 916.8 289.2 924.9 295.5 933.6 301.7 942.8 307.5 952.4 313 962.4 318.1 972.6 322.9 983.1 327.2 993.8 331 1004.5 334.4 1015.2 337.3 1025.8 339.6 1036.3 341.4 1046.6 342.6 1056.6 343.2 1066.3 343.3 1075.5 342.8 1084.3 341.8 1092.5 340.1 1100.1 338 1107.1 335.3 1113.4 332 1118.9 328.3 1123.6 324.2 1127.6 319.5 1130.7 314.5 1132.9 309.1 1134.3 303.4 1134.8 297.3 1134.4 291 1133.1 284.5 1131 277.8 1128 271 1124.1 264.1 1119.4 257.2 1114 250.3 1107.8 243.5 1100.9 236.8 1093.4 230.2 1085.2 223.8 1076.5 217.7 1067.3 211.9Z"/>
<path d="M1029.4 235 1019.4 229.8 1009.1 225 998.5 220.6 987.9 216.7 977.1 213.2 966.3 210.3 955.6 207.8 944.9 205.9 934.5 204.4 924.3 203.6 914.5 203.3 905 203.5 895.9 204.3 887.4 205.6 879.4 207.5 872 209.9 865.2 212.8 859.1 216.3 853.8 220.1 849.2 224.5 845.4 229.2 842.5 234.3 840.3 239.8 839.1 245.6 838.6 251.7 839.1 258.1 840.3 264.6 842.5 271.4 845.4 278.2 849.2 285.1 853.8 292.1 859.1 299 865.2 305.9 871.9 312.7 879.3 319.4 887.3 325.9 895.9 332.1 904.9 338.1 914.4 343.8 924.3 349.2 934.4 354.2 944.9 358.8 955.5 362.9 966.2 366.6 977 369.8 987.8 372.6 998.5 374.8 1009 376.5 1019.3 377.6 1029.4 378.2 1039.1 378.2 1048.3 377.7 1057.1 376.6 1065.4 375 1073.1 372.9 1080.2 370.2 1086.6 367.1 1092.3 363.4 1097.3 359.3 1101.5 354.8 1104.9 349.8 1107.4 344.5 1109.1 338.8 1110 332.9 1110 326.7 1109.1 320.2 1107.4 313.6 1104.9 306.8 1101.5 299.9 1097.3 292.9 1092.4 286 1086.7 279.1 1080.3 272.2 1073.2 265.5 1065.5 258.9 1057.2 252.5 1048.4 246.4 1039.1 240.5Z"/>
<path d="M997.2 267.6 987.3 262.4 977.1 257.7 966.6 253.4 956 249.5 945.3 246.1 934.6 243.1 923.9 240.7 913.4 238.9 903.1 237.5 893 236.7 883.3 236.5 873.9 236.8 865 237.7 856.6 239.1 848.8 241.1 841.5 243.6 835 246.6 829.1 250 824 254 819.7 258.4 816.1 263.2 813.4 268.4 811.5 274 810.5 279.8 810.3 286 811 292.3 812.6 298.9 815 305.6 818.2 312.4 822.3 319.3 827.1 326.2 832.7 333.1 839 339.9 846 346.6 853.6 353.1 861.8 359.5 870.5 365.6 879.7 371.4 889.3 376.9 899.3 382 909.5 386.8 920 391.1 930.6 395 941.3 398.4 952 401.3 962.7 403.7 973.2 405.6 983.5 406.9 993.6 407.7 1003.3 408 1012.7 407.7 1021.6 406.8 1030 405.4 1037.8 403.4 1045 400.9 1051.6 397.9 1057.5 394.4 1062.6 390.5 1066.9 386.1 1070.5 381.2 1073.2 376 1075.1 370.5 1076.1 364.6 1076.2 358.5 1075.5 352.1 1074 345.6 1071.6 338.9 1068.3 332 1064.3 325.1 1059.5 318.2 1053.9 311.4 1047.6 304.6 1040.6 297.9 1033 291.3 1024.8 285 1016.1 278.9 1006.9 273.1Z"/>
<path d="M963.2 302 953.3 297 943.2 292.3 932.7 288.1 922.2 284.4 911.6 281.2 901 278.5 890.5 276.4 880.1 274.9 870.1 273.9 860.3 273.6 851 273.8 842.2 274.7 833.9 276.1 826.2 278.1 819.1 280.7 812.8 283.8 807.3 287.4 802.6 291.6 798.7 296.2 795.7 301.2 793.6 306.6 792.4 312.3 792.1 318.4 792.8 324.7 794.3 331.2 796.8 337.9 800.2 344.6 804.5 351.5 809.5 358.3 815.4 365.1 822 371.8 829.4 378.4 837.3 384.7 845.9 390.8 854.9 396.6 864.4 402.1 874.3 407.2 884.5 411.8 894.9 416 905.5 419.7 916.1 422.9 926.7 425.6 937.2 427.7 947.5 429.3 957.6 430.2 967.3 430.5 976.7 430.3 985.5 429.4 993.8 428 1001.5 426 1008.5 423.4 1014.8 420.3 1020.4 416.7 1025.1 412.5 1029 408 1032 402.9 1034.1 397.5 1035.3 391.8 1035.6 385.7 1034.9 379.4 1033.3 372.9 1030.8 366.2 1027.4 359.5 1023.2 352.6 1018.1 345.8 1012.3 339 1005.6 332.3 998.3 325.7 990.3 319.4 981.8 313.3 972.7 307.5Z"/>
<path d="M929.6 336.1 919.8 331.2 909.8 326.7 899.5 322.8 889.2 319.4 878.8 316.7 868.5 314.6 858.4 313.1 848.6 312.3 839.2 312.2 830.3 312.7 822 313.9 814.3 315.8 807.5 318.4 801.4 321.5 796.3 325.2 792 329.5 788.8 334.3 786.6 339.5 785.4 345.1 785.3 351.1 786.2 357.3 788.2 363.8 791.2 370.4 795.1 377.1 800.1 383.8 805.9 390.5 812.6 397 820 403.3 828.2 409.4 836.9 415.1 846.2 420.5 855.9 425.5 866 429.9 876.2 433.9 886.6 437.2 897 440 907.3 442.1 917.4 443.6 927.2 444.4 936.6 444.5 945.5 443.9 953.8 442.7 961.4 440.8 968.3 438.3 974.4 435.1 979.5 431.4 983.7 427.1 987 422.4 989.2 417.1 990.4 411.5 990.5 405.6 989.6 399.3 987.6 392.8 984.6 386.2 980.6 379.6 975.7 372.8 969.9 366.2 963.2 359.7 955.7 353.3 947.6 347.3 938.8 341.5Z"/>
<path d="M898.4 367.7 888.9 363 879.1 358.9 869 355.5 859 352.8 849 351 839.4 349.9 830.3 349.7 821.7 350.4 814 351.9 807.2 354.2 801.4 357.3 796.7 361.1 793.2 365.5 791 370.6 790.1 376.1 790.5 382 792.2 388.3 795.2 394.7 799.4 401.2 804.8 407.6 811.3 414 818.7 420 826.9 425.8 835.8 431 845.3 435.8 855.1 439.9 865.2 443.3 875.2 445.9 885.2 447.8 894.8 448.8 903.9 449 912.5 448.4 920.2 446.9 927 444.5 932.8 441.5 937.5 437.7 941 433.2 943.2 428.2 944.1 422.6 943.7 416.7 942 410.5 939 404.1 934.8 397.6 929.4 391.1 922.9 384.8 915.5 378.7 907.3 373Z"/>
<path d="M871.7 394.7 863 390.6 854 387.4 844.9 385.1 836.1 384 828 384 820.8 385.2 814.8 387.5 810.3 390.7 807.5 394.9 806.4 399.8 807 405.2 809.5 411 813.5 416.9 819.1 422.6 826 428.1 834 432.9 842.6 437.1 851.7 440.3 860.7 442.5 869.5 443.7 877.7 443.6 884.9 442.5 890.8 440.2 895.3 436.9 898.2 432.8 899.3 427.9 898.6 422.4 896.2 416.7 892.1 410.8 886.5 405 879.6 399.6Z"/>
<path d="M851.2 415.5 846.3 413.4 841.3 412.5 837.1 412.8 834.2 414.4 833 416.9 833.9 420 836.6 423.2 840.7 426.1 845.6 428.1 850.6 429.1 854.9 428.7 857.8 427.2 858.9 424.7 858 421.6 855.3 418.3Z"/>
<ellipse cx="968.5" cy="296.7" rx="199.3" ry="130.8" transform="rotate(148.7 968.5 296.7)" stroke-opacity="0.22"/>
</g>
<polyline points="687.5,464.2 1040.4,579.5 1227.9,387.1 1239.8,127.7" fill="none" stroke="#202020" stroke-width="2.72" stroke-linejoin="miter"/>
<g stroke="#202020" stroke-width="2.41" stroke-linecap="round">
<line x1="736.8" y1="485.1" x2="742.8" y2="479.9"/>
<line x1="793.6" y1="503.7" x2="799.6" y2="498.4"/>
<line x1="851.5" y1="522.6" x2="857.4" y2="517.2"/>
<line x1="910.4" y1="541.9" x2="916.2" y2="536.4"/>
<line x1="970.3" y1="561.5" x2="976" y2="555.9"/>
<line x1="1065.2" y1="563" x2="1055.2" y2="559.8"/>
<line x1="1091.6" y1="535.8" x2="1081.7" y2="532.6"/>
<line x1="1117.5" y1="509.1" x2="1107.7" y2="506.1"/>
<line x1="1142.7" y1="483.1" x2="1133" y2="480.1"/>
<line x1="1167.3" y1="457.8" x2="1157.7" y2="454.8"/>
<line x1="1191.4" y1="433" x2="1181.8" y2="430.1"/>
<line x1="1214.9" y1="408.8" x2="1205.4" y2="406"/>
<line x1="1236.6" y1="336.1" x2="1227.1" y2="333.4"/>
<line x1="1239.4" y1="276.9" x2="1229.8" y2="274.2"/>
<line x1="1242.3" y1="216.4" x2="1232.5" y2="213.8"/>
<line x1="1245.2" y1="154.7" x2="1235.3" y2="152.2"/>
</g>
<g font-size="24.6" text-anchor="middle" fill="#161616" stroke="#161616" stroke-width="0.25">
<text x="724" y="536.2">0.03</text>
<text x="780.8" y="554.8">0.04</text>
<text x="838.7" y="573.7">0.05</text>
<text x="897.5" y="592.9">0.06</text>
<text x="957.4" y="612.4">0.07</text>
<text x="1087.3" y="609.4">−0.04</text>
<text x="1113.8" y="582.2">−0.02</text>
<text x="1139.7" y="555.6">0.00</text>
<text x="1165" y="529.7">0.02</text>
<text x="1189.7" y="504.4">0.04</text>
<text x="1213.8" y="479.6">0.06</text>
<text x="1237.3" y="455.5">0.08</text>
<text x="1272.7" y="347.8">0.00</text>
<text x="1275.4" y="288.6">0.02</text>
<text x="1278.2" y="228.1">0.04</text>
<text x="1281" y="166.5">0.06</text>
</g>
<g font-size="27.43" text-anchor="middle" fill="#161616" stroke="#161616" stroke-width="0.25">
<text transform="translate(824 599) rotate(19)" y="8.23">Posterior<tspan dx="14.54" font-family="DejaVu Sans, sans-serif" font-size="27.43">↔</tspan><tspan dx="10.97">Anterior (m)</tspan></text>
<text transform="translate(1199.5 541.5) rotate(-45.8)" y="8.23">Right<tspan dx="14.54" font-family="DejaVu Sans, sans-serif" font-size="27.43">↔</tspan><tspan dx="10.97">Left (m)</tspan></text>
<text transform="translate(1321 248) rotate(-87.5)" y="8.23">Inferior<tspan dx="14.54" font-family="DejaVu Sans, sans-serif" font-size="27.43">↔</tspan><tspan dx="10.97">Superior (m)</tspan></text>
</g>
<rect x="886.3" y="3.6" width="370.3" height="117" rx="4.71" ry="4.71" fill="#ffffff" fill-opacity="0.8" stroke="#cccccc" stroke-opacity="0.8" stroke-width="1.36"/>
<line x1="896.9" y1="24.7" x2="947.1" y2="24.7" stroke="#c44e52" stroke-opacity="0.55" stroke-width="1.37"/>
<text x="966.7" y="33.3" font-size="24.71" fill="#161616" stroke="#161616" stroke-width="0.25">Neurophysiologist(N=10)</text>
<line x1="896.9" y1="60.8" x2="947.1" y2="60.8" stroke="#55a868" stroke-opacity="0.55" stroke-width="1.37"/>
<text x="966.7" y="68.8" font-size="24.71" fill="#161616" stroke="#161616" stroke-width="0.25">Single Center Model(N=92)</text>
<line x1="896.9" y1="97.7" x2="947.1" y2="97.7" stroke="#4c72b0" stroke-opacity="0.55" stroke-width="1.37"/>
<text x="966.7" y="105.6" font-size="24.71" fill="#161616" stroke="#161616" stroke-width="0.25">Multi Center Model(N=50)</text>
</g>
<g>
<polygon points="1376.9,449.2 1575.7,282.6 1572.9,42.4 1364.7,194.4" fill="#f8f8f8"/>
<polygon points="1575.7,282.6 1894.6,375.3 1906,126.8 1572.9,42.4" fill="#f1f1f1"/>
<polygon points="1376.9,449.2 1715,559.6 1894.6,375.3 1575.7,282.6" fill="#f5f5f5"/>
<g fill="none" stroke="#cccccc" stroke-width="1.91" stroke-linejoin="round">
<polyline points="1438.7,469.4 1634.1,299.6 1633.8,57.8"/>
<polyline points="1501.2,489.8 1693.2,316.8 1695.5,73.5"/>
<polyline points="1565,510.7 1753.5,334.3 1758.4,89.4"/>
<polyline points="1630.2,531.9 1814.8,352.1 1822.5,105.7"/>
<polyline points="1696.6,553.6 1877.3,370.3 1887.9,122.2"/>
<polyline points="1370.1,190.4 1382.1,444.9 1719.7,554.8"/>
<polyline points="1398.2,169.9 1408.8,422.5 1743.9,530"/>
<polyline points="1425.6,149.9 1434.9,400.6 1767.5,505.7"/>
<polyline points="1452.4,130.4 1460.5,379.2 1790.6,482"/>
<polyline points="1478.6,111.2 1485.4,358.3 1813.2,458.8"/>
<polyline points="1504.2,92.5 1509.9,337.8 1835.3,436.1"/>
<polyline points="1529.2,74.3 1533.9,317.7 1856.9,414"/>
<polyline points="1553.8,56.4 1557.3,298 1878.1,392.3"/>
<polyline points="1375.1,410.1 1575.2,245.7 1896.3,337.1"/>
<polyline points="1373.1,369.4 1574.8,207.2 1898.1,297.4"/>
<polyline points="1371.1,328 1574.4,168.1 1900,257"/>
<polyline points="1369.1,286 1573.9,128.6 1901.9,216.1"/>
<polyline points="1367,243.4 1573.4,88.4 1903.8,174.5"/>
<polyline points="1364.9,200.1 1573,47.8 1905.7,132.4"/>
</g>
<g fill="none" stroke="#c44e52" stroke-opacity="0.5" stroke-width="1.45" stroke-linejoin="round">
<path d="M1621 255.5 1621.2 254.7 1621.3 254.1 1621.4 253.8 1621.4 253.8 1621.3 254 1621.2 254.4 1621.1 255.1 1620.9 256 1620.6 257.2 1620.3 258.6 1620 260.2 1619.6 262.1 1619.2 264.2 1618.7 266.4 1618.2 268.9 1617.6 271.6 1617 274.4 1616.4 277.4 1615.7 280.5 1615 283.8 1614.3 287.2 1613.5 290.7 1612.8 294.3 1612 297.9 1611.2 301.7 1610.4 305.4 1609.6 309.2 1608.8 313 1608 316.8 1607.2 320.6 1606.4 324.4 1605.6 328.1 1604.8 331.7 1604.1 335.2 1603.3 338.7 1602.6 342 1601.9 345.2 1601.3 348.3 1600.7 351.2 1600.1 353.9 1599.6 356.5 1599.1 358.8 1598.6 361 1598.2 362.9 1597.8 364.7 1597.5 366.2 1597.2 367.5 1597 368.5"/>
<path d="M1621 255.5 1619 254.6 1616.9 253.9 1614.8 253.5 1612.7 253.3 1610.5 253.3 1608.4 253.7 1606.3 254.2 1604.1 255 1602 256.1 1599.9 257.4 1597.9 258.9 1595.9 260.7 1593.9 262.7 1592.1 264.9 1590.3 267.3 1588.5 269.9 1586.9 272.6 1585.4 275.6 1583.9 278.7 1582.6 281.9 1581.4 285.2 1580.3 288.7 1579.3 292.3 1578.5 296 1577.7 299.7 1577.2 303.5 1576.7 307.3 1576.4 311.1 1576.2 315 1576.2 318.8 1576.3 322.6 1576.5 326.4 1576.9 330.1 1577.5 333.7 1578.1 337.2 1578.9 340.6 1579.8 343.9 1580.9 347.1 1582.1 350.1 1583.3 352.9 1584.7 355.6 1586.2 358.1 1587.8 360.3 1589.5 362.4 1591.3 364.3 1593.1 365.9 1595 367.3 1597 368.5"/>
<path d="M1621 255.5 1617.3 254.7 1613.5 254.2 1609.8 253.9 1606 253.8 1602.2 254 1598.5 254.5 1594.8 255.1 1591.2 256.1 1587.7 257.3 1584.2 258.7 1580.9 260.3 1577.6 262.2 1574.5 264.2 1571.6 266.5 1568.8 269 1566.2 271.7 1563.8 274.5 1561.5 277.5 1559.5 280.6 1557.7 283.9 1556.1 287.3 1554.7 290.8 1553.5 294.4 1552.6 298 1552 301.8 1551.5 305.5 1551.4 309.3 1551.4 313.1 1551.8 316.9 1552.3 320.7 1553.1 324.5 1554.2 328.2 1555.5 331.8 1557 335.3 1558.7 338.8 1560.7 342.1 1562.8 345.3 1565.2 348.3 1567.7 351.2 1570.4 353.9 1573.3 356.5 1576.3 358.9 1579.5 361 1582.8 363 1586.2 364.7 1589.7 366.2 1593.3 367.5 1597 368.5"/>
<path d="M1621 255.5 1616.5 255.1 1612 254.9 1607.5 255 1603 255.3 1598.5 255.8 1594.1 256.6 1589.7 257.6 1585.4 258.9 1581.2 260.4 1577.1 262.1 1573.2 264 1569.4 266.1 1565.8 268.5 1562.4 271 1559.2 273.6 1556.1 276.5 1553.3 279.5 1550.8 282.6 1548.5 285.9 1546.4 289.3 1544.7 292.8 1543.2 296.3 1542 299.9 1541 303.6 1540.4 307.3 1540 311.1 1540 314.8 1540.2 318.5 1540.8 322.2 1541.6 325.9 1542.7 329.5 1544.1 333 1545.8 336.4 1547.8 339.8 1550 343 1552.5 346 1555.2 349 1558.1 351.7 1561.3 354.3 1564.6 356.7 1568.2 359 1571.9 361 1575.8 362.8 1579.8 364.4 1584 365.8 1588.2 366.9 1592.6 367.8 1597 368.5"/>
<path d="M1621 255.5 1616.9 255.6 1612.7 255.9 1608.6 256.5 1604.4 257.3 1600.3 258.3 1596.2 259.5 1592.2 261 1588.2 262.7 1584.3 264.7 1580.5 266.8 1576.9 269.1 1573.3 271.6 1570 274.2 1566.8 277.1 1563.8 280.1 1560.9 283.2 1558.3 286.4 1555.9 289.8 1553.7 293.2 1551.8 296.7 1550.1 300.3 1548.7 304 1547.5 307.6 1546.6 311.3 1545.9 315 1545.5 318.7 1545.4 322.4 1545.6 326 1546 329.5 1546.7 333 1547.7 336.4 1548.9 339.7 1550.4 342.8 1552.2 345.9 1554.2 348.8 1556.4 351.5 1558.8 354 1561.5 356.4 1564.3 358.6 1567.4 360.6 1570.6 362.4 1574 363.9 1577.6 365.3 1581.3 366.4 1585.1 367.3 1589 367.9 1592.9 368.3 1597 368.5"/>
<path d="M1621 255.5 1618.3 256.1 1615.5 256.9 1612.7 258 1609.9 259.3 1607.1 260.8 1604.3 262.6 1601.6 264.5 1598.8 266.7 1596.1 269 1593.5 271.6 1590.9 274.3 1588.4 277.1 1586 280.2 1583.7 283.3 1581.5 286.6 1579.4 290 1577.4 293.5 1575.6 297 1573.9 300.7 1572.4 304.3 1571 308 1569.8 311.8 1568.7 315.5 1567.9 319.2 1567.2 322.9 1566.7 326.5 1566.3 330.1 1566.2 333.6 1566.2 337 1566.4 340.3 1566.8 343.5 1567.4 346.5 1568.1 349.4 1569.1 352.1 1570.2 354.7 1571.4 357 1572.9 359.2 1574.4 361.2 1576.2 363 1578 364.5 1580 365.9 1582.2 367 1584.4 367.8 1586.8 368.4 1589.2 368.8 1591.7 369 1594.3 368.9 1597 368.5"/>
<path d="M1621 255.5 1620.4 256.5 1619.7 257.7 1618.9 259.2 1618.1 260.9 1617.3 262.8 1616.5 264.9 1615.6 267.2 1614.7 269.7 1613.7 272.4 1612.8 275.3 1611.8 278.3 1610.8 281.4 1609.8 284.7 1608.8 288.1 1607.8 291.6 1606.8 295.2 1605.8 298.9 1604.9 302.6 1603.9 306.4 1603 310.2 1602.1 314 1601.2 317.8 1600.3 321.5 1599.5 325.3 1598.8 328.9 1598.1 332.5 1597.4 336 1596.8 339.4 1596.2 342.7 1595.7 345.9 1595.2 348.9 1594.8 351.7 1594.5 354.4 1594.2 356.9 1594 359.2 1593.8 361.3 1593.7 363.2 1593.7 364.9 1593.8 366.3 1593.9 367.6 1594.1 368.5 1594.3 369.3 1594.6 369.8 1595 370 1595.4 370 1595.9 369.7 1596.4 369.2 1597 368.5"/>
<path d="M1621 255.5 1622.6 256.7 1624.1 258.1 1625.6 259.7 1627 261.6 1628.3 263.6 1629.5 265.9 1630.6 268.4 1631.7 271.1 1632.6 273.9 1633.5 276.9 1634.2 280.1 1634.9 283.3 1635.4 286.8 1635.8 290.3 1636.1 293.9 1636.3 297.6 1636.4 301.3 1636.3 305.1 1636.2 309 1635.9 312.8 1635.5 316.6 1635 320.5 1634.3 324.2 1633.6 328 1632.8 331.6 1631.8 335.2 1630.8 338.7 1629.7 342.1 1628.4 345.3 1627.1 348.4 1625.8 351.3 1624.3 354.1 1622.8 356.7 1621.2 359.1 1619.6 361.3 1617.9 363.2 1616.2 365 1614.5 366.6 1612.7 367.9 1610.9 368.9 1609.1 369.7 1607.3 370.3 1605.5 370.6 1603.8 370.7 1602 370.5 1600.3 370.1 1598.6 369.4 1597 368.5"/>
<path d="M1621 255.5 1624.4 256.6 1627.7 257.9 1631 259.4 1634.2 261.2 1637.2 263.2 1640.2 265.4 1643 267.8 1645.6 270.4 1648.1 273.2 1650.5 276.1 1652.6 279.2 1654.6 282.4 1656.4 285.8 1657.9 289.2 1659.3 292.8 1660.4 296.4 1661.4 300.2 1662.1 303.9 1662.5 307.7 1662.8 311.5 1662.8 315.4 1662.6 319.2 1662.1 322.9 1661.5 326.7 1660.6 330.3 1659.4 333.9 1658.1 337.4 1656.6 340.8 1654.8 344 1652.9 347.2 1650.7 350.1 1648.4 352.9 1645.9 355.6 1643.3 358 1640.5 360.3 1637.6 362.3 1634.6 364.1 1631.4 365.7 1628.2 367.1 1624.8 368.3 1621.4 369.2 1618 369.8 1614.5 370.2 1611 370.4 1607.5 370.3 1603.9 369.9 1600.5 369.3 1597 368.5"/>
<path d="M1621 255.5 1625.4 256.3 1629.7 257.2 1633.9 258.5 1638 259.9 1641.9 261.6 1645.8 263.5 1649.4 265.6 1652.9 267.9 1656.2 270.4 1659.4 273 1662.2 275.9 1664.9 278.9 1667.3 282 1669.5 285.2 1671.4 288.6 1673.1 292.1 1674.5 295.7 1675.6 299.3 1676.4 303 1676.9 306.7 1677.1 310.4 1677.1 314.2 1676.7 317.9 1676.1 321.6 1675.1 325.3 1673.9 328.9 1672.4 332.5 1670.7 335.9 1668.7 339.3 1666.4 342.5 1663.8 345.6 1661.1 348.6 1658.1 351.4 1654.9 354 1651.5 356.5 1647.9 358.8 1644.2 360.8 1640.3 362.7 1636.3 364.3 1632.1 365.7 1627.9 366.9 1623.6 367.9 1619.2 368.6 1614.8 369.1 1610.3 369.3 1605.9 369.3 1601.4 369 1597 368.5"/>
<path d="M1621 255.5 1625.2 255.8 1629.4 256.3 1633.4 257 1637.4 258 1641.2 259.2 1644.9 260.6 1648.4 262.3 1651.8 264.2 1655 266.2 1657.9 268.5 1660.7 271 1663.3 273.6 1665.6 276.4 1667.7 279.3 1669.5 282.4 1671.1 285.6 1672.4 289 1673.4 292.4 1674.2 295.9 1674.7 299.5 1674.9 303.1 1674.8 306.8 1674.4 310.5 1673.8 314.2 1672.8 317.9 1671.6 321.5 1670.2 325.2 1668.5 328.7 1666.5 332.2 1664.2 335.6 1661.8 338.9 1659.1 342.1 1656.2 345.2 1653.1 348.1 1649.8 350.9 1646.3 353.5 1642.7 355.9 1638.9 358.2 1635 360.2 1631 362 1626.9 363.6 1622.7 365 1618.5 366.2 1614.2 367.1 1609.9 367.8 1605.6 368.3 1601.3 368.5 1597 368.5"/>
<path d="M1621 255.5 1624 255.2 1626.9 255.2 1629.8 255.5 1632.5 255.9 1635.2 256.6 1637.7 257.6 1640.2 258.8 1642.5 260.2 1644.6 261.8 1646.6 263.6 1648.4 265.7 1650.1 267.9 1651.6 270.4 1652.9 273 1654 275.8 1654.9 278.7 1655.7 281.8 1656.2 285 1656.5 288.3 1656.7 291.8 1656.6 295.3 1656.3 298.9 1655.8 302.5 1655.1 306.2 1654.2 309.9 1653.2 313.6 1651.9 317.3 1650.4 321 1648.8 324.7 1647 328.2 1645.1 331.8 1642.9 335.2 1640.7 338.6 1638.3 341.8 1635.8 344.9 1633.1 347.8 1630.4 350.6 1627.6 353.3 1624.6 355.7 1621.7 358 1618.6 360.1 1615.6 362 1612.5 363.6 1609.3 365.1 1606.2 366.3 1603.1 367.3 1600 368 1597 368.5"/>
<path d="M1621 255.5 1622 254.8 1623 254.4 1623.9 254.2 1624.7 254.2 1625.5 254.5 1626.1 255.1 1626.8 255.9 1627.3 256.9 1627.8 258.2 1628.2 259.7 1628.5 261.4 1628.7 263.3 1628.8 265.5 1628.9 267.8 1628.8 270.3 1628.7 273.1 1628.5 275.9 1628.2 279 1627.9 282.1 1627.4 285.4 1626.9 288.9 1626.3 292.4 1625.6 296 1624.8 299.7 1624 303.4 1623.1 307.1 1622.2 310.9 1621.2 314.7 1620.1 318.5 1619 322.2 1617.9 325.9 1616.7 329.6 1615.5 333.1 1614.3 336.6 1613 340 1611.7 343.2 1610.4 346.3 1609.1 349.3 1607.8 352.1 1606.5 354.8 1605.2 357.2 1604 359.5 1602.7 361.5 1601.5 363.4 1600.3 365 1599.2 366.4 1598.1 367.6 1597 368.5"/>
<path d="M1621 255.5 1621.2 254.7 1621.3 254.1 1621.4 253.8 1621.4 253.8 1621.3 254 1621.2 254.4 1621.1 255.1 1620.9 256 1620.6 257.2 1620.3 258.6 1620 260.2 1619.6 262.1 1619.2 264.2 1618.7 266.4 1618.2 268.9 1617.6 271.6 1617 274.4 1616.4 277.4 1615.7 280.5 1615 283.8 1614.3 287.2 1613.5 290.7 1612.8 294.3 1612 297.9 1611.2 301.7 1610.4 305.4 1609.6 309.2 1608.8 313 1608 316.8 1607.2 320.6 1606.4 324.4 1605.6 328.1 1604.8 331.7 1604.1 335.2 1603.3 338.7 1602.6 342 1601.9 345.2 1601.3 348.3 1600.7 351.2 1600.1 353.9 1599.6 356.5 1599.1 358.8 1598.6 361 1598.2 362.9 1597.8 364.7 1597.5 366.2 1597.2 367.5 1597 368.5"/>
<path d="M1621.4 253.8 1617.2 253.4 1613.3 253.3 1609.8 253.4 1606.9 253.7 1604.9 254.2 1603.7 255 1603.5 255.8 1604.3 256.8 1606.1 257.7 1608.7 258.7 1612 259.5 1615.8 260.3 1619.9 260.8 1624 261.2 1627.9 261.3 1631.4 261.2 1634.3 260.9 1636.4 260.4 1637.5 259.7 1637.7 258.8 1636.9 257.9 1635.1 256.9 1632.5 256 1629.2 255.1 1625.4 254.3Z"/>
<path d="M1620.9 255.8 1616.1 255.3 1611.3 255 1606.7 254.8 1602.4 254.9 1598.4 255 1594.9 255.4 1591.9 255.9 1589.5 256.5 1587.8 257.3 1586.7 258.2 1586.3 259.1 1586.6 260.2 1587.6 261.3 1589.3 262.4 1591.7 263.6 1594.6 264.7 1598.1 265.7 1602 266.8 1606.3 267.7 1610.9 268.5 1615.6 269.2 1620.5 269.7 1625.3 270.1 1630 270.4 1634.4 270.4 1638.6 270.3 1642.3 270.1 1645.6 269.7 1648.3 269.1 1650.4 268.4 1651.8 267.6 1652.6 266.6 1652.6 265.6 1651.9 264.5 1650.6 263.4 1648.5 262.3 1645.9 261.1 1642.7 260 1639 259 1634.9 258 1630.4 257.2 1625.8 256.4Z"/>
<path d="M1619.7 261.4 1614.6 260.9 1609.4 260.5 1604.4 260.2 1599.5 260.1 1594.8 260.1 1590.4 260.2 1586.3 260.4 1582.7 260.8 1579.4 261.3 1576.6 262 1574.3 262.7 1572.6 263.6 1571.4 264.5 1570.7 265.5 1570.6 266.6 1571.1 267.7 1572.2 268.9 1573.8 270.1 1575.9 271.4 1578.5 272.6 1581.7 273.8 1585.2 274.9 1589.2 276.1 1593.5 277.1 1598.1 278.1 1602.9 279 1607.9 279.8 1613 280.5 1618.2 281.1 1623.4 281.6 1628.5 281.9 1633.5 282.1 1638.3 282.2 1642.8 282.1 1647 281.9 1650.9 281.6 1654.4 281.1 1657.4 280.6 1660 279.9 1662 279.1 1663.5 278.2 1664.4 277.2 1664.8 276.2 1664.6 275 1663.8 273.9 1662.5 272.7 1660.6 271.5 1658.2 270.3 1655.3 269 1652 267.9 1648.2 266.7 1644.1 265.6 1639.6 264.6 1634.9 263.7 1630 262.8 1624.9 262Z"/>
<path d="M1617.9 270.3 1612.6 269.7 1607.3 269.3 1602.1 268.9 1597.1 268.7 1592.1 268.6 1587.4 268.6 1582.9 268.7 1578.6 268.9 1574.7 269.3 1571.1 269.7 1567.9 270.3 1565 270.9 1562.6 271.6 1560.6 272.5 1559.1 273.4 1558 274.3 1557.5 275.4 1557.3 276.5 1557.7 277.6 1558.6 278.8 1559.9 280 1561.7 281.3 1563.9 282.5 1566.5 283.7 1569.6 285 1573 286.2 1576.8 287.3 1580.9 288.5 1585.3 289.5 1589.9 290.6 1594.8 291.5 1599.8 292.4 1604.9 293.2 1610.2 293.9 1615.4 294.4 1620.7 294.9 1625.9 295.3 1631.1 295.6 1636.1 295.8 1640.9 295.8 1645.5 295.8 1649.9 295.6 1654 295.3 1657.8 295 1661.2 294.5 1664.2 293.9 1666.9 293.2 1669.1 292.4 1670.8 291.5 1672.1 290.6 1673 289.6 1673.3 288.5 1673.2 287.4 1672.6 286.2 1671.5 285 1669.9 283.8 1667.9 282.5 1665.5 281.3 1662.7 280.1 1659.4 278.8 1655.8 277.7 1651.9 276.5 1647.6 275.4 1643.1 274.4 1638.3 273.4 1633.4 272.5 1628.3 271.6 1623.1 270.9Z"/>
<path d="M1615.4 281.8 1610 281.2 1604.7 280.8 1599.3 280.4 1594.1 280.1 1589 280 1584.1 279.9 1579.3 280 1574.8 280.1 1570.6 280.4 1566.6 280.7 1562.9 281.2 1559.6 281.7 1556.7 282.4 1554.1 283.1 1551.9 283.9 1550.1 284.8 1548.8 285.7 1547.9 286.8 1547.4 287.9 1547.4 289 1547.9 290.2 1548.7 291.4 1550 292.6 1551.8 293.9 1553.9 295.1 1556.5 296.4 1559.4 297.7 1562.7 298.9 1566.4 300.1 1570.3 301.3 1574.6 302.4 1579.1 303.5 1583.8 304.6 1588.7 305.5 1593.8 306.4 1599 307.3 1604.3 308 1609.7 308.7 1615.1 309.2 1620.5 309.7 1625.8 310.1 1631 310.3 1636.1 310.5 1641 310.5 1645.8 310.5 1650.3 310.3 1654.6 310.1 1658.5 309.7 1662.2 309.3 1665.5 308.7 1668.5 308.1 1671 307.4 1673.2 306.6 1675 305.7 1676.3 304.7 1677.2 303.7 1677.7 302.6 1677.7 301.5 1677.3 300.3 1676.4 299.1 1675.1 297.8 1673.3 296.6 1671.2 295.3 1668.6 294 1665.7 292.8 1662.4 291.5 1658.8 290.3 1654.8 289.2 1650.6 288 1646.1 286.9 1641.3 285.9 1636.4 284.9 1631.3 284 1626.1 283.2 1620.8 282.4Z"/>
<path d="M1612.6 295.3 1607.1 294.7 1601.7 294.2 1596.4 293.8 1591.1 293.6 1585.9 293.4 1580.9 293.3 1576.1 293.3 1571.5 293.4 1567.1 293.7 1563 294 1559.2 294.4 1555.7 294.9 1552.6 295.5 1549.8 296.2 1547.4 297 1545.3 297.8 1543.7 298.7 1542.5 299.7 1541.8 300.8 1541.4 301.9 1541.5 303 1542 304.2 1543 305.5 1544.3 306.7 1546.1 308 1548.3 309.2 1550.8 310.5 1553.8 311.8 1557.1 313 1560.7 314.3 1564.6 315.4 1568.8 316.6 1573.3 317.7 1578 318.8 1582.9 319.8 1588 320.7 1593.2 321.6 1598.5 322.3 1603.9 323 1609.3 323.7 1614.7 324.2 1620.1 324.6 1625.4 324.9 1630.6 325.2 1635.7 325.3 1640.6 325.3 1645.4 325.3 1649.9 325.1 1654.1 324.8 1658.1 324.5 1661.7 324 1665 323.4 1668 322.8 1670.6 322.1 1672.8 321.2 1674.7 320.4 1676.1 319.4 1677.1 318.4 1677.6 317.3 1677.7 316.2 1677.4 315 1676.7 313.8 1675.6 312.5 1674 311.3 1672 310 1669.6 308.7 1666.9 307.5 1663.8 306.2 1660.3 305 1656.5 303.8 1652.4 302.6 1648.1 301.5 1643.5 300.4 1638.7 299.3 1633.7 298.4 1628.6 297.5 1623.3 296.7 1618 295.9Z"/>
<path d="M1609.5 309.8 1604.1 309.2 1598.7 308.8 1593.4 308.4 1588.2 308.1 1583.1 307.9 1578.1 307.9 1573.3 307.9 1568.8 308 1564.5 308.3 1560.4 308.6 1556.7 309 1553.3 309.5 1550.2 310.2 1547.5 310.8 1545.2 311.6 1543.2 312.5 1541.7 313.4 1540.6 314.4 1540 315.5 1539.7 316.6 1539.9 317.7 1540.6 318.9 1541.6 320.1 1543.1 321.4 1545 322.7 1547.3 323.9 1550 325.2 1553 326.4 1556.4 327.7 1560.1 328.9 1564.1 330 1568.4 331.2 1572.9 332.3 1577.7 333.3 1582.6 334.2 1587.7 335.1 1592.9 335.9 1598.3 336.7 1603.6 337.3 1609 337.9 1614.4 338.4 1619.7 338.7 1624.9 339 1630 339.2 1635 339.3 1639.7 339.2 1644.3 339.1 1648.6 338.9 1652.7 338.6 1656.4 338.1 1659.8 337.6 1662.9 337 1665.6 336.3 1667.9 335.5 1669.8 334.7 1671.4 333.7 1672.4 332.7 1673.1 331.7 1673.4 330.6 1673.2 329.4 1672.5 328.2 1671.5 327 1670 325.7 1668.1 324.5 1665.8 323.2 1663.1 322 1660.1 320.7 1656.7 319.5 1653 318.3 1649 317.1 1644.7 316 1640.1 314.9 1635.4 313.9 1630.5 312.9 1625.4 312 1620.1 311.2 1614.8 310.5Z"/>
<path d="M1606.3 324.5 1601 323.9 1595.7 323.5 1590.4 323.1 1585.3 322.9 1580.3 322.7 1575.4 322.7 1570.8 322.8 1566.4 323 1562.4 323.3 1558.6 323.7 1555.2 324.2 1552.1 324.8 1549.4 325.5 1547.2 326.3 1545.3 327.2 1544 328.1 1543 329.1 1542.6 330.2 1542.6 331.3 1543 332.5 1544 333.7 1545.3 334.9 1547.2 336.2 1549.4 337.4 1552.1 338.7 1555.1 339.9 1558.6 341.1 1562.3 342.3 1566.4 343.4 1570.8 344.5 1575.4 345.6 1580.3 346.6 1585.3 347.5 1590.4 348.3 1595.7 349 1601 349.7 1606.3 350.2 1611.6 350.7 1616.9 351 1622.1 351.3 1627.1 351.4 1631.9 351.5 1636.5 351.4 1640.9 351.2 1645 350.9 1648.8 350.5 1652.2 350 1655.2 349.4 1657.9 348.7 1660.2 347.9 1662 347 1663.4 346.1 1664.3 345.1 1664.8 344 1664.8 342.9 1664.3 341.7 1663.4 340.5 1662 339.3 1660.2 338 1657.9 336.8 1655.3 335.5 1652.2 334.3 1648.8 333.1 1645 331.9 1640.9 330.7 1636.5 329.6 1631.9 328.6 1627.1 327.6 1622.1 326.7 1616.9 325.9 1611.7 325.1Z"/>
<path d="M1603.4 338.4 1598.2 337.8 1593 337.4 1587.9 337.1 1582.9 336.9 1578.1 336.9 1573.6 336.9 1569.3 337.1 1565.3 337.5 1561.8 337.9 1558.6 338.4 1555.9 339.1 1553.6 339.8 1551.8 340.7 1550.5 341.6 1549.8 342.6 1549.6 343.7 1549.9 344.8 1550.7 346 1552 347.2 1553.9 348.4 1556.2 349.7 1559 350.9 1562.2 352.1 1565.9 353.3 1569.8 354.4 1574.2 355.5 1578.7 356.5 1583.6 357.4 1588.6 358.2 1593.7 359 1598.9 359.6 1604.1 360.2 1609.3 360.6 1614.4 360.9 1619.4 361.1 1624.2 361.1 1628.7 361.1 1633 360.9 1636.9 360.5 1640.5 360.1 1643.7 359.6 1646.4 358.9 1648.7 358.2 1650.5 357.3 1651.7 356.4 1652.5 355.4 1652.7 354.3 1652.4 353.2 1651.6 352 1650.3 350.8 1648.4 349.6 1646.1 348.3 1643.3 347.1 1640 345.9 1636.4 344.7 1632.4 343.6 1628.1 342.5 1623.5 341.5 1618.7 340.6 1613.7 339.8 1608.6 339Z"/>
<path d="M1600.8 350.6 1595.7 350.1 1590.7 349.7 1585.9 349.5 1581.2 349.4 1576.9 349.5 1573 349.8 1569.5 350.2 1566.5 350.8 1564 351.4 1562.2 352.2 1561 353.2 1560.4 354.2 1560.6 355.2 1561.3 356.4 1562.7 357.5 1564.8 358.7 1567.4 359.9 1570.6 361.1 1574.2 362.2 1578.3 363.3 1582.8 364.2 1587.5 365.1 1592.4 365.9 1597.4 366.5 1602.5 367 1607.5 367.4 1612.3 367.6 1617 367.6 1621.3 367.5 1625.3 367.3 1628.8 366.9 1631.8 366.3 1634.2 365.6 1636 364.8 1637.2 363.9 1637.8 362.9 1637.7 361.8 1636.9 360.7 1635.5 359.5 1633.5 358.3 1630.8 357.2 1627.7 356 1624 354.9 1619.9 353.8 1615.5 352.8 1610.8 352 1605.8 351.2Z"/>
<path d="M1598.7 360.3 1594.2 359.9 1589.7 359.6 1585.6 359.6 1582 359.8 1578.9 360.2 1576.6 360.8 1575 361.6 1574.4 362.5 1574.6 363.4 1575.8 364.5 1577.8 365.6 1580.5 366.6 1583.9 367.6 1587.9 368.5 1592.2 369.3 1596.7 369.9 1601.3 370.3 1605.7 370.5 1609.8 370.6 1613.5 370.4 1616.5 370 1618.9 369.4 1620.4 368.6 1621 367.7 1620.8 366.7 1619.7 365.7 1617.7 364.6 1614.9 363.6 1611.5 362.6 1607.6 361.7 1603.3 360.9Z"/>
<path d="M1597.3 366.9 1594.8 366.7 1592.7 366.8 1591.2 367.1 1590.6 367.5 1591 368.1 1592.3 368.7 1594.3 369.2 1596.8 369.6 1599.3 369.8 1601.4 369.7 1602.9 369.4 1603.5 369 1603.2 368.4 1601.8 367.8 1599.8 367.3Z"/>
<ellipse cx="1609" cy="312" rx="69.5" ry="58.5" transform="rotate(172 1609 312)" stroke-opacity="0.22"/>
</g>
<g fill="none" stroke="#4c72b0" stroke-opacity="0.6" stroke-width="1.45" stroke-linejoin="round">
<path d="M1615.9 252.5 1616 251.8 1616.1 251.3 1616.1 251.1 1616.1 251.2 1616 251.5 1616 252.1 1615.8 252.9 1615.7 254 1615.5 255.3 1615.3 256.9 1615.1 258.7 1614.8 260.7 1614.5 262.9 1614.2 265.4 1613.8 268 1613.4 270.9 1613 273.9 1612.6 277 1612.1 280.4 1611.7 283.8 1611.2 287.4 1610.7 291.1 1610.2 294.8 1609.6 298.6 1609.1 302.5 1608.6 306.5 1608 310.4 1607.5 314.4 1607 318.3 1606.4 322.2 1605.9 326.1 1605.4 329.9 1604.9 333.6 1604.4 337.2 1603.9 340.7 1603.5 344.1 1603 347.4 1602.6 350.5 1602.2 353.4 1601.8 356.2 1601.5 358.7 1601.2 361.1 1600.9 363.2 1600.6 365.2 1600.4 366.9 1600.2 368.3 1600 369.5 1599.9 370.5"/>
<path d="M1615.9 252.5 1613.7 251.7 1611.5 251.2 1609.3 251 1607 251 1604.8 251.2 1602.6 251.8 1600.4 252.5 1598.2 253.6 1596.1 254.8 1594 256.4 1592 258.1 1590.1 260.1 1588.2 262.3 1586.4 264.7 1584.7 267.3 1583.1 270.1 1581.6 273.1 1580.3 276.3 1579 279.6 1577.9 283 1576.9 286.6 1576 290.2 1575.3 294 1574.7 297.8 1574.2 301.7 1573.9 305.6 1573.8 309.6 1573.7 313.5 1573.9 317.5 1574.1 321.4 1574.6 325.3 1575.1 329.1 1575.8 332.9 1576.7 336.6 1577.7 340.1 1578.8 343.5 1580 346.8 1581.3 350 1582.8 352.9 1584.4 355.7 1586 358.4 1587.8 360.8 1589.6 363 1591.6 364.9 1593.6 366.7 1595.6 368.2 1597.7 369.5 1599.9 370.5"/>
<path d="M1615.9 252.5 1612 251.9 1608 251.6 1604.1 251.5 1600.2 251.6 1596.3 252.1 1592.4 252.8 1588.6 253.7 1584.9 254.9 1581.3 256.3 1577.8 257.9 1574.5 259.8 1571.3 261.9 1568.2 264.3 1565.3 266.8 1562.6 269.5 1560.1 272.4 1557.8 275.5 1555.7 278.7 1553.8 282 1552.2 285.5 1550.8 289.1 1549.7 292.8 1548.8 296.6 1548.1 300.4 1547.7 304.3 1547.6 308.2 1547.7 312.1 1548.1 316.1 1548.7 320 1549.6 323.8 1550.7 327.7 1552.1 331.4 1553.7 335.1 1555.6 338.6 1557.7 342.1 1560 345.4 1562.5 348.6 1565.2 351.6 1568 354.4 1571.1 357.1 1574.3 359.5 1577.6 361.8 1581.1 363.8 1584.7 365.6 1588.4 367.2 1592.2 368.5 1596 369.6 1599.9 370.5"/>
<path d="M1615.9 252.5 1611.2 252.3 1606.5 252.3 1601.8 252.5 1597.2 253 1592.6 253.8 1588 254.8 1583.5 256.1 1579.2 257.6 1574.9 259.3 1570.8 261.2 1566.9 263.4 1563.1 265.8 1559.6 268.3 1556.2 271.1 1553.1 274 1550.2 277.1 1547.5 280.3 1545.1 283.7 1543 287.2 1541.1 290.7 1539.5 294.4 1538.3 298.2 1537.3 302 1536.6 305.8 1536.2 309.7 1536.2 313.6 1536.4 317.4 1537 321.3 1537.8 325.1 1539 328.8 1540.4 332.5 1542.2 336.1 1544.2 339.6 1546.5 342.9 1549 346.1 1551.8 349.2 1554.9 352.1 1558.2 354.9 1561.6 357.4 1565.3 359.8 1569.2 361.9 1573.2 363.8 1577.4 365.5 1581.7 367 1586.1 368.3 1590.7 369.3 1595.3 370 1599.9 370.5"/>
<path d="M1615.9 252.5 1611.6 252.7 1607.4 253.2 1603.1 253.9 1598.9 254.8 1594.6 256 1590.5 257.4 1586.4 259.1 1582.4 261 1578.6 263.1 1574.8 265.4 1571.2 267.9 1567.7 270.6 1564.5 273.5 1561.4 276.5 1558.5 279.7 1555.8 283 1553.3 286.5 1551.1 290 1549.1 293.6 1547.4 297.4 1545.9 301.1 1544.7 305 1543.8 308.8 1543.1 312.7 1542.7 316.5 1542.6 320.4 1542.8 324.2 1543.2 327.9 1544 331.6 1545 335.2 1546.2 338.6 1547.8 342 1549.6 345.2 1551.6 348.3 1553.9 351.3 1556.4 354 1559.2 356.6 1562.1 359 1565.3 361.2 1568.6 363.2 1572.1 364.9 1575.7 366.5 1579.5 367.7 1583.4 368.8 1587.4 369.6 1591.5 370.1 1595.7 370.4 1599.9 370.5"/>
<path d="M1615.9 252.5 1613.1 253.1 1610.4 254 1607.6 255.1 1604.8 256.5 1602 258.1 1599.2 259.9 1596.5 262 1593.9 264.3 1591.2 266.7 1588.7 269.4 1586.3 272.2 1583.9 275.2 1581.6 278.4 1579.5 281.7 1577.5 285.1 1575.6 288.7 1573.8 292.3 1572.2 296 1570.7 299.8 1569.4 303.7 1568.3 307.6 1567.4 311.4 1566.6 315.3 1565.9 319.2 1565.5 323.1 1565.3 326.8 1565.2 330.6 1565.3 334.2 1565.6 337.8 1566.1 341.2 1566.7 344.5 1567.6 347.7 1568.6 350.7 1569.7 353.5 1571.1 356.2 1572.6 358.7 1574.2 360.9 1576 363 1577.9 364.8 1580 366.5 1582.2 367.8 1584.5 369 1586.8 369.8 1589.3 370.5 1591.9 370.9 1594.5 371 1597.2 370.9 1599.9 370.5"/>
<path d="M1615.9 252.5 1615.3 253.4 1614.7 254.6 1614.1 256 1613.4 257.7 1612.7 259.6 1612 261.7 1611.3 264 1610.6 266.6 1609.8 269.3 1609.1 272.2 1608.3 275.3 1607.5 278.5 1606.8 281.9 1606 285.3 1605.3 289 1604.5 292.7 1603.8 296.4 1603.1 300.3 1602.4 304.2 1601.7 308.1 1601.1 312.1 1600.5 316 1599.9 319.9 1599.4 323.8 1598.9 327.6 1598.4 331.4 1598 335.1 1597.6 338.7 1597.3 342.1 1597 345.5 1596.7 348.6 1596.5 351.7 1596.4 354.5 1596.3 357.2 1596.2 359.7 1596.2 361.9 1596.3 364 1596.4 365.8 1596.5 367.4 1596.7 368.8 1597 369.9 1597.2 370.7 1597.6 371.3 1598 371.7 1598.4 371.8 1598.9 371.6 1599.4 371.2 1599.9 370.5"/>
<path d="M1615.9 252.5 1617.7 253.5 1619.4 254.8 1621 256.3 1622.6 258.1 1624.2 260.1 1625.6 262.3 1627 264.7 1628.4 267.3 1629.6 270.1 1630.7 273.1 1631.8 276.2 1632.7 279.5 1633.5 283 1634.2 286.5 1634.8 290.2 1635.3 294 1635.7 297.8 1636 301.7 1636.1 305.6 1636.1 309.6 1636 313.5 1635.8 317.5 1635.4 321.4 1635 325.3 1634.4 329.1 1633.7 332.9 1632.9 336.5 1632 340.1 1630.9 343.5 1629.8 346.8 1628.6 350 1627.3 353 1625.9 355.8 1624.5 358.4 1623 360.8 1621.4 363 1619.7 365 1618 366.7 1616.3 368.2 1614.5 369.5 1612.7 370.5 1610.9 371.3 1609 371.8 1607.2 372.1 1605.3 372.1 1603.5 371.8 1601.7 371.3 1599.9 370.5"/>
<path d="M1615.9 252.5 1619.5 253.4 1623.1 254.5 1626.6 255.9 1630.1 257.6 1633.4 259.4 1636.6 261.5 1639.8 263.8 1642.7 266.3 1645.6 269 1648.2 271.9 1650.7 274.9 1653 278.1 1655.1 281.5 1657 285 1658.7 288.5 1660.2 292.2 1661.5 296 1662.5 299.8 1663.3 303.7 1663.9 307.6 1664.2 311.6 1664.3 315.5 1664.1 319.4 1663.7 323.3 1663.1 327.1 1662.2 330.9 1661.1 334.6 1659.7 338.2 1658.2 341.7 1656.4 345 1654.4 348.2 1652.2 351.2 1649.9 354.1 1647.3 356.8 1644.6 359.3 1641.7 361.6 1638.7 363.6 1635.5 365.5 1632.3 367.1 1628.9 368.5 1625.4 369.6 1621.9 370.5 1618.3 371.2 1614.6 371.5 1610.9 371.7 1607.3 371.5 1603.6 371.1 1599.9 370.5"/>
<path d="M1615.9 252.5 1620.5 253.1 1625 253.9 1629.5 255 1633.9 256.3 1638.1 257.8 1642.3 259.6 1646.2 261.6 1650.1 263.8 1653.7 266.2 1657.2 268.9 1660.4 271.7 1663.4 274.6 1666.2 277.7 1668.7 281 1670.9 284.4 1672.9 287.9 1674.6 291.5 1676.1 295.2 1677.2 299 1678 302.8 1678.6 306.7 1678.8 310.6 1678.7 314.5 1678.4 318.3 1677.7 322.2 1676.7 326 1675.5 329.7 1673.9 333.4 1672.1 336.9 1670 340.4 1667.6 343.7 1664.9 346.9 1662.1 350 1658.9 352.8 1655.6 355.5 1652.1 358.1 1648.4 360.4 1644.5 362.5 1640.4 364.4 1636.2 366 1631.9 367.4 1627.5 368.6 1623 369.6 1618.4 370.3 1613.8 370.7 1609.2 370.9 1604.5 370.8 1599.9 370.5"/>
<path d="M1615.9 252.5 1620.3 252.6 1624.6 253 1628.9 253.7 1633.1 254.5 1637.1 255.7 1641.1 257 1644.9 258.6 1648.5 260.5 1652 262.5 1655.3 264.8 1658.3 267.2 1661.2 269.9 1663.8 272.7 1666.2 275.7 1668.4 278.8 1670.2 282.1 1671.9 285.5 1673.2 289.1 1674.3 292.7 1675 296.4 1675.5 300.1 1675.7 303.9 1675.6 307.8 1675.3 311.6 1674.6 315.5 1673.6 319.3 1672.4 323.2 1670.9 326.9 1669.1 330.6 1667.1 334.2 1664.8 337.7 1662.2 341.1 1659.5 344.4 1656.5 347.5 1653.3 350.5 1649.9 353.3 1646.3 356 1642.6 358.4 1638.7 360.6 1634.7 362.7 1630.5 364.5 1626.3 366.1 1622 367.4 1617.6 368.5 1613.2 369.4 1608.8 370 1604.3 370.4 1599.9 370.5"/>
<path d="M1615.9 252.5 1619 252.2 1622 252.1 1625 252.3 1627.9 252.8 1630.7 253.5 1633.4 254.5 1636 255.7 1638.5 257.1 1640.8 258.8 1643 260.7 1645.1 262.8 1647 265.1 1648.7 267.6 1650.3 270.4 1651.6 273.2 1652.8 276.3 1653.8 279.5 1654.6 282.8 1655.2 286.3 1655.6 289.9 1655.8 293.5 1655.8 297.3 1655.6 301.1 1655.2 304.9 1654.5 308.8 1653.7 312.7 1652.7 316.6 1651.5 320.4 1650.1 324.2 1648.5 328 1646.8 331.7 1644.8 335.3 1642.8 338.8 1640.5 342.2 1638.2 345.4 1635.7 348.6 1633 351.5 1630.3 354.3 1627.5 356.9 1624.6 359.3 1621.6 361.5 1618.6 363.5 1615.5 365.3 1612.4 366.8 1609.3 368.1 1606.1 369.1 1603 369.9 1599.9 370.5"/>
<path d="M1615.9 252.5 1616.9 251.9 1617.8 251.5 1618.7 251.4 1619.6 251.5 1620.4 251.9 1621.1 252.5 1621.8 253.4 1622.4 254.6 1623 256 1623.5 257.6 1624 259.5 1624.3 261.5 1624.6 263.8 1624.9 266.3 1625 269 1625.1 271.9 1625.1 274.9 1625 278.1 1624.9 281.5 1624.7 285 1624.4 288.6 1624 292.2 1623.6 296 1623.1 299.8 1622.6 303.7 1622 307.6 1621.3 311.6 1620.5 315.5 1619.8 319.4 1618.9 323.3 1618 327.1 1617.1 330.9 1616.1 334.6 1615.1 338.2 1614.1 341.6 1613 345 1611.9 348.2 1610.8 351.2 1609.7 354.1 1608.6 356.8 1607.5 359.3 1606.3 361.5 1605.2 363.6 1604.1 365.5 1603 367.1 1602 368.5 1600.9 369.6 1599.9 370.5"/>
<path d="M1615.9 252.5 1616 251.8 1616.1 251.3 1616.1 251.1 1616.1 251.2 1616 251.5 1616 252.1 1615.8 252.9 1615.7 254 1615.5 255.3 1615.3 256.9 1615.1 258.7 1614.8 260.7 1614.5 262.9 1614.2 265.4 1613.8 268 1613.4 270.9 1613 273.9 1612.6 277 1612.1 280.4 1611.7 283.8 1611.2 287.4 1610.7 291.1 1610.2 294.8 1609.6 298.6 1609.1 302.5 1608.6 306.5 1608 310.4 1607.5 314.4 1607 318.3 1606.4 322.2 1605.9 326.1 1605.4 329.9 1604.9 333.6 1604.4 337.2 1603.9 340.7 1603.5 344.1 1603 347.4 1602.6 350.5 1602.2 353.4 1601.8 356.2 1601.5 358.7 1601.2 361.1 1600.9 363.2 1600.6 365.2 1600.4 366.9 1600.2 368.3 1600 369.5 1599.9 370.5"/>
<path d="M1616.1 251.2 1611.8 251 1607.7 250.9 1604.1 251.1 1601.1 251.5 1599 252.1 1597.9 252.7 1597.8 253.5 1598.7 254.3 1600.6 255.2 1603.4 256 1606.9 256.7 1610.9 257.2 1615.2 257.6 1619.5 257.8 1623.6 257.8 1627.2 257.7 1630.2 257.3 1632.3 256.7 1633.4 256 1633.5 255.3 1632.6 254.4 1630.7 253.6 1627.9 252.8 1624.4 252.1 1620.4 251.6Z"/>
<path d="M1615.7 253.7 1610.7 253.4 1605.7 253.2 1600.9 253.2 1596.4 253.4 1592.3 253.6 1588.7 254.1 1585.7 254.6 1583.2 255.2 1581.5 256 1580.5 256.8 1580.1 257.7 1580.6 258.7 1581.7 259.6 1583.6 260.6 1586.1 261.6 1589.3 262.5 1593 263.4 1597.1 264.2 1601.7 264.9 1606.5 265.5 1611.5 266 1616.6 266.4 1621.6 266.6 1626.5 266.7 1631.2 266.6 1635.5 266.4 1639.3 266.1 1642.7 265.6 1645.4 265 1647.5 264.3 1648.9 263.5 1649.6 262.6 1649.5 261.7 1648.7 260.7 1647.2 259.8 1645 258.8 1642.1 257.8 1638.7 256.9 1634.8 256.1 1630.4 255.3 1625.7 254.7 1620.8 254.1Z"/>
<path d="M1614.9 259.9 1609.5 259.6 1604.1 259.4 1598.8 259.3 1593.7 259.3 1588.9 259.4 1584.4 259.7 1580.2 260 1576.4 260.5 1573.1 261 1570.2 261.7 1567.9 262.4 1566.2 263.2 1565 264.1 1564.4 265.1 1564.5 266 1565.1 267.1 1566.3 268.1 1568.1 269.2 1570.4 270.2 1573.2 271.2 1576.6 272.2 1580.4 273.2 1584.6 274.1 1589.2 274.9 1594 275.7 1599.1 276.4 1604.4 277 1609.8 277.5 1615.2 277.8 1620.6 278.1 1625.9 278.3 1631.1 278.3 1636.1 278.3 1640.8 278.1 1645.2 277.8 1649.2 277.4 1652.7 276.9 1655.8 276.3 1658.4 275.6 1660.4 274.8 1661.9 273.9 1662.7 273 1663 272.1 1662.7 271 1661.8 270 1660.3 269 1658.2 267.9 1655.6 266.9 1652.5 265.9 1648.9 264.9 1644.9 263.9 1640.5 263.1 1635.8 262.3 1630.8 261.5 1625.6 260.9 1620.3 260.4Z"/>
<path d="M1613.6 269.5 1608.1 269.1 1602.6 268.9 1597.2 268.7 1591.9 268.7 1586.7 268.7 1581.8 268.8 1577.2 269.1 1572.8 269.4 1568.8 269.8 1565.1 270.3 1561.8 270.9 1558.9 271.5 1556.5 272.3 1554.5 273.1 1553 274 1552 274.9 1551.5 275.8 1551.4 276.8 1551.9 277.9 1552.9 278.9 1554.4 280 1556.4 281.1 1558.8 282.1 1561.7 283.2 1564.9 284.2 1568.6 285.2 1572.7 286.1 1577 287.1 1581.7 287.9 1586.6 288.7 1591.7 289.4 1597 290.1 1602.4 290.6 1607.9 291.1 1613.4 291.5 1618.9 291.8 1624.4 292 1629.7 292.1 1634.9 292.1 1640 292 1644.8 291.9 1649.3 291.6 1653.5 291.2 1657.4 290.8 1660.9 290.2 1664 289.6 1666.6 288.9 1668.8 288.1 1670.6 287.3 1671.8 286.4 1672.6 285.4 1672.9 284.5 1672.6 283.4 1671.9 282.4 1670.6 281.3 1668.9 280.3 1666.7 279.2 1664.1 278.1 1661 277.1 1657.5 276.1 1653.6 275.1 1649.4 274.2 1644.9 273.3 1640.1 272.5 1635.1 271.7 1629.9 271 1624.6 270.4 1619.1 269.9Z"/>
<path d="M1611.9 281.7 1606.3 281.4 1600.7 281.1 1595.1 280.9 1589.7 280.8 1584.4 280.8 1579.3 280.9 1574.4 281.1 1569.7 281.3 1565.3 281.7 1561.2 282.1 1557.5 282.6 1554.1 283.2 1551.1 283.9 1548.5 284.6 1546.3 285.4 1544.5 286.3 1543.3 287.2 1542.4 288.1 1542 289.1 1542.1 290.2 1542.7 291.2 1543.7 292.3 1545.2 293.4 1547.1 294.5 1549.5 295.6 1552.2 296.6 1555.4 297.7 1559 298.7 1562.8 299.7 1567.1 300.7 1571.6 301.6 1576.3 302.5 1581.3 303.3 1586.5 304 1591.9 304.7 1597.4 305.3 1603 305.8 1608.6 306.3 1614.3 306.6 1619.9 306.9 1625.4 307.1 1630.9 307.2 1636.2 307.2 1641.3 307.1 1646.2 306.9 1650.9 306.6 1655.3 306.3 1659.3 305.9 1663.1 305.3 1666.5 304.7 1669.5 304.1 1672.1 303.3 1674.3 302.5 1676 301.7 1677.3 300.8 1678.1 299.8 1678.5 298.8 1678.4 297.8 1677.8 296.7 1676.8 295.7 1675.3 294.6 1673.4 293.5 1671.1 292.4 1668.3 291.3 1665.1 290.3 1661.6 289.2 1657.7 288.2 1653.5 287.3 1649 286.4 1644.2 285.5 1639.2 284.7 1634 283.9 1628.6 283.3 1623.1 282.7 1617.6 282.2Z"/>
<path d="M1610 295.9 1604.3 295.5 1598.7 295.2 1593.1 295 1587.6 294.9 1582.2 294.9 1577 295 1572 295.1 1567.3 295.4 1562.8 295.7 1558.5 296.1 1554.6 296.6 1551.1 297.1 1547.8 297.8 1545 298.5 1542.6 299.3 1540.6 300.1 1539 301 1537.8 301.9 1537.1 302.9 1536.9 303.9 1537.1 304.9 1537.7 306 1538.8 307.1 1540.4 308.2 1542.3 309.3 1544.7 310.4 1547.5 311.4 1550.7 312.5 1554.2 313.6 1558.1 314.6 1562.3 315.5 1566.7 316.5 1571.5 317.3 1576.5 318.2 1581.6 318.9 1587 319.6 1592.5 320.3 1598.1 320.8 1603.7 321.3 1609.4 321.7 1615 322 1620.7 322.3 1626.2 322.4 1631.7 322.5 1636.9 322.5 1642 322.4 1646.9 322.2 1651.6 321.9 1656 321.5 1660 321.1 1663.8 320.5 1667.2 319.9 1670.2 319.3 1672.8 318.5 1675 317.7 1676.8 316.9 1678.2 316 1679.1 315 1679.6 314 1679.6 313 1679.2 311.9 1678.3 310.8 1677 309.8 1675.3 308.7 1673.1 307.6 1670.5 306.5 1667.5 305.4 1664.2 304.3 1660.5 303.3 1656.4 302.3 1652.1 301.4 1647.5 300.5 1642.6 299.6 1637.5 298.8 1632.3 298.1 1626.8 297.4 1621.3 296.8 1615.7 296.3Z"/>
<path d="M1608 311 1602.3 310.6 1596.7 310.4 1591.2 310.2 1585.7 310.1 1580.4 310.1 1575.3 310.1 1570.3 310.3 1565.6 310.5 1561.2 310.9 1557 311.3 1553.2 311.8 1549.7 312.4 1546.5 313 1543.8 313.7 1541.5 314.5 1539.6 315.3 1538.1 316.2 1537 317.1 1536.4 318.1 1536.3 319.1 1536.6 320.2 1537.4 321.2 1538.6 322.3 1540.3 323.4 1542.3 324.5 1544.8 325.6 1547.7 326.6 1551 327.7 1554.6 328.7 1558.6 329.7 1562.9 330.7 1567.4 331.6 1572.2 332.4 1577.3 333.2 1582.5 333.9 1587.9 334.6 1593.4 335.2 1598.9 335.7 1604.6 336.2 1610.2 336.5 1615.8 336.8 1621.3 337 1626.8 337.1 1632.1 337.1 1637.3 337 1642.2 336.9 1646.9 336.6 1651.4 336.3 1655.5 335.9 1659.4 335.4 1662.9 334.8 1666 334.2 1668.7 333.5 1671 332.7 1673 331.8 1674.4 331 1675.5 330 1676.1 329 1676.2 328 1675.9 327 1675.1 325.9 1673.9 324.8 1672.3 323.8 1670.2 322.7 1667.7 321.6 1664.8 320.5 1661.5 319.5 1657.9 318.4 1653.9 317.5 1649.6 316.5 1645.1 315.6 1640.3 314.8 1635.2 314 1630 313.2 1624.7 312.6 1619.2 312 1613.6 311.4Z"/>
<path d="M1605.9 326.2 1600.3 325.8 1594.8 325.6 1589.3 325.4 1583.9 325.3 1578.7 325.3 1573.7 325.5 1568.9 325.7 1564.4 326 1560.2 326.3 1556.3 326.8 1552.8 327.4 1549.7 328 1547 328.7 1544.7 329.5 1542.9 330.3 1541.6 331.2 1540.7 332.2 1540.3 333.2 1540.4 334.2 1541 335.2 1542.1 336.3 1543.7 337.4 1545.7 338.5 1548.1 339.5 1551 340.6 1554.3 341.6 1558 342.6 1562 343.6 1566.3 344.5 1571 345.4 1575.9 346.2 1581 347 1586.3 347.6 1591.7 348.3 1597.2 348.8 1602.8 349.2 1608.4 349.6 1613.9 349.8 1619.4 350 1624.8 350.1 1630 350.1 1635 349.9 1639.8 349.7 1644.3 349.4 1648.5 349.1 1652.4 348.6 1655.9 348 1659 347.4 1661.7 346.7 1664 345.9 1665.8 345.1 1667.1 344.2 1668 343.2 1668.4 342.2 1668.3 341.2 1667.7 340.2 1666.6 339.1 1665 338 1663 336.9 1660.6 335.9 1657.7 334.8 1654.4 333.8 1650.7 332.8 1646.7 331.8 1642.3 330.9 1637.7 330 1632.8 329.2 1627.7 328.4 1622.4 327.8 1617 327.1 1611.5 326.6Z"/>
<path d="M1604 340.4 1598.5 340.1 1593.1 339.9 1587.8 339.7 1582.6 339.7 1577.6 339.8 1572.9 340 1568.5 340.3 1564.4 340.7 1560.8 341.2 1557.5 341.7 1554.8 342.4 1552.5 343.2 1550.7 344 1549.5 344.9 1548.8 345.8 1548.7 346.8 1549.1 347.8 1550.1 348.9 1551.6 349.9 1553.6 351 1556.1 352 1559.2 353.1 1562.6 354.1 1566.5 355 1570.7 355.9 1575.3 356.8 1580.2 357.6 1585.2 358.3 1590.5 358.9 1595.9 359.4 1601.3 359.8 1606.8 360.2 1612.2 360.4 1617.6 360.5 1622.7 360.6 1627.7 360.5 1632.4 360.3 1636.8 360 1640.9 359.6 1644.6 359.1 1647.8 358.5 1650.6 357.9 1652.8 357.1 1654.6 356.3 1655.8 355.4 1656.5 354.5 1656.7 353.5 1656.2 352.5 1655.3 351.4 1653.8 350.4 1651.7 349.3 1649.2 348.2 1646.2 347.2 1642.7 346.2 1638.8 345.3 1634.6 344.4 1630 343.5 1625.2 342.7 1620.1 342 1614.8 341.4 1609.4 340.9Z"/>
<path d="M1602.3 352.8 1597 352.5 1591.8 352.3 1586.7 352.3 1581.9 352.3 1577.4 352.6 1573.4 352.9 1569.8 353.4 1566.7 354 1564.3 354.7 1562.4 355.4 1561.3 356.3 1560.8 357.2 1561 358.2 1561.9 359.2 1563.5 360.2 1565.7 361.3 1568.6 362.3 1572 363.2 1575.9 364.1 1580.2 365 1584.9 365.7 1589.9 366.4 1595 366.9 1600.3 367.4 1605.6 367.7 1610.8 367.9 1615.9 367.9 1620.7 367.8 1625.2 367.6 1629.3 367.3 1632.9 366.8 1635.9 366.2 1638.4 365.5 1640.2 364.8 1641.4 363.9 1641.8 363 1641.6 362 1640.7 361 1639.1 360 1636.9 358.9 1634.1 357.9 1630.7 357 1626.8 356.1 1622.4 355.2 1617.7 354.5 1612.8 353.8 1607.6 353.2Z"/>
<path d="M1601 362.5 1596.2 362.3 1591.6 362.2 1587.3 362.3 1583.5 362.6 1580.4 363.1 1578 363.7 1576.5 364.4 1575.9 365.2 1576.3 366.1 1577.6 367 1579.7 367.9 1582.7 368.8 1586.3 369.6 1590.5 370.3 1595 370.9 1599.8 371.3 1604.6 371.6 1609.2 371.7 1613.5 371.6 1617.2 371.3 1620.4 370.8 1622.7 370.2 1624.2 369.5 1624.8 368.7 1624.5 367.8 1623.2 366.9 1621 365.9 1618.1 365.1 1614.5 364.3 1610.3 363.5 1605.7 363Z"/>
<path d="M1600.1 369 1597.5 368.9 1595.3 369 1593.7 369.3 1593.1 369.8 1593.6 370.3 1595 370.8 1597.2 371.2 1599.8 371.5 1602.4 371.5 1604.6 371.4 1606.1 371.1 1606.7 370.7 1606.3 370.2 1604.9 369.7 1602.7 369.3Z"/>
<ellipse cx="1607.9" cy="311.5" rx="72" ry="60.5" transform="rotate(175 1607.9 311.5)" stroke-opacity="0.22"/>
</g>
<g stroke-width="1.3">
<circle cx="1599.6" cy="303.7" r="5.17" fill="#c44e52" stroke="#ab353a" opacity="0.66"/>
<circle cx="1585.9" cy="314.3" r="5.17" fill="#c44e52" stroke="#ab353a" opacity="0.45"/>
<circle cx="1590.8" cy="309.8" r="5.17" fill="#c44e52" stroke="#ab353a" opacity="0.42"/>
<circle cx="1609.1" cy="317" r="5.17" fill="#c44e52" stroke="#ab353a" opacity="0.41"/>
<circle cx="1648" cy="303.5" r="5.17" fill="#c44e52" stroke="#ab353a" opacity="0.5"/>
<circle cx="1586" cy="280.8" r="5.17" fill="#c44e52" stroke="#ab353a" opacity="0.69"/>
<circle cx="1594.8" cy="294.5" r="5.17" fill="#c44e52" stroke="#ab353a" opacity="0.58"/>
<circle cx="1594" cy="318.3" r="5.17" fill="#c44e52" stroke="#ab353a" opacity="0.39"/>
<circle cx="1589" cy="313" r="5.17" fill="#c44e52" stroke="#ab353a" opacity="0.34"/>
<circle cx="1604.5" cy="297.4" r="5.17" fill="#c44e52" stroke="#ab353a" opacity="0.66"/>
<circle cx="1627.5" cy="329.2" r="5.17" fill="#c44e52" stroke="#ab353a" opacity="0.49"/>
<circle cx="1599.9" cy="328.8" r="5.17" fill="#c44e52" stroke="#ab353a" opacity="0.33"/>
<circle cx="1611.5" cy="282.2" r="5.17" fill="#c44e52" stroke="#ab353a" opacity="0.42"/>
<circle cx="1661.4" cy="327" r="5.17" fill="#c44e52" stroke="#ab353a" opacity="0.46"/>
<circle cx="1598.6" cy="299" r="5.17" fill="#c44e52" stroke="#ab353a" opacity="0.6"/>
<circle cx="1628.6" cy="321.5" r="5.17" fill="#c44e52" stroke="#ab353a" opacity="0.6"/>
<circle cx="1618.9" cy="318.4" r="5.17" fill="#c44e52" stroke="#ab353a" opacity="0.33"/>
<circle cx="1588.5" cy="267.8" r="5.17" fill="#c44e52" stroke="#ab353a" opacity="0.56"/>
<circle cx="1600.6" cy="309" r="5.17" fill="#c44e52" stroke="#ab353a" opacity="0.31"/>
<circle cx="1593.8" cy="325.3" r="5.17" fill="#c44e52" stroke="#ab353a" opacity="0.46"/>
<circle cx="1604.9" cy="343.5" r="5.17" fill="#c44e52" stroke="#ab353a" opacity="0.52"/>
<circle cx="1610.8" cy="304.8" r="5.17" fill="#c44e52" stroke="#ab353a" opacity="0.49"/>
<circle cx="1642.1" cy="273.8" r="5.17" fill="#c44e52" stroke="#ab353a" opacity="0.39"/>
<circle cx="1600.9" cy="286.2" r="5.17" fill="#c44e52" stroke="#ab353a" opacity="0.55"/>
<circle cx="1632.5" cy="338.5" r="5.17" fill="#c44e52" stroke="#ab353a" opacity="0.66"/>
<circle cx="1592.3" cy="342.7" r="5.17" fill="#c44e52" stroke="#ab353a" opacity="0.69"/>
<circle cx="1615.3" cy="334.1" r="5.17" fill="#c44e52" stroke="#ab353a" opacity="0.53"/>
<circle cx="1605.3" cy="300.5" r="5.17" fill="#c44e52" stroke="#ab353a" opacity="0.32"/>
<circle cx="1585.5" cy="299.3" r="5.17" fill="#c44e52" stroke="#ab353a" opacity="0.63"/>
<circle cx="1610.7" cy="325.4" r="5.17" fill="#c44e52" stroke="#ab353a" opacity="0.49"/>
<circle cx="1560.4" cy="338.8" r="5.17" fill="#c44e52" stroke="#ab353a" opacity="0.9"/>
<circle cx="1592" cy="355.3" r="5.17" fill="#c44e52" stroke="#ab353a" opacity="0.9"/>
<circle cx="1673.6" cy="304.2" r="5.17" fill="#c44e52" stroke="#ab353a" opacity="0.5"/>
<circle cx="1646.8" cy="282.3" r="5.17" fill="#c44e52" stroke="#ab353a" opacity="0.4"/>
<circle cx="1609" cy="271.4" r="5.17" fill="#c44e52" stroke="#ab353a" opacity="0.4"/>
<circle cx="1651.7" cy="312.7" r="5.17" fill="#c44e52" stroke="#ab353a" opacity="0.4"/>
<circle cx="1582.6" cy="209.1" r="5.17" fill="#c44e52" stroke="#ab353a" opacity="0.5"/>
<circle cx="1667" cy="300" r="5.17" fill="#c44e52" stroke="#ab353a" opacity="0.5"/>
<circle cx="1640" cy="260" r="5.17" fill="#c44e52" stroke="#ab353a" opacity="0.4"/>
<circle cx="1585" cy="280" r="5.17" fill="#c44e52" stroke="#ab353a" opacity="0.4"/>
<circle cx="1650" cy="350" r="5.17" fill="#c44e52" stroke="#ab353a" opacity="0.4"/>
<circle cx="1597.2" cy="336.6" r="5.17" fill="#4c72b0" stroke="#385c9a" opacity="0.47"/>
<circle cx="1613.4" cy="328.7" r="5.17" fill="#4c72b0" stroke="#385c9a" opacity="0.48"/>
<circle cx="1599.9" cy="293.1" r="5.17" fill="#4c72b0" stroke="#385c9a" opacity="0.5"/>
<circle cx="1630.4" cy="353.9" r="5.17" fill="#4c72b0" stroke="#385c9a" opacity="0.31"/>
<circle cx="1654.9" cy="320.1" r="5.17" fill="#4c72b0" stroke="#385c9a" opacity="0.57"/>
<circle cx="1582.9" cy="324" r="5.17" fill="#4c72b0" stroke="#385c9a" opacity="0.54"/>
<circle cx="1609.2" cy="297.3" r="5.17" fill="#4c72b0" stroke="#385c9a" opacity="0.35"/>
<circle cx="1601.5" cy="308.7" r="5.17" fill="#4c72b0" stroke="#385c9a" opacity="0.37"/>
<circle cx="1641.7" cy="328.5" r="5.17" fill="#4c72b0" stroke="#385c9a" opacity="0.51"/>
<circle cx="1549.5" cy="316.9" r="5.17" fill="#4c72b0" stroke="#385c9a" opacity="0.44"/>
<circle cx="1608" cy="320.1" r="5.17" fill="#4c72b0" stroke="#385c9a" opacity="0.42"/>
<circle cx="1628.6" cy="321.8" r="5.17" fill="#4c72b0" stroke="#385c9a" opacity="0.31"/>
<circle cx="1637.1" cy="293.3" r="5.17" fill="#4c72b0" stroke="#385c9a" opacity="0.44"/>
<circle cx="1607.7" cy="309.6" r="5.17" fill="#4c72b0" stroke="#385c9a" opacity="0.4"/>
<circle cx="1557.5" cy="336.1" r="5.17" fill="#4c72b0" stroke="#385c9a" opacity="0.59"/>
<circle cx="1576.3" cy="317.4" r="5.17" fill="#4c72b0" stroke="#385c9a" opacity="0.46"/>
<circle cx="1612" cy="306.2" r="5.17" fill="#4c72b0" stroke="#385c9a" opacity="0.43"/>
<circle cx="1623.4" cy="279.6" r="5.17" fill="#4c72b0" stroke="#385c9a" opacity="0.49"/>
<circle cx="1588.4" cy="300.8" r="5.17" fill="#4c72b0" stroke="#385c9a" opacity="0.44"/>
<circle cx="1562.6" cy="288.3" r="5.17" fill="#4c72b0" stroke="#385c9a" opacity="0.47"/>
<circle cx="1652.2" cy="302" r="5.17" fill="#4c72b0" stroke="#385c9a" opacity="0.51"/>
<circle cx="1585.3" cy="335.8" r="5.17" fill="#4c72b0" stroke="#385c9a" opacity="0.36"/>
<circle cx="1573.5" cy="311.3" r="5.17" fill="#4c72b0" stroke="#385c9a" opacity="0.35"/>
<circle cx="1626.4" cy="277.4" r="5.17" fill="#4c72b0" stroke="#385c9a" opacity="0.49"/>
<circle cx="1661" cy="317.2" r="5.17" fill="#4c72b0" stroke="#385c9a" opacity="0.54"/>
<circle cx="1645" cy="298.3" r="5.17" fill="#4c72b0" stroke="#385c9a" opacity="0.56"/>
<circle cx="1663" cy="336.7" r="5.17" fill="#4c72b0" stroke="#385c9a" opacity="0.39"/>
<circle cx="1578.3" cy="303.5" r="5.17" fill="#4c72b0" stroke="#385c9a" opacity="0.36"/>
<circle cx="1622.5" cy="350.4" r="5.17" fill="#4c72b0" stroke="#385c9a" opacity="0.49"/>
<circle cx="1600.2" cy="285.1" r="5.17" fill="#4c72b0" stroke="#385c9a" opacity="0.37"/>
<circle cx="1647.5" cy="314.2" r="5.17" fill="#4c72b0" stroke="#385c9a" opacity="0.48"/>
<circle cx="1594.2" cy="280.4" r="5.17" fill="#4c72b0" stroke="#385c9a" opacity="0.39"/>
<circle cx="1576" cy="333.2" r="5.17" fill="#4c72b0" stroke="#385c9a" opacity="0.53"/>
<circle cx="1608.8" cy="329.1" r="5.17" fill="#4c72b0" stroke="#385c9a" opacity="0.52"/>
<circle cx="1599.3" cy="280.8" r="5.17" fill="#4c72b0" stroke="#385c9a" opacity="0.45"/>
<circle cx="1643" cy="333" r="5.17" fill="#4c72b0" stroke="#385c9a" opacity="0.31"/>
<circle cx="1626.4" cy="313.3" r="5.17" fill="#4c72b0" stroke="#385c9a" opacity="0.56"/>
<circle cx="1622.9" cy="277.9" r="5.17" fill="#4c72b0" stroke="#385c9a" opacity="0.43"/>
<circle cx="1589.9" cy="309.3" r="5.17" fill="#4c72b0" stroke="#385c9a" opacity="0.3"/>
<circle cx="1572.2" cy="317.8" r="5.17" fill="#4c72b0" stroke="#385c9a" opacity="0.57"/>
<circle cx="1620.1" cy="349" r="5.17" fill="#4c72b0" stroke="#385c9a" opacity="0.59"/>
<circle cx="1602.8" cy="272.7" r="5.17" fill="#4c72b0" stroke="#385c9a" opacity="0.54"/>
<circle cx="1652.9" cy="284.8" r="5.17" fill="#4c72b0" stroke="#385c9a" opacity="0.49"/>
<circle cx="1603.8" cy="296.8" r="5.17" fill="#4c72b0" stroke="#385c9a" opacity="0.44"/>
<circle cx="1619.1" cy="350.3" r="5.17" fill="#4c72b0" stroke="#385c9a" opacity="0.36"/>
<circle cx="1591" cy="300.5" r="5.17" fill="#4c72b0" stroke="#385c9a" opacity="0.36"/>
<circle cx="1626.3" cy="356.7" r="5.17" fill="#4c72b0" stroke="#385c9a" opacity="0.52"/>
<circle cx="1605.5" cy="277.9" r="5.17" fill="#4c72b0" stroke="#385c9a" opacity="0.55"/>
<circle cx="1640.4" cy="314.8" r="5.17" fill="#4c72b0" stroke="#385c9a" opacity="0.31"/>
<circle cx="1577.1" cy="282.5" r="5.17" fill="#4c72b0" stroke="#385c9a" opacity="0.56"/>
<circle cx="1581.5" cy="345.1" r="5.17" fill="#4c72b0" stroke="#385c9a" opacity="0.43"/>
<circle cx="1588.8" cy="287.9" r="5.17" fill="#4c72b0" stroke="#385c9a" opacity="0.47"/>
<circle cx="1594" cy="298.2" r="5.17" fill="#4c72b0" stroke="#385c9a" opacity="0.58"/>
<circle cx="1607.7" cy="288.8" r="5.17" fill="#4c72b0" stroke="#385c9a" opacity="0.47"/>
<circle cx="1626.9" cy="349.8" r="5.17" fill="#4c72b0" stroke="#385c9a" opacity="0.55"/>
<circle cx="1571.7" cy="320.7" r="5.17" fill="#4c72b0" stroke="#385c9a" opacity="0.55"/>
<circle cx="1580.2" cy="283.1" r="5.17" fill="#4c72b0" stroke="#385c9a" opacity="0.34"/>
<circle cx="1623.5" cy="272.3" r="5.17" fill="#4c72b0" stroke="#385c9a" opacity="0.38"/>
<circle cx="1613.5" cy="307.6" r="5.17" fill="#4c72b0" stroke="#385c9a" opacity="0.33"/>
<circle cx="1628.6" cy="285.3" r="5.17" fill="#4c72b0" stroke="#385c9a" opacity="0.52"/>
<circle cx="1627.5" cy="313.4" r="5.17" fill="#4c72b0" stroke="#385c9a" opacity="0.59"/>
<circle cx="1647.1" cy="318.5" r="5.17" fill="#4c72b0" stroke="#385c9a" opacity="0.56"/>
<circle cx="1583.6" cy="290.7" r="5.17" fill="#4c72b0" stroke="#385c9a" opacity="0.56"/>
<circle cx="1589.3" cy="337.9" r="5.17" fill="#4c72b0" stroke="#385c9a" opacity="0.49"/>
<circle cx="1629.3" cy="330.2" r="5.17" fill="#4c72b0" stroke="#385c9a" opacity="0.59"/>
<circle cx="1589" cy="331.3" r="5.17" fill="#4c72b0" stroke="#385c9a" opacity="0.59"/>
<circle cx="1573.3" cy="312.4" r="5.17" fill="#4c72b0" stroke="#385c9a" opacity="0.45"/>
<circle cx="1607.9" cy="304.3" r="5.17" fill="#4c72b0" stroke="#385c9a" opacity="0.38"/>
<circle cx="1611.6" cy="321.3" r="5.17" fill="#4c72b0" stroke="#385c9a" opacity="0.49"/>
<circle cx="1590.7" cy="301.8" r="5.17" fill="#4c72b0" stroke="#385c9a" opacity="0.42"/>
<circle cx="1662.5" cy="307.5" r="5.17" fill="#4c72b0" stroke="#385c9a" opacity="0.33"/>
<circle cx="1623.1" cy="336.4" r="5.17" fill="#4c72b0" stroke="#385c9a" opacity="0.38"/>
<circle cx="1603.7" cy="299.1" r="5.17" fill="#4c72b0" stroke="#385c9a" opacity="0.48"/>
<circle cx="1573.3" cy="324.8" r="5.17" fill="#4c72b0" stroke="#385c9a" opacity="0.57"/>
<circle cx="1622" cy="327.7" r="5.17" fill="#4c72b0" stroke="#385c9a" opacity="0.35"/>
<circle cx="1623.3" cy="282.4" r="5.17" fill="#4c72b0" stroke="#385c9a" opacity="0.51"/>
<circle cx="1653" cy="312.9" r="5.17" fill="#4c72b0" stroke="#385c9a" opacity="0.48"/>
<circle cx="1591.4" cy="322.3" r="5.17" fill="#4c72b0" stroke="#385c9a" opacity="0.31"/>
<circle cx="1649.4" cy="298.1" r="5.17" fill="#4c72b0" stroke="#385c9a" opacity="0.35"/>
<circle cx="1605" cy="346.1" r="5.17" fill="#4c72b0" stroke="#385c9a" opacity="0.34"/>
<circle cx="1620" cy="336.1" r="5.17" fill="#4c72b0" stroke="#385c9a" opacity="0.39"/>
<circle cx="1609.5" cy="322.7" r="5.17" fill="#4c72b0" stroke="#385c9a" opacity="0.43"/>
<circle cx="1579.9" cy="309" r="5.17" fill="#4c72b0" stroke="#385c9a" opacity="0.46"/>
<circle cx="1572.6" cy="309.7" r="5.17" fill="#4c72b0" stroke="#385c9a" opacity="0.43"/>
<circle cx="1579.1" cy="279" r="5.17" fill="#4c72b0" stroke="#385c9a" opacity="0.53"/>
<circle cx="1590.9" cy="346.8" r="5.17" fill="#4c72b0" stroke="#385c9a" opacity="0.44"/>
<circle cx="1603.8" cy="299.6" r="5.17" fill="#4c72b0" stroke="#385c9a" opacity="0.39"/>
<circle cx="1622.4" cy="336.6" r="5.17" fill="#4c72b0" stroke="#385c9a" opacity="0.31"/>
<circle cx="1588.4" cy="338.8" r="5.17" fill="#4c72b0" stroke="#385c9a" opacity="0.48"/>
<circle cx="1628.9" cy="308.2" r="5.17" fill="#4c72b0" stroke="#385c9a" opacity="0.54"/>
<circle cx="1604.3" cy="319.6" r="5.17" fill="#4c72b0" stroke="#385c9a" opacity="0.45"/>
<circle cx="1591.2" cy="343.3" r="5.17" fill="#4c72b0" stroke="#385c9a" opacity="0.34"/>
<circle cx="1605.9" cy="264.5" r="5.17" fill="#4c72b0" stroke="#385c9a" opacity="0.41"/>
<circle cx="1592.8" cy="303.5" r="5.17" fill="#4c72b0" stroke="#385c9a" opacity="0.47"/>
<circle cx="1631.1" cy="323.8" r="5.17" fill="#4c72b0" stroke="#385c9a" opacity="0.6"/>
<circle cx="1590.9" cy="339.7" r="5.17" fill="#4c72b0" stroke="#385c9a" opacity="0.38"/>
<circle cx="1602.7" cy="320" r="5.17" fill="#4c72b0" stroke="#385c9a" opacity="0.56"/>
<circle cx="1639.4" cy="326.5" r="5.17" fill="#4c72b0" stroke="#385c9a" opacity="0.3"/>
<circle cx="1641.4" cy="311.1" r="5.17" fill="#4c72b0" stroke="#385c9a" opacity="0.46"/>
<circle cx="1599.9" cy="341.4" r="5.17" fill="#4c72b0" stroke="#385c9a" opacity="0.37"/>
<circle cx="1604.3" cy="310.8" r="5.17" fill="#4c72b0" stroke="#385c9a" opacity="0.44"/>
<circle cx="1599.6" cy="309.4" r="5.17" fill="#4c72b0" stroke="#385c9a" opacity="0.41"/>
<circle cx="1585.2" cy="286.3" r="5.17" fill="#4c72b0" stroke="#385c9a" opacity="0.43"/>
<circle cx="1607.2" cy="346.7" r="5.17" fill="#4c72b0" stroke="#385c9a" opacity="0.51"/>
<circle cx="1586.2" cy="352.5" r="5.17" fill="#4c72b0" stroke="#385c9a" opacity="0.6"/>
<circle cx="1613.2" cy="300.7" r="5.17" fill="#4c72b0" stroke="#385c9a" opacity="0.49"/>
<circle cx="1615.2" cy="267.8" r="5.17" fill="#4c72b0" stroke="#385c9a" opacity="0.35"/>
<circle cx="1632" cy="342.9" r="5.17" fill="#4c72b0" stroke="#385c9a" opacity="0.36"/>
<circle cx="1636.5" cy="306.8" r="5.17" fill="#4c72b0" stroke="#385c9a" opacity="0.3"/>
<circle cx="1599.6" cy="324.2" r="5.17" fill="#4c72b0" stroke="#385c9a" opacity="0.41"/>
<circle cx="1613.2" cy="319" r="5.17" fill="#4c72b0" stroke="#385c9a" opacity="0.53"/>
<circle cx="1637.9" cy="289.6" r="5.17" fill="#4c72b0" stroke="#385c9a" opacity="0.47"/>
<circle cx="1623.7" cy="319.7" r="5.17" fill="#4c72b0" stroke="#385c9a" opacity="0.47"/>
<circle cx="1598.9" cy="295.1" r="5.17" fill="#4c72b0" stroke="#385c9a" opacity="0.43"/>
<circle cx="1607.8" cy="276" r="5.17" fill="#4c72b0" stroke="#385c9a" opacity="0.43"/>
<circle cx="1554.3" cy="295.6" r="5.17" fill="#4c72b0" stroke="#385c9a" opacity="0.47"/>
<circle cx="1599.2" cy="350.6" r="5.17" fill="#4c72b0" stroke="#385c9a" opacity="0.5"/>
<circle cx="1581.2" cy="312.3" r="5.17" fill="#4c72b0" stroke="#385c9a" opacity="0.54"/>
<circle cx="1588.1" cy="323.2" r="5.17" fill="#4c72b0" stroke="#385c9a" opacity="0.38"/>
<circle cx="1608.5" cy="317.9" r="5.17" fill="#4c72b0" stroke="#385c9a" opacity="0.39"/>
<circle cx="1597.2" cy="307.1" r="5.17" fill="#4c72b0" stroke="#385c9a" opacity="0.58"/>
<circle cx="1577.6" cy="297.5" r="5.17" fill="#4c72b0" stroke="#385c9a" opacity="0.54"/>
<circle cx="1562.1" cy="304.9" r="5.17" fill="#4c72b0" stroke="#385c9a" opacity="0.37"/>
<circle cx="1640.4" cy="320.3" r="5.17" fill="#4c72b0" stroke="#385c9a" opacity="0.58"/>
<circle cx="1578.1" cy="304.1" r="5.17" fill="#4c72b0" stroke="#385c9a" opacity="0.58"/>
<circle cx="1632.1" cy="345.1" r="5.17" fill="#4c72b0" stroke="#385c9a" opacity="0.43"/>
<circle cx="1625.4" cy="288.6" r="5.17" fill="#4c72b0" stroke="#385c9a" opacity="0.44"/>
<circle cx="1581.6" cy="297.8" r="5.17" fill="#4c72b0" stroke="#385c9a" opacity="0.4"/>
<circle cx="1571.7" cy="326" r="5.17" fill="#4c72b0" stroke="#385c9a" opacity="0.6"/>
<circle cx="1574.9" cy="293.1" r="5.17" fill="#4c72b0" stroke="#385c9a" opacity="0.41"/>
<circle cx="1651.5" cy="307.4" r="5.17" fill="#4c72b0" stroke="#385c9a" opacity="0.5"/>
<circle cx="1591.2" cy="300.3" r="5.17" fill="#4c72b0" stroke="#385c9a" opacity="0.31"/>
<circle cx="1616.6" cy="339.8" r="5.17" fill="#4c72b0" stroke="#385c9a" opacity="0.37"/>
<circle cx="1629.2" cy="316.2" r="5.17" fill="#4c72b0" stroke="#385c9a" opacity="0.34"/>
<circle cx="1626.9" cy="287" r="5.17" fill="#4c72b0" stroke="#385c9a" opacity="0.59"/>
<circle cx="1607" cy="274" r="5.17" fill="#4c72b0" stroke="#385c9a" opacity="0.4"/>
<circle cx="1602" cy="333.6" r="5.17" fill="#4c72b0" stroke="#385c9a" opacity="0.48"/>
<circle cx="1588.3" cy="324" r="5.17" fill="#4c72b0" stroke="#385c9a" opacity="0.38"/>
<circle cx="1651.1" cy="317.2" r="5.17" fill="#4c72b0" stroke="#385c9a" opacity="0.47"/>
<circle cx="1598.2" cy="328.9" r="5.17" fill="#4c72b0" stroke="#385c9a" opacity="0.42"/>
<circle cx="1622.6" cy="288.4" r="5.17" fill="#4c72b0" stroke="#385c9a" opacity="0.88"/>
<circle cx="1638.1" cy="307.9" r="5.17" fill="#4c72b0" stroke="#385c9a" opacity="0.84"/>
<circle cx="1626.4" cy="320.8" r="5.17" fill="#4c72b0" stroke="#385c9a" opacity="0.82"/>
<circle cx="1610.8" cy="306.8" r="5.17" fill="#4c72b0" stroke="#385c9a" opacity="1.0"/>
<circle cx="1627.7" cy="330.7" r="5.17" fill="#4c72b0" stroke="#385c9a" opacity="0.88"/>
<circle cx="1657.6" cy="307.9" r="5.17" fill="#4c72b0" stroke="#385c9a" opacity="0.85"/>
<circle cx="1611" cy="319.5" r="5.17" fill="#4c72b0" stroke="#385c9a" opacity="0.84"/>
<circle cx="1630.3" cy="304.4" r="5.17" fill="#4c72b0" stroke="#385c9a" opacity="0.94"/>
<circle cx="1617.1" cy="310.4" r="5.17" fill="#4c72b0" stroke="#385c9a" opacity="0.91"/>
<circle cx="1619.2" cy="300.5" r="5.17" fill="#4c72b0" stroke="#385c9a" opacity="0.97"/>
<circle cx="1604.1" cy="294.5" r="5.17" fill="#4c72b0" stroke="#385c9a" opacity="0.94"/>
<circle cx="1627.5" cy="305.9" r="5.17" fill="#4c72b0" stroke="#385c9a" opacity="0.95"/>
<circle cx="1615.5" cy="326.4" r="5.17" fill="#4c72b0" stroke="#385c9a" opacity="0.86"/>
<circle cx="1632.6" cy="297.5" r="5.17" fill="#4c72b0" stroke="#385c9a" opacity="0.83"/>
<circle cx="1628" cy="336.7" r="5.17" fill="#4c72b0" stroke="#385c9a" opacity="0.81"/>
<circle cx="1622.9" cy="293.2" r="5.17" fill="#4c72b0" stroke="#385c9a" opacity="0.82"/>
<circle cx="1616.4" cy="337.8" r="5.17" fill="#4c72b0" stroke="#385c9a" opacity="0.87"/>
<circle cx="1624.2" cy="313.2" r="5.17" fill="#4c72b0" stroke="#385c9a" opacity="0.89"/>
<circle cx="1619.8" cy="325.8" r="5.17" fill="#4c72b0" stroke="#385c9a" opacity="0.95"/>
<circle cx="1626.9" cy="320.8" r="5.17" fill="#4c72b0" stroke="#385c9a" opacity="0.94"/>
<circle cx="1645.9" cy="304.2" r="5.17" fill="#4c72b0" stroke="#385c9a" opacity="0.89"/>
<circle cx="1655.2" cy="315" r="5.17" fill="#4c72b0" stroke="#385c9a" opacity="0.83"/>
<circle cx="1643.9" cy="312.2" r="5.17" fill="#4c72b0" stroke="#385c9a" opacity="0.94"/>
<circle cx="1617.6" cy="287.4" r="5.17" fill="#4c72b0" stroke="#385c9a" opacity="0.91"/>
<circle cx="1629.1" cy="321.7" r="5.17" fill="#4c72b0" stroke="#385c9a" opacity="0.99"/>
<circle cx="1619.2" cy="303.7" r="5.17" fill="#4c72b0" stroke="#385c9a" opacity="0.91"/>
<circle cx="1632.9" cy="315.5" r="5.17" fill="#4c72b0" stroke="#385c9a" opacity="0.98"/>
<circle cx="1603.4" cy="294.7" r="5.17" fill="#4c72b0" stroke="#385c9a" opacity="0.97"/>
<circle cx="1653.2" cy="296.6" r="5.17" fill="#4c72b0" stroke="#385c9a" opacity="0.96"/>
<circle cx="1644.1" cy="323.8" r="5.17" fill="#4c72b0" stroke="#385c9a" opacity="0.85"/>
<circle cx="1612.7" cy="306.3" r="5.17" fill="#4c72b0" stroke="#385c9a" opacity="0.96"/>
<circle cx="1630.2" cy="316.4" r="5.17" fill="#4c72b0" stroke="#385c9a" opacity="0.95"/>
<circle cx="1630.6" cy="314.3" r="5.17" fill="#4c72b0" stroke="#385c9a" opacity="1.0"/>
<circle cx="1655.8" cy="315" r="5.17" fill="#4c72b0" stroke="#385c9a" opacity="0.99"/>
<circle cx="1618" cy="342" r="5.17" fill="#4c72b0" stroke="#385c9a" opacity="0.82"/>
<circle cx="1650" cy="324.1" r="5.17" fill="#4c72b0" stroke="#385c9a" opacity="0.85"/>
<circle cx="1634.3" cy="303.9" r="5.17" fill="#4c72b0" stroke="#385c9a" opacity="0.85"/>
<circle cx="1614" cy="303.6" r="5.17" fill="#4c72b0" stroke="#385c9a" opacity="0.97"/>
<circle cx="1599.9" cy="321.2" r="5.17" fill="#4c72b0" stroke="#385c9a" opacity="0.9"/>
<circle cx="1622.8" cy="342.4" r="5.17" fill="#4c72b0" stroke="#385c9a" opacity="0.88"/>
<circle cx="1611.8" cy="328.8" r="5.17" fill="#4c72b0" stroke="#385c9a" opacity="0.97"/>
<circle cx="1632.8" cy="308.5" r="5.17" fill="#4c72b0" stroke="#385c9a" opacity="0.91"/>
<circle cx="1639.5" cy="323.5" r="5.17" fill="#4c72b0" stroke="#385c9a" opacity="0.87"/>
<circle cx="1617.5" cy="302.2" r="5.17" fill="#4c72b0" stroke="#385c9a" opacity="0.88"/>
<circle cx="1650.5" cy="319.5" r="5.17" fill="#4c72b0" stroke="#385c9a" opacity="0.91"/>
<circle cx="1650.9" cy="299.3" r="5.17" fill="#4c72b0" stroke="#385c9a" opacity="0.84"/>
<circle cx="1616.6" cy="295.3" r="5.17" fill="#4c72b0" stroke="#385c9a" opacity="0.87"/>
<circle cx="1646.8" cy="310.4" r="5.17" fill="#4c72b0" stroke="#385c9a" opacity="0.81"/>
<circle cx="1634.8" cy="298.9" r="5.17" fill="#4c72b0" stroke="#385c9a" opacity="0.96"/>
<circle cx="1623.2" cy="298.8" r="5.17" fill="#4c72b0" stroke="#385c9a" opacity="0.88"/>
<circle cx="1611.4" cy="320.2" r="5.17" fill="#4c72b0" stroke="#385c9a" opacity="0.84"/>
<circle cx="1638.6" cy="333.2" r="5.17" fill="#4c72b0" stroke="#385c9a" opacity="0.87"/>
<circle cx="1637.8" cy="312.3" r="5.17" fill="#4c72b0" stroke="#385c9a" opacity="0.98"/>
<circle cx="1621.1" cy="296.4" r="5.17" fill="#4c72b0" stroke="#385c9a" opacity="0.99"/>
<circle cx="1628.9" cy="325.9" r="5.17" fill="#4c72b0" stroke="#385c9a" opacity="0.96"/>
<circle cx="1627.1" cy="312.1" r="5.17" fill="#4c72b0" stroke="#385c9a" opacity="0.94"/>
<circle cx="1641.3" cy="311.2" r="5.17" fill="#4c72b0" stroke="#385c9a" opacity="0.86"/>
<circle cx="1658.5" cy="309.2" r="5.17" fill="#4c72b0" stroke="#385c9a" opacity="0.86"/>
<circle cx="1617.2" cy="338.1" r="5.17" fill="#4c72b0" stroke="#385c9a" opacity="0.86"/>
<circle cx="1611.1" cy="308.1" r="5.17" fill="#4c72b0" stroke="#385c9a" opacity="0.91"/>
<circle cx="1635.5" cy="330" r="5.17" fill="#4c72b0" stroke="#385c9a" opacity="0.89"/>
<circle cx="1628.3" cy="314.7" r="5.17" fill="#4c72b0" stroke="#385c9a" opacity="0.83"/>
<circle cx="1636.1" cy="309.2" r="5.17" fill="#4c72b0" stroke="#385c9a" opacity="0.81"/>
<circle cx="1630.8" cy="319" r="5.17" fill="#4c72b0" stroke="#385c9a" opacity="0.98"/>
<circle cx="1629" cy="310.2" r="5.17" fill="#4c72b0" stroke="#385c9a" opacity="0.81"/>
<circle cx="1631.6" cy="342.3" r="5.17" fill="#4c72b0" stroke="#385c9a" opacity="0.98"/>
<circle cx="1647.2" cy="323.4" r="5.17" fill="#4c72b0" stroke="#385c9a" opacity="0.9"/>
<circle cx="1644.8" cy="317.9" r="5.17" fill="#4c72b0" stroke="#385c9a" opacity="0.81"/>
<circle cx="1629.8" cy="293.2" r="5.17" fill="#4c72b0" stroke="#385c9a" opacity="0.94"/>
<circle cx="1630" cy="312.3" r="5.17" fill="#4c72b0" stroke="#385c9a" opacity="0.9"/>
<circle cx="1629.5" cy="307.7" r="5.17" fill="#4c72b0" stroke="#385c9a" opacity="0.99"/>
<circle cx="1635.6" cy="295.8" r="5.17" fill="#4c72b0" stroke="#385c9a" opacity="0.94"/>
<circle cx="1649.1" cy="325.5" r="5.17" fill="#4c72b0" stroke="#385c9a" opacity="0.93"/>
<circle cx="1627.2" cy="314" r="5.17" fill="#4c72b0" stroke="#385c9a" opacity="0.94"/>
<circle cx="1636.4" cy="320.1" r="5.17" fill="#4c72b0" stroke="#385c9a" opacity="0.99"/>
<circle cx="1637.3" cy="325.9" r="5.17" fill="#4c72b0" stroke="#385c9a" opacity="0.98"/>
<circle cx="1650.5" cy="307.9" r="5.17" fill="#4c72b0" stroke="#385c9a" opacity="0.98"/>
<circle cx="1624.3" cy="332.1" r="5.17" fill="#4c72b0" stroke="#385c9a" opacity="0.94"/>
<circle cx="1607.3" cy="309.3" r="5.17" fill="#4c72b0" stroke="#385c9a" opacity="0.84"/>
<circle cx="1625.8" cy="316.3" r="5.17" fill="#4c72b0" stroke="#385c9a" opacity="0.97"/>
<circle cx="1618.9" cy="309.8" r="5.17" fill="#4c72b0" stroke="#385c9a" opacity="0.81"/>
<circle cx="1635.7" cy="322.8" r="5.17" fill="#4c72b0" stroke="#385c9a" opacity="0.82"/>
<circle cx="1610.7" cy="303.5" r="5.17" fill="#4c72b0" stroke="#385c9a" opacity="0.86"/>
<circle cx="1627.5" cy="310.7" r="5.17" fill="#4c72b0" stroke="#385c9a" opacity="0.91"/>
<circle cx="1623.7" cy="321.2" r="5.17" fill="#4c72b0" stroke="#385c9a" opacity="0.97"/>
<circle cx="1610.1" cy="315.3" r="5.17" fill="#4c72b0" stroke="#385c9a" opacity="0.95"/>
<circle cx="1634.4" cy="329.7" r="5.17" fill="#4c72b0" stroke="#385c9a" opacity="0.9"/>
<circle cx="1635" cy="337.5" r="5.17" fill="#4c72b0" stroke="#385c9a" opacity="0.98"/>
<circle cx="1615.4" cy="296.5" r="5.17" fill="#4c72b0" stroke="#385c9a" opacity="0.86"/>
<circle cx="1628.1" cy="309.8" r="5.17" fill="#4c72b0" stroke="#385c9a" opacity="0.88"/>
<circle cx="1640.2" cy="321.6" r="5.17" fill="#4c72b0" stroke="#385c9a" opacity="0.87"/>
<circle cx="1620" cy="286" r="5.17" fill="#4c72b0" stroke="#385c9a" opacity="0.85"/>
<circle cx="1621.2" cy="310.4" r="5.17" fill="#4c72b0" stroke="#385c9a" opacity="0.96"/>
<circle cx="1644.2" cy="314.5" r="5.17" fill="#4c72b0" stroke="#385c9a" opacity="0.98"/>
<circle cx="1626.9" cy="327.5" r="5.17" fill="#4c72b0" stroke="#385c9a" opacity="0.95"/>
<circle cx="1607.6" cy="303.2" r="5.17" fill="#4c72b0" stroke="#385c9a" opacity="0.91"/>
<circle cx="1651" cy="296.5" r="5.17" fill="#4c72b0" stroke="#385c9a" opacity="0.95"/>
<circle cx="1639" cy="292" r="5.17" fill="#4c72b0" stroke="#385c9a" opacity="0.97"/>
<circle cx="1631.7" cy="314" r="5.17" fill="#4c72b0" stroke="#385c9a" opacity="0.84"/>
<circle cx="1634" cy="322.6" r="5.17" fill="#4c72b0" stroke="#385c9a" opacity="0.88"/>
<circle cx="1629.6" cy="340.6" r="5.17" fill="#4c72b0" stroke="#385c9a" opacity="0.91"/>
<circle cx="1604.4" cy="325" r="5.17" fill="#4c72b0" stroke="#385c9a" opacity="0.95"/>
<circle cx="1619.2" cy="304.9" r="5.17" fill="#4c72b0" stroke="#385c9a" opacity="0.97"/>
<circle cx="1650.1" cy="297.8" r="5.17" fill="#4c72b0" stroke="#385c9a" opacity="0.85"/>
<circle cx="1651.2" cy="326.3" r="5.17" fill="#4c72b0" stroke="#385c9a" opacity="0.83"/>
<circle cx="1625.1" cy="328.7" r="5.17" fill="#4c72b0" stroke="#385c9a" opacity="0.91"/>
<circle cx="1632.3" cy="324.3" r="5.17" fill="#4c72b0" stroke="#385c9a" opacity="0.93"/>
<circle cx="1626.9" cy="310" r="5.17" fill="#4c72b0" stroke="#385c9a" opacity="1.0"/>
<circle cx="1630.5" cy="334" r="5.17" fill="#4c72b0" stroke="#385c9a" opacity="0.89"/>
<circle cx="1627.9" cy="299.8" r="5.17" fill="#4c72b0" stroke="#385c9a" opacity="0.98"/>
<circle cx="1596.9" cy="240.9" r="5.17" fill="#4c72b0" stroke="#385c9a" opacity="0.5"/>
<circle cx="1616.4" cy="248.2" r="5.17" fill="#4c72b0" stroke="#385c9a" opacity="0.6"/>
<circle cx="1692.3" cy="240.4" r="5.17" fill="#4c72b0" stroke="#385c9a" opacity="0.5"/>
<circle cx="1662.7" cy="262.6" r="5.17" fill="#4c72b0" stroke="#385c9a" opacity="0.7"/>
<circle cx="1618.8" cy="266.5" r="5.17" fill="#4c72b0" stroke="#385c9a" opacity="0.6"/>
<circle cx="1545.8" cy="305.4" r="5.17" fill="#4c72b0" stroke="#385c9a" opacity="0.9"/>
<circle cx="1540.9" cy="329.8" r="5.17" fill="#4c72b0" stroke="#385c9a" opacity="0.6"/>
<circle cx="1535.6" cy="340.6" r="5.17" fill="#4c72b0" stroke="#385c9a" opacity="0.9"/>
<circle cx="1660.7" cy="316.4" r="5.17" fill="#4c72b0" stroke="#385c9a" opacity="0.9"/>
<circle cx="1665" cy="350.8" r="5.17" fill="#4c72b0" stroke="#385c9a" opacity="0.7"/>
<circle cx="1607.9" cy="366.3" r="5.17" fill="#4c72b0" stroke="#385c9a" opacity="0.8"/>
<circle cx="1764.6" cy="368.7" r="5.17" fill="#4c72b0" stroke="#385c9a" opacity="0.9"/>
<circle cx="1608.9" cy="400.3" r="5.17" fill="#4c72b0" stroke="#385c9a" opacity="0.9"/>
<circle cx="1596.7" cy="241.2" r="5.17" fill="#4c72b0" stroke="#385c9a" opacity="0.4"/>
<circle cx="1602.3" cy="309.8" r="5.17" fill="#55a868" stroke="#3f9153" opacity="0.7"/>
<circle cx="1588.7" cy="330" r="5.17" fill="#55a868" stroke="#3f9153" opacity="0.78"/>
<circle cx="1591.8" cy="298.2" r="5.17" fill="#55a868" stroke="#3f9153" opacity="0.7"/>
<circle cx="1611.4" cy="330.5" r="5.17" fill="#55a868" stroke="#3f9153" opacity="0.88"/>
<circle cx="1602.3" cy="329.7" r="5.17" fill="#55a868" stroke="#3f9153" opacity="0.78"/>
<circle cx="1579.9" cy="329.3" r="5.17" fill="#55a868" stroke="#3f9153" opacity="0.74"/>
<circle cx="1581.5" cy="346.7" r="5.17" fill="#55a868" stroke="#3f9153" opacity="0.87"/>
<circle cx="1607.2" cy="321" r="5.17" fill="#55a868" stroke="#3f9153" opacity="0.72"/>
<circle cx="1564.7" cy="307.5" r="5.17" fill="#55a868" stroke="#3f9153" opacity="0.75"/>
<circle cx="1614.7" cy="326.1" r="5.17" fill="#55a868" stroke="#3f9153" opacity="0.98"/>
<circle cx="1588.8" cy="339.5" r="5.17" fill="#55a868" stroke="#3f9153" opacity="0.95"/>
<circle cx="1587.1" cy="306" r="5.17" fill="#55a868" stroke="#3f9153" opacity="0.91"/>
<circle cx="1565.7" cy="323.1" r="5.17" fill="#55a868" stroke="#3f9153" opacity="0.94"/>
<circle cx="1576.3" cy="315.7" r="5.17" fill="#55a868" stroke="#3f9153" opacity="0.71"/>
<circle cx="1568.8" cy="316.8" r="5.17" fill="#55a868" stroke="#3f9153" opacity="0.77"/>
<circle cx="1596.7" cy="316.7" r="5.17" fill="#55a868" stroke="#3f9153" opacity="0.96"/>
<circle cx="1608.1" cy="314.7" r="5.17" fill="#55a868" stroke="#3f9153" opacity="0.72"/>
<circle cx="1614.9" cy="332.9" r="5.17" fill="#55a868" stroke="#3f9153" opacity="0.79"/>
<circle cx="1566.8" cy="311.1" r="5.17" fill="#55a868" stroke="#3f9153" opacity="0.99"/>
<circle cx="1605" cy="329.6" r="5.17" fill="#55a868" stroke="#3f9153" opacity="0.98"/>
<circle cx="1558.2" cy="329.1" r="5.17" fill="#55a868" stroke="#3f9153" opacity="0.84"/>
<circle cx="1606.8" cy="305.3" r="5.17" fill="#55a868" stroke="#3f9153" opacity="0.71"/>
<circle cx="1594.5" cy="232.9" r="5.17" fill="#55a868" stroke="#3f9153" opacity="0.5"/>
<circle cx="1627.3" cy="232.7" r="5.17" fill="#55a868" stroke="#3f9153" opacity="0.5"/>
<circle cx="1609.2" cy="248.5" r="5.17" fill="#55a868" stroke="#3f9153" opacity="0.8"/>
<circle cx="1558.5" cy="262" r="5.17" fill="#55a868" stroke="#3f9153" opacity="0.6"/>
<circle cx="1676.7" cy="247" r="5.17" fill="#55a868" stroke="#3f9153" opacity="0.8"/>
<circle cx="1579.9" cy="271.4" r="5.17" fill="#55a868" stroke="#3f9153" opacity="0.6"/>
<circle cx="1570" cy="278.7" r="5.17" fill="#55a868" stroke="#3f9153" opacity="0.5"/>
<circle cx="1640.7" cy="275" r="5.17" fill="#55a868" stroke="#3f9153" opacity="0.7"/>
<circle cx="1646.8" cy="282.3" r="5.17" fill="#55a868" stroke="#3f9153" opacity="0.6"/>
<circle cx="1624.9" cy="286" r="5.17" fill="#55a868" stroke="#3f9153" opacity="0.6"/>
<circle cx="1595.7" cy="282.3" r="5.17" fill="#55a868" stroke="#3f9153" opacity="0.7"/>
<circle cx="1590.8" cy="298.1" r="5.17" fill="#55a868" stroke="#3f9153" opacity="0.9"/>
<circle cx="1601.8" cy="295.7" r="5.17" fill="#55a868" stroke="#3f9153" opacity="0.9"/>
<circle cx="1611.5" cy="298.1" r="5.17" fill="#55a868" stroke="#3f9153" opacity="0.9"/>
<circle cx="1622.5" cy="300.6" r="5.17" fill="#55a868" stroke="#3f9153" opacity="0.9"/>
<circle cx="1576.2" cy="303" r="5.17" fill="#55a868" stroke="#3f9153" opacity="0.9"/>
<circle cx="1566.5" cy="310.3" r="5.17" fill="#55a868" stroke="#3f9153" opacity="0.9"/>
<circle cx="1554.3" cy="317.6" r="5.17" fill="#55a868" stroke="#3f9153" opacity="0.9"/>
<circle cx="1545.8" cy="321.2" r="5.17" fill="#55a868" stroke="#3f9153" opacity="0.7"/>
<circle cx="1584.7" cy="312.7" r="5.17" fill="#55a868" stroke="#3f9153" opacity="0.9"/>
<circle cx="1600.6" cy="312.7" r="5.17" fill="#55a868" stroke="#3f9153" opacity="0.9"/>
<circle cx="1613.9" cy="313.9" r="5.17" fill="#55a868" stroke="#3f9153" opacity="0.9"/>
<circle cx="1622.5" cy="315.2" r="5.17" fill="#55a868" stroke="#3f9153" opacity="0.9"/>
<circle cx="1566.5" cy="327.3" r="5.17" fill="#55a868" stroke="#3f9153" opacity="0.9"/>
<circle cx="1578.7" cy="322.5" r="5.17" fill="#55a868" stroke="#3f9153" opacity="0.9"/>
<circle cx="1592" cy="329.8" r="5.17" fill="#55a868" stroke="#3f9153" opacity="0.9"/>
<circle cx="1603" cy="327.3" r="5.17" fill="#55a868" stroke="#3f9153" opacity="0.9"/>
<circle cx="1571.4" cy="337.1" r="5.17" fill="#55a868" stroke="#3f9153" opacity="0.9"/>
<circle cx="1586" cy="341.9" r="5.17" fill="#55a868" stroke="#3f9153" opacity="0.9"/>
<circle cx="1599.3" cy="337.1" r="5.17" fill="#55a868" stroke="#3f9153" opacity="0.9"/>
<circle cx="1607.9" cy="337.1" r="5.17" fill="#55a868" stroke="#3f9153" opacity="0.9"/>
<circle cx="1603" cy="344.4" r="5.17" fill="#55a868" stroke="#3f9153" opacity="0.9"/>
<circle cx="1610.3" cy="349.2" r="5.17" fill="#55a868" stroke="#3f9153" opacity="0.9"/>
<circle cx="1579.9" cy="349.2" r="5.17" fill="#55a868" stroke="#3f9153" opacity="0.8"/>
<circle cx="1626.1" cy="327.3" r="5.17" fill="#55a868" stroke="#3f9153" opacity="0.9"/>
<circle cx="1634.6" cy="320" r="5.17" fill="#55a868" stroke="#3f9153" opacity="0.9"/>
<circle cx="1641.9" cy="305.4" r="5.17" fill="#55a868" stroke="#3f9153" opacity="0.9"/>
<circle cx="1644.4" cy="334.6" r="5.17" fill="#55a868" stroke="#3f9153" opacity="0.9"/>
<circle cx="1637.1" cy="345.6" r="5.17" fill="#55a868" stroke="#3f9153" opacity="0.8"/>
<circle cx="1660.2" cy="339.5" r="5.17" fill="#55a868" stroke="#3f9153" opacity="0.7"/>
<circle cx="1672.3" cy="315.2" r="5.17" fill="#55a868" stroke="#3f9153" opacity="0.8"/>
<circle cx="1581.1" cy="365.8" r="5.17" fill="#55a868" stroke="#3f9153" opacity="0.8"/>
<circle cx="1609.8" cy="368.7" r="5.17" fill="#55a868" stroke="#3f9153" opacity="0.9"/>
<circle cx="1609.8" cy="373.5" r="5.17" fill="#55a868" stroke="#3f9153" opacity="0.8"/>
<circle cx="1681.8" cy="285" r="5.17" fill="#55a868" stroke="#3f9153" opacity="0.7"/>
<circle cx="1689.1" cy="285" r="5.17" fill="#55a868" stroke="#3f9153" opacity="0.7"/>
<circle cx="1696.9" cy="286" r="5.17" fill="#55a868" stroke="#3f9153" opacity="0.6"/>
<circle cx="1691.6" cy="306.2" r="5.17" fill="#55a868" stroke="#3f9153" opacity="0.8"/>
<circle cx="1702.8" cy="308.9" r="5.17" fill="#55a868" stroke="#3f9153" opacity="0.7"/>
<circle cx="1689.4" cy="313.9" r="5.17" fill="#55a868" stroke="#3f9153" opacity="0.6"/>
<circle cx="1691.7" cy="342.5" r="5.17" fill="#55a868" stroke="#3f9153" opacity="0.65"/>
<circle cx="1681.9" cy="353" r="5.17" fill="#55a868" stroke="#3f9153" opacity="0.7"/>
<circle cx="1555.3" cy="168.2" r="5.17" fill="#55a868" stroke="#3f9153" opacity="0.5"/>
<circle cx="1722.2" cy="166.8" r="5.17" fill="#55a868" stroke="#3f9153" opacity="0.9"/>
<circle cx="1702.8" cy="178" r="5.17" fill="#55a868" stroke="#3f9153" opacity="0.7"/>
<circle cx="1777.2" cy="200.8" r="5.17" fill="#55a868" stroke="#3f9153" opacity="0.5"/>
<circle cx="1589.9" cy="219.3" r="5.17" fill="#55a868" stroke="#3f9153" opacity="0.5"/>
<circle cx="1751.4" cy="230" r="5.17" fill="#55a868" stroke="#3f9153" opacity="1.0"/>
<circle cx="1819.6" cy="231" r="5.17" fill="#55a868" stroke="#3f9153" opacity="0.9"/>
<circle cx="1755.3" cy="258.2" r="5.17" fill="#55a868" stroke="#3f9153" opacity="0.8"/>
<circle cx="1821" cy="269" r="5.17" fill="#55a868" stroke="#3f9153" opacity="0.7"/>
<circle cx="1785.5" cy="300.6" r="5.17" fill="#55a868" stroke="#3f9153" opacity="0.5"/>
<circle cx="1760.2" cy="307.9" r="5.17" fill="#55a868" stroke="#3f9153" opacity="0.8"/>
<circle cx="1708.6" cy="325.9" r="5.17" fill="#55a868" stroke="#3f9153" opacity="0.8"/>
<circle cx="1725.6" cy="344.4" r="5.17" fill="#55a868" stroke="#3f9153" opacity="0.7"/>
<circle cx="1759.7" cy="366.3" r="5.17" fill="#55a868" stroke="#3f9153" opacity="0.7"/>
<circle cx="1601.6" cy="404.2" r="5.17" fill="#55a868" stroke="#3f9153" opacity="0.9"/>
<circle cx="1589.4" cy="416.4" r="5.17" fill="#55a868" stroke="#3f9153" opacity="0.9"/>
<circle cx="1642" cy="434.4" r="5.17" fill="#55a868" stroke="#3f9153" opacity="0.9"/>
<circle cx="1687.1" cy="121" r="5.17" fill="#55a868" stroke="#3f9153" opacity="0.6"/>
<circle cx="1625.6" cy="304.8" r="5.17" fill="#4c72b0" stroke="#385c9a" opacity="0.97"/>
<circle cx="1637.1" cy="305.6" r="5.17" fill="#4c72b0" stroke="#385c9a" opacity="0.89"/>
<circle cx="1646.6" cy="327.9" r="5.17" fill="#4c72b0" stroke="#385c9a" opacity="0.97"/>
<circle cx="1626.5" cy="304" r="5.17" fill="#4c72b0" stroke="#385c9a" opacity="1.0"/>
<circle cx="1625.2" cy="322.9" r="5.17" fill="#4c72b0" stroke="#385c9a" opacity="0.87"/>
<circle cx="1631.8" cy="309" r="5.17" fill="#4c72b0" stroke="#385c9a" opacity="0.85"/>
<circle cx="1639.1" cy="318.7" r="5.17" fill="#4c72b0" stroke="#385c9a" opacity="0.93"/>
<circle cx="1645.4" cy="315.1" r="5.17" fill="#4c72b0" stroke="#385c9a" opacity="0.88"/>
<circle cx="1646.8" cy="311.3" r="5.17" fill="#4c72b0" stroke="#385c9a" opacity="1.0"/>
<circle cx="1644.5" cy="318.4" r="5.17" fill="#4c72b0" stroke="#385c9a" opacity="0.89"/>
<circle cx="1618.9" cy="325.8" r="5.17" fill="#4c72b0" stroke="#385c9a" opacity="0.89"/>
<circle cx="1622.7" cy="316.4" r="5.17" fill="#4c72b0" stroke="#385c9a" opacity="0.9"/>
<circle cx="1645.9" cy="319.7" r="5.17" fill="#4c72b0" stroke="#385c9a" opacity="0.9"/>
<circle cx="1641.7" cy="308.2" r="5.17" fill="#4c72b0" stroke="#385c9a" opacity="0.94"/>
<circle cx="1642.3" cy="314.9" r="5.17" fill="#4c72b0" stroke="#385c9a" opacity="0.95"/>
<circle cx="1621.1" cy="327.3" r="5.17" fill="#4c72b0" stroke="#385c9a" opacity="0.87"/>
<circle cx="1639" cy="308.5" r="5.17" fill="#4c72b0" stroke="#385c9a" opacity="0.93"/>
<circle cx="1651.8" cy="312.3" r="5.17" fill="#4c72b0" stroke="#385c9a" opacity="0.99"/>
<circle cx="1621.7" cy="312.9" r="5.17" fill="#4c72b0" stroke="#385c9a" opacity="0.95"/>
<circle cx="1639.5" cy="297.3" r="5.17" fill="#4c72b0" stroke="#385c9a" opacity="0.87"/>
<circle cx="1654.1" cy="310.9" r="5.17" fill="#4c72b0" stroke="#385c9a" opacity="0.86"/>
<circle cx="1626.9" cy="302" r="5.17" fill="#4c72b0" stroke="#385c9a" opacity="0.99"/>
<circle cx="1638.8" cy="322" r="5.17" fill="#4c72b0" stroke="#385c9a" opacity="0.94"/>
<circle cx="1635.5" cy="306.9" r="5.17" fill="#4c72b0" stroke="#385c9a" opacity="0.98"/>
<circle cx="1620.8" cy="304.2" r="5.17" fill="#4c72b0" stroke="#385c9a" opacity="0.91"/>
<circle cx="1633.4" cy="309.6" r="5.17" fill="#4c72b0" stroke="#385c9a" opacity="0.99"/>
<circle cx="1637.1" cy="314.4" r="5.17" fill="#4c72b0" stroke="#385c9a" opacity="0.94"/>
<circle cx="1625" cy="323.2" r="5.17" fill="#4c72b0" stroke="#385c9a" opacity="0.98"/>
<circle cx="1642.9" cy="310.6" r="5.17" fill="#4c72b0" stroke="#385c9a" opacity="0.99"/>
<circle cx="1646.8" cy="301.8" r="5.17" fill="#4c72b0" stroke="#385c9a" opacity="0.95"/>
<circle cx="1626" cy="321.8" r="5.17" fill="#4c72b0" stroke="#385c9a" opacity="0.93"/>
<circle cx="1635.3" cy="322.2" r="5.17" fill="#4c72b0" stroke="#385c9a" opacity="0.95"/>
<circle cx="1644.6" cy="305.6" r="5.17" fill="#4c72b0" stroke="#385c9a" opacity="0.94"/>
<circle cx="1629.5" cy="310" r="5.17" fill="#4c72b0" stroke="#385c9a" opacity="0.97"/>
<circle cx="1642.2" cy="313.9" r="5.17" fill="#4c72b0" stroke="#385c9a" opacity="0.99"/>
<circle cx="1627" cy="319.9" r="5.17" fill="#4c72b0" stroke="#385c9a" opacity="0.9"/>
<circle cx="1640.5" cy="309.3" r="5.17" fill="#4c72b0" stroke="#385c9a" opacity="0.94"/>
<circle cx="1640.4" cy="315.7" r="5.17" fill="#4c72b0" stroke="#385c9a" opacity="0.99"/>
<circle cx="1613.9" cy="313.9" r="5.17" fill="#55a868" stroke="#3f9153" opacity="0.9"/>
<circle cx="1622.5" cy="300.6" r="5.17" fill="#55a868" stroke="#3f9153" opacity="0.9"/>
<circle cx="1626.1" cy="327.3" r="5.17" fill="#55a868" stroke="#3f9153" opacity="0.9"/>
<circle cx="1634.6" cy="320" r="5.17" fill="#55a868" stroke="#3f9153" opacity="0.9"/>
<circle cx="1641.9" cy="305.4" r="5.17" fill="#55a868" stroke="#3f9153" opacity="0.9"/>
<circle cx="1644.4" cy="334.6" r="5.17" fill="#55a868" stroke="#3f9153" opacity="0.9"/>
<circle cx="1611.5" cy="298.1" r="5.17" fill="#55a868" stroke="#3f9153" opacity="0.9"/>
<circle cx="1607.9" cy="337.1" r="5.17" fill="#55a868" stroke="#3f9153" opacity="0.9"/>
</g>
<g fill="none" stroke="#55a868" stroke-opacity="0.6" stroke-width="1.45" stroke-linejoin="round">
<path d="M1770.6 200 1772 198.9 1772.7 198.4 1772.9 198.2 1772.4 198.6 1771.3 199.4 1769.6 200.8 1767.3 202.5 1764.4 204.8 1761 207.4 1756.9 210.6 1752.3 214.1 1747.2 218.1 1741.6 222.4 1735.5 227.1 1729 232.2 1722 237.6 1714.6 243.3 1706.9 249.3 1698.8 255.5 1690.4 262 1681.7 268.6 1672.9 275.5 1663.8 282.5 1654.6 289.6 1645.3 296.8 1635.9 304.1 1626.5 311.3 1617.1 318.6 1607.7 325.8 1598.5 333 1589.3 340 1580.4 347 1571.6 353.7 1563.1 360.3 1554.9 366.7 1547 372.8 1539.4 378.6 1532.3 384.1 1525.5 389.4 1519.2 394.2 1513.3 398.8 1508 402.9 1503.1 406.6 1498.9 410 1495.1 412.8 1492 415.3 1489.4 417.3 1487.4 418.8"/>
<path d="M1770.6 200 1768.6 196.5 1766 193.4 1762.8 190.8 1759.1 188.8 1754.8 187.2 1749.9 186.2 1744.6 185.7 1738.7 185.8 1732.4 186.3 1725.6 187.4 1718.4 189.1 1710.9 191.2 1702.9 193.8 1694.7 197 1686.2 200.6 1677.4 204.7 1668.5 209.2 1659.3 214.2 1650.1 219.5 1640.7 225.3 1631.3 231.4 1621.9 237.8 1612.5 244.6 1603.2 251.6 1594 258.9 1584.9 266.4 1576 274.1 1567.4 281.9 1559 289.9 1550.9 297.9 1543.2 306 1535.8 314.1 1528.9 322.1 1522.3 330.2 1516.2 338.1 1510.6 345.9 1505.5 353.6 1500.9 361 1496.9 368.3 1493.5 375.3 1490.6 382 1488.3 388.4 1486.6 394.4 1485.5 400.1 1485.1 405.4 1485.2 410.3 1486 414.8 1487.4 418.8"/>
<path d="M1770.6 200 1765.7 194.9 1760.2 190.3 1754.1 186.3 1747.5 182.7 1740.3 179.7 1732.7 177.3 1724.7 175.4 1716.2 174.1 1707.4 173.3 1698.3 173.2 1688.8 173.6 1679.1 174.6 1669.2 176.2 1659.1 178.4 1648.8 181.1 1638.5 184.4 1628.2 188.2 1617.8 192.5 1607.5 197.3 1597.3 202.7 1587.2 208.4 1577.3 214.6 1567.7 221.2 1558.2 228.2 1549.1 235.5 1540.4 243.2 1532 251.1 1524 259.3 1516.5 267.7 1509.4 276.3 1502.9 285 1496.9 293.8 1491.5 302.7 1486.7 311.6 1482.4 320.5 1478.8 329.3 1475.9 338.1 1473.6 346.8 1472 355.3 1471 363.5 1470.7 371.6 1471.1 379.4 1472.2 386.9 1473.9 394.1 1476.3 400.9 1479.4 407.3 1483.1 413.3 1487.4 418.8"/>
<path d="M1770.6 200 1763.9 194.7 1756.6 190 1748.8 185.7 1740.5 182 1731.6 178.8 1722.4 176.1 1712.7 174.1 1702.7 172.6 1692.4 171.7 1681.8 171.4 1671 171.7 1659.9 172.6 1648.8 174 1637.6 176.1 1626.3 178.7 1615.1 181.8 1603.9 185.6 1592.8 189.8 1581.9 194.6 1571.1 199.8 1560.7 205.6 1550.5 211.7 1540.6 218.3 1531.2 225.3 1522.1 232.6 1513.5 240.3 1505.4 248.2 1497.8 256.5 1490.8 264.9 1484.4 273.5 1478.6 282.3 1473.5 291.2 1469 300.2 1465.2 309.3 1462.1 318.3 1459.7 327.3 1458 336.2 1457.1 345 1456.9 353.6 1457.5 362.1 1458.7 370.3 1460.7 378.3 1463.5 386 1466.9 393.3 1471 400.3 1475.8 406.9 1481.3 413.1 1487.4 418.8"/>
<path d="M1770.6 200 1763.7 195.9 1756.3 192.3 1748.3 189.3 1739.8 186.7 1730.9 184.6 1721.5 183.1 1711.7 182.2 1701.5 181.7 1691.1 181.9 1680.3 182.5 1669.4 183.7 1658.3 185.5 1647 187.8 1635.7 190.6 1624.3 193.9 1613 197.7 1601.7 202 1590.6 206.7 1579.6 211.9 1568.8 217.5 1558.3 223.5 1548.1 229.9 1538.2 236.6 1528.8 243.6 1519.7 250.9 1511.1 258.4 1503.1 266.2 1495.5 274.1 1488.6 282.2 1482.2 290.4 1476.5 298.7 1471.4 307.1 1467 315.4 1463.3 323.8 1460.3 332 1458 340.2 1456.5 348.2 1455.6 356.1 1455.6 363.8 1456.3 371.2 1457.7 378.4 1459.8 385.3 1462.7 391.8 1466.3 398 1470.6 403.9 1475.5 409.3 1481.1 414.3 1487.4 418.8"/>
<path d="M1770.6 200 1765.2 198.2 1759.3 196.9 1752.8 196.1 1745.8 195.7 1738.2 195.9 1730.2 196.5 1721.8 197.6 1713 199.2 1703.8 201.3 1694.3 203.8 1684.5 206.8 1674.4 210.2 1664.2 214 1653.8 218.3 1643.4 222.9 1632.8 227.9 1622.3 233.3 1611.7 239 1601.3 245 1591 251.2 1580.8 257.7 1570.8 264.5 1561.1 271.4 1551.7 278.5 1542.6 285.7 1533.8 293 1525.5 300.4 1517.7 307.8 1510.3 315.3 1503.4 322.7 1497 330.1 1491.2 337.3 1486 344.5 1481.4 351.5 1477.5 358.3 1474.2 364.9 1471.6 371.3 1469.6 377.4 1468.3 383.2 1467.7 388.7 1467.8 393.8 1468.6 398.6 1470.1 403.1 1472.2 407.1 1475 410.7 1478.5 413.8 1482.6 416.5 1487.4 418.8"/>
<path d="M1770.6 200 1768 201 1764.8 202.5 1761.1 204.4 1756.7 206.8 1751.9 209.6 1746.5 212.8 1740.6 216.5 1734.2 220.5 1727.3 225 1720.1 229.8 1712.4 234.9 1704.4 240.4 1696.1 246.1 1687.5 252.1 1678.6 258.4 1669.6 264.9 1660.3 271.6 1650.9 278.4 1641.4 285.4 1631.9 292.5 1622.4 299.6 1612.9 306.8 1603.4 314 1594.1 321.2 1584.9 328.3 1575.9 335.4 1567.1 342.3 1558.6 349.1 1550.4 355.7 1542.5 362.2 1535.1 368.4 1528 374.3 1521.3 380 1515.1 385.3 1509.4 390.4 1504.2 395.1 1499.5 399.4 1495.4 403.4 1491.9 406.9 1488.9 410 1486.6 412.7 1484.8 415 1483.7 416.8 1483.2 418.1 1483.3 419 1484.1 419.4 1485.4 419.3 1487.4 418.8"/>
<path d="M1770.6 200 1771.4 203.6 1771.5 207.7 1771.1 212.2 1770 217.1 1768.3 222.4 1766.1 228 1763.2 234.1 1759.8 240.4 1755.8 247.1 1751.3 254 1746.2 261.1 1740.6 268.5 1734.6 276 1728.1 283.7 1721.2 291.5 1713.9 299.3 1706.2 307.2 1698.2 315.1 1689.9 323 1681.4 330.8 1672.6 338.6 1663.6 346.2 1654.5 353.7 1645.3 360.9 1636 368 1626.7 374.8 1617.4 381.3 1608.1 387.5 1598.9 393.3 1589.9 398.9 1581 404 1572.3 408.7 1563.9 413 1555.7 416.9 1547.9 420.3 1540.4 423.2 1533.3 425.6 1526.6 427.6 1520.3 429 1514.5 429.9 1509.2 430.3 1504.4 430.2 1500.2 429.6 1496.4 428.4 1493.3 426.7 1490.7 424.6 1488.8 421.9 1487.4 418.8"/>
<path d="M1770.6 200 1774.4 205.4 1777.7 211.1 1780.2 217.4 1782.2 224 1783.5 231 1784.1 238.3 1784 245.9 1783.3 253.8 1782 261.9 1779.9 270.2 1777.3 278.7 1774 287.4 1770 296.1 1765.5 304.9 1760.4 313.7 1754.7 322.5 1748.5 331.2 1741.8 339.8 1734.6 348.3 1726.9 356.7 1718.8 364.8 1710.3 372.7 1701.5 380.3 1692.4 387.7 1683 394.6 1673.4 401.3 1663.6 407.5 1653.6 413.3 1643.5 418.7 1633.4 423.6 1623.2 428 1613.1 431.9 1603 435.2 1593.1 438.1 1583.3 440.4 1573.7 442.1 1564.3 443.2 1555.3 443.8 1546.5 443.8 1538.1 443.3 1530 442.1 1522.4 440.4 1515.3 438.1 1508.6 435.3 1502.5 432 1496.9 428.1 1491.8 423.7 1487.4 418.8"/>
<path d="M1770.6 200 1776.5 205.8 1781.7 212.1 1786.3 218.7 1790.2 225.8 1793.5 233.2 1796 240.9 1797.8 249 1798.9 257.3 1799.2 265.8 1798.9 274.5 1797.8 283.4 1796 292.3 1793.4 301.4 1790.2 310.4 1786.3 319.5 1781.7 328.5 1776.4 337.5 1770.5 346.3 1764 355 1756.9 363.4 1749.3 371.7 1741.2 379.6 1732.6 387.3 1723.5 394.6 1714.1 401.6 1704.2 408.2 1694.1 414.3 1683.6 420.1 1673 425.3 1662.1 430 1651.1 434.2 1640.1 437.9 1628.9 441.1 1617.8 443.6 1606.7 445.6 1595.7 447 1584.9 447.9 1574.2 448.1 1563.8 447.7 1553.6 446.8 1543.8 445.2 1534.3 443.1 1525.3 440.4 1516.7 437.1 1508.6 433.3 1500.9 429 1493.9 424.1 1487.4 418.8"/>
<path d="M1770.6 200 1777 204.9 1782.7 210.2 1787.7 215.9 1792.1 222 1795.8 228.5 1798.8 235.4 1801 242.6 1802.5 250 1803.3 257.7 1803.3 265.7 1802.6 273.8 1801.1 282.1 1798.9 290.4 1795.9 298.9 1792.3 307.4 1787.9 316 1782.9 324.4 1777.2 332.9 1770.9 341.2 1764 349.4 1756.4 357.4 1748.4 365.2 1739.8 372.8 1730.8 380.1 1721.3 387.1 1711.4 393.8 1701.2 400.1 1690.7 406 1679.9 411.5 1668.8 416.6 1657.7 421.2 1646.3 425.4 1635 429 1623.5 432.1 1612.2 434.7 1600.8 436.8 1589.6 438.3 1578.6 439.3 1567.8 439.7 1557.3 439.5 1547 438.8 1537.1 437.5 1527.6 435.7 1518.6 433.4 1510 430.5 1501.9 427.1 1494.4 423.2 1487.4 418.8"/>
<path d="M1770.6 200 1775.7 202.7 1780.3 205.9 1784.1 209.6 1787.4 213.7 1789.9 218.1 1791.7 223 1792.9 228.3 1793.3 233.8 1793.1 239.8 1792.1 246 1790.4 252.4 1788.1 259.2 1785 266.1 1781.3 273.2 1777 280.5 1772 287.9 1766.4 295.4 1760.2 303 1753.5 310.6 1746.2 318.1 1738.4 325.7 1730.1 333.2 1721.4 340.5 1712.4 347.8 1702.9 354.8 1693.2 361.7 1683.1 368.4 1672.9 374.8 1662.4 380.9 1651.8 386.7 1641.1 392.2 1630.4 397.3 1619.6 402.1 1608.9 406.4 1598.3 410.4 1587.8 413.9 1577.5 417 1567.4 419.6 1557.6 421.7 1548.1 423.3 1538.9 424.5 1530.1 425.2 1521.7 425.3 1513.8 425 1506.4 424.2 1499.5 422.9 1493.2 421.1 1487.4 418.8"/>
<path d="M1770.6 200 1773.2 200 1775.1 200.5 1776.4 201.4 1777.1 202.8 1777.2 204.6 1776.6 206.9 1775.4 209.7 1773.6 212.8 1771.1 216.4 1768.1 220.4 1764.4 224.7 1760.2 229.4 1755.4 234.5 1750 239.9 1744.2 245.6 1737.8 251.5 1731 257.7 1723.8 264.1 1716.1 270.8 1708.1 277.5 1699.7 284.5 1691 291.5 1682.1 298.6 1672.9 305.7 1663.6 312.9 1654.1 320 1644.4 327.1 1634.8 334.2 1625.1 341.1 1615.4 347.9 1605.8 354.5 1596.2 360.9 1586.8 367.1 1577.6 373.1 1568.7 378.8 1559.9 384.2 1551.5 389.2 1543.4 394 1535.7 398.3 1528.3 402.3 1521.4 405.9 1515 409.1 1509 411.8 1503.6 414.1 1498.7 416 1494.3 417.4 1490.6 418.3 1487.4 418.8"/>
<path d="M1770.6 200 1772 198.9 1772.7 198.4 1772.9 198.2 1772.4 198.6 1771.3 199.4 1769.6 200.8 1767.3 202.5 1764.4 204.8 1761 207.4 1756.9 210.6 1752.3 214.1 1747.2 218.1 1741.6 222.4 1735.5 227.1 1729 232.2 1722 237.6 1714.6 243.3 1706.9 249.3 1698.8 255.5 1690.4 262 1681.7 268.6 1672.9 275.5 1663.8 282.5 1654.6 289.6 1645.3 296.8 1635.9 304.1 1626.5 311.3 1617.1 318.6 1607.7 325.8 1598.5 333 1589.3 340 1580.4 347 1571.6 353.7 1563.1 360.3 1554.9 366.7 1547 372.8 1539.4 378.6 1532.3 384.1 1525.5 389.4 1519.2 394.2 1513.3 398.8 1508 402.9 1503.1 406.6 1498.9 410 1495.1 412.8 1492 415.3 1489.4 417.3 1487.4 418.8"/>
<path d="M1772.5 198.5 1766.3 193.7 1760.2 189.4 1754.4 185.9 1749.2 183.5 1745.1 182.2 1742.1 182.1 1740.6 183.3 1740.5 185.7 1741.9 189.1 1744.7 193.4 1748.8 198.2 1753.9 203.3 1759.6 208.5 1765.8 213.3 1771.9 217.6 1777.8 221.1 1782.9 223.5 1787.1 224.8 1790 224.9 1791.6 223.7 1791.6 221.3 1790.2 217.9 1787.4 213.7 1783.3 208.8 1778.3 203.7Z"/>
<path d="M1765.2 204.2 1758 198.4 1750.8 192.9 1743.5 187.9 1736.5 183.4 1729.8 179.6 1723.6 176.5 1718.1 174.2 1713.2 172.8 1709.2 172.2 1706.2 172.5 1704.1 173.7 1703.1 175.7 1703.1 178.6 1704.2 182.2 1706.3 186.5 1709.4 191.3 1713.4 196.7 1718.3 202.4 1723.9 208.3 1730.1 214.4 1736.8 220.4 1743.8 226.4 1751.1 232 1758.3 237.3 1765.5 242 1772.3 246.2 1778.8 249.6 1784.7 252.3 1789.9 254.2 1794.3 255.2 1797.9 255.4 1800.5 254.6 1802 253 1802.5 250.5 1802 247.3 1800.4 243.3 1797.8 238.8 1794.2 233.7 1789.7 228.1 1784.5 222.3 1778.6 216.3 1772.1 210.2Z"/>
<path d="M1749.2 216.6 1741.5 210.3 1733.8 204.3 1726 198.6 1718.3 193.3 1710.7 188.5 1703.4 184.2 1696.4 180.4 1689.9 177.2 1683.9 174.6 1678.4 172.8 1673.6 171.6 1669.5 171.2 1666.1 171.4 1663.6 172.4 1661.8 174.1 1660.9 176.4 1660.9 179.5 1661.7 183.1 1663.4 187.3 1665.9 192 1669.2 197.2 1673.2 202.8 1678 208.7 1683.4 214.9 1689.4 221.3 1695.9 227.7 1702.8 234.2 1710.1 240.7 1717.6 247 1725.3 253.2 1733.1 259 1740.9 264.5 1748.5 269.6 1756 274.2 1763.1 278.3 1769.9 281.8 1776.2 284.6 1781.9 286.8 1787.1 288.3 1791.5 289.1 1795.3 289.2 1798.2 288.6 1800.4 287.3 1801.7 285.3 1802.2 282.6 1801.8 279.3 1800.5 275.3 1798.4 270.9 1795.5 265.9 1791.9 260.5 1787.5 254.7 1782.4 248.7 1776.7 242.4 1770.4 236 1763.7 229.5 1756.6 223Z"/>
<path d="M1725.4 234.9 1717.7 228.5 1709.8 222.4 1701.9 216.4 1694 210.8 1686.1 205.5 1678.5 200.6 1671 196.1 1663.8 192.1 1656.9 188.5 1650.4 185.5 1644.4 183.1 1638.8 181.2 1633.8 179.8 1629.4 179.1 1625.6 179 1622.4 179.5 1619.9 180.6 1618.1 182.3 1617 184.5 1616.6 187.3 1617 190.7 1618 194.5 1619.8 198.8 1622.3 203.6 1625.4 208.8 1629.2 214.3 1633.6 220.1 1638.6 226.2 1644.1 232.5 1650.1 239 1656.6 245.5 1663.4 252.1 1670.6 258.7 1678.1 265.3 1685.7 271.7 1693.6 278 1701.5 284.1 1709.4 289.9 1717.3 295.3 1725 300.4 1732.6 305.2 1740 309.4 1747 313.2 1753.7 316.5 1759.9 319.2 1765.7 321.4 1771 323 1775.8 324 1779.9 324.4 1783.4 324.3 1786.2 323.5 1788.4 322.1 1789.8 320.1 1790.6 317.6 1790.6 314.5 1789.9 310.9 1788.5 306.8 1786.4 302.3 1783.6 297.3 1780.1 292 1776 286.3 1771.3 280.3 1766 274.1 1760.3 267.7 1754 261.2 1747.3 254.6 1740.3 248 1733 241.4Z"/>
<path d="M1695.5 258 1687.6 251.5 1679.6 245.2 1671.5 239.1 1663.4 233.2 1655.4 227.7 1647.5 222.5 1639.7 217.6 1632.2 213.2 1624.9 209.2 1617.9 205.6 1611.3 202.6 1605.1 200 1599.4 198 1594.1 196.5 1589.4 195.6 1585.2 195.2 1581.7 195.4 1578.7 196.1 1576.3 197.4 1574.7 199.2 1573.6 201.6 1573.2 204.5 1573.5 207.8 1574.5 211.7 1576.1 216 1578.4 220.7 1581.3 225.8 1584.8 231.2 1588.9 237 1593.6 243 1598.8 249.2 1604.5 255.7 1610.6 262.3 1617.2 269 1624.1 275.7 1631.3 282.5 1638.8 289.2 1646.6 295.8 1654.5 302.3 1662.5 308.6 1670.6 314.8 1678.7 320.6 1686.7 326.2 1694.6 331.4 1702.4 336.2 1709.9 340.7 1717.2 344.7 1724.1 348.2 1730.8 351.3 1736.9 353.8 1742.7 355.8 1747.9 357.3 1752.7 358.3 1756.8 358.6 1760.4 358.5 1763.4 357.7 1765.7 356.4 1767.4 354.6 1768.5 352.2 1768.8 349.4 1768.6 346 1767.6 342.1 1766 337.9 1763.7 333.2 1760.8 328.1 1757.3 322.6 1753.2 316.9 1748.5 310.8 1743.3 304.6 1737.6 298.1 1731.5 291.6 1724.9 284.9 1718 278.1 1710.8 271.4 1703.2 264.7Z"/>
<path d="M1661.3 284.4 1653.4 277.9 1645.3 271.5 1637.2 265.3 1629.1 259.4 1621 253.8 1613 248.4 1605.1 243.5 1597.5 238.9 1590 234.7 1582.9 231 1576.1 227.7 1569.7 224.9 1563.7 222.6 1558.2 220.8 1553.1 219.6 1548.6 218.9 1544.6 218.7 1541.2 219.1 1538.4 220 1536.2 221.4 1534.6 223.4 1533.7 225.9 1533.4 228.8 1533.8 232.3 1534.8 236.2 1536.5 240.5 1538.7 245.2 1541.6 250.3 1545.1 255.8 1549.2 261.5 1553.8 267.6 1558.9 273.8 1564.5 280.3 1570.6 286.9 1577.1 293.6 1583.9 300.3 1591.1 307.1 1598.5 313.9 1606.2 320.6 1614.1 327.3 1622.1 333.7 1630.2 340 1638.4 346.1 1646.5 351.8 1654.5 357.3 1662.5 362.5 1670.2 367.3 1677.8 371.7 1685 375.6 1692 379.1 1698.6 382.2 1704.8 384.7 1710.6 386.7 1715.9 388.2 1720.7 389.2 1725 389.7 1728.7 389.6 1731.8 388.9 1734.3 387.8 1736.1 386 1737.4 383.8 1738 381.1 1737.9 377.9 1737.2 374.2 1735.9 370.1 1733.9 365.6 1731.4 360.6 1728.2 355.4 1724.4 349.8 1720 343.9 1715.2 337.7 1709.8 331.4 1704 324.8 1697.7 318.2 1691 311.4 1684 304.6 1676.7 297.9 1669.1 291.1Z"/>
<path d="M1625.1 312.4 1617.2 305.9 1609.2 299.6 1601.1 293.5 1593 287.6 1585 282 1577.1 276.8 1569.3 271.9 1561.7 267.4 1554.4 263.3 1547.4 259.6 1540.7 256.4 1534.4 253.7 1528.5 251.5 1523.1 249.9 1518.1 248.7 1513.7 248.1 1509.9 248.1 1506.7 248.6 1504 249.6 1502 251.1 1500.6 253.2 1499.9 255.8 1499.8 258.9 1500.4 262.5 1501.6 266.5 1503.4 270.9 1505.9 275.7 1509 280.9 1512.6 286.4 1516.9 292.3 1521.6 298.3 1526.9 304.6 1532.7 311.1 1538.9 317.7 1545.5 324.4 1552.4 331.1 1559.7 337.8 1567.2 344.6 1574.9 351.2 1582.8 357.7 1590.8 364 1598.9 370.1 1607 376 1615 381.6 1622.9 386.8 1630.7 391.7 1638.3 396.3 1645.6 400.4 1652.6 404 1659.3 407.2 1665.6 409.9 1671.5 412.1 1676.9 413.7 1681.9 414.9 1686.3 415.5 1690.1 415.5 1693.3 415.1 1696 414 1698 412.5 1699.4 410.4 1700.1 407.8 1700.2 404.7 1699.6 401.2 1698.4 397.1 1696.6 392.7 1694.1 387.9 1691 382.7 1687.4 377.2 1683.1 371.4 1678.4 365.3 1673.1 359 1667.3 352.5 1661.1 345.9 1654.5 339.2 1647.6 332.5 1640.3 325.8 1632.8 319.1Z"/>
<path d="M1589.1 340.3 1581.2 333.8 1573.3 327.6 1565.3 321.5 1557.3 315.8 1549.4 310.4 1541.6 305.3 1534 300.7 1526.6 296.4 1519.5 292.7 1512.8 289.4 1506.5 286.7 1500.6 284.5 1495.3 282.9 1490.5 281.8 1486.2 281.3 1482.6 281.4 1479.6 282.1 1477.3 283.4 1475.6 285.2 1474.6 287.6 1474.4 290.5 1474.8 293.9 1475.9 297.9 1477.7 302.2 1480.2 307 1483.3 312.2 1487.1 317.8 1491.4 323.6 1496.4 329.7 1501.8 336 1507.8 342.5 1514.2 349.1 1521 355.8 1528.1 362.5 1535.5 369.1 1543.2 375.7 1551 382.1 1558.9 388.4 1567 394.4 1574.9 400.2 1582.9 405.6 1590.7 410.6 1598.3 415.3 1605.7 419.5 1612.7 423.3 1619.4 426.5 1625.7 429.3 1631.6 431.5 1637 433.1 1641.8 434.2 1646 434.6 1649.6 434.5 1652.6 433.9 1655 432.6 1656.6 430.8 1657.6 428.4 1657.9 425.5 1657.5 422 1656.3 418.1 1654.5 413.7 1652.1 408.9 1648.9 403.7 1645.2 398.2 1640.8 392.4 1635.9 386.3 1630.4 379.9 1624.5 373.4 1618.1 366.8 1611.3 360.2 1604.1 353.5 1596.7 346.8Z"/>
<path d="M1555.6 366.1 1547.9 359.8 1540.1 353.7 1532.3 347.9 1524.5 342.5 1516.8 337.4 1509.3 332.8 1502.1 328.7 1495.3 325.1 1488.9 322.1 1482.9 319.7 1477.5 318 1472.7 316.8 1468.6 316.4 1465.1 316.6 1462.4 317.4 1460.4 318.9 1459.3 321.1 1458.9 323.9 1459.3 327.2 1460.5 331.1 1462.4 335.5 1465.2 340.4 1468.6 345.7 1472.8 351.4 1477.6 357.4 1483 363.6 1488.9 370 1495.4 376.5 1502.2 383 1509.4 389.6 1516.9 396 1524.6 402.3 1532.4 408.4 1540.2 414.2 1548 419.6 1555.7 424.7 1563.2 429.3 1570.4 433.4 1577.3 437 1583.7 440 1589.6 442.4 1595 444.1 1599.8 445.3 1604 445.7 1607.4 445.5 1610.1 444.7 1612.1 443.1 1613.3 441 1613.7 438.2 1613.3 434.9 1612.1 431 1610.1 426.5 1607.4 421.7 1603.9 416.4 1599.8 410.7 1595 404.7 1589.6 398.5 1583.6 392.1 1577.2 385.6 1570.3 379.1 1563.1 372.5Z"/>
<path d="M1526.9 388.3 1519.4 382.2 1511.8 376.4 1504.3 371.1 1496.8 366.2 1489.7 361.9 1482.9 358.2 1476.6 355.2 1470.9 353 1466 351.6 1461.8 351 1458.5 351.2 1456.1 352.3 1454.7 354.2 1454.3 356.8 1454.9 360.2 1456.4 364.2 1458.9 368.9 1462.3 374.1 1466.6 379.7 1471.7 385.6 1477.4 391.8 1483.8 398.1 1490.6 404.5 1497.8 410.7 1505.3 416.8 1512.9 422.6 1520.5 427.9 1527.9 432.8 1535.1 437.2 1541.9 440.8 1548.1 443.8 1553.8 446 1558.8 447.4 1562.9 448 1566.2 447.8 1568.6 446.7 1570 444.9 1570.4 442.2 1569.9 438.8 1568.3 434.8 1565.8 430.1 1562.4 425 1558.1 419.4 1553.1 413.4 1547.3 407.2 1541 400.9 1534.1 394.5Z"/>
<path d="M1504.7 405.4 1497.9 400 1491.1 395.1 1484.4 390.8 1478.2 387.3 1472.6 384.8 1468 383.3 1464.4 382.9 1462 383.7 1461 385.6 1461.3 388.5 1462.9 392.3 1465.8 396.8 1469.8 402 1474.9 407.6 1480.7 413.3 1487.2 419 1494 424.4 1500.8 429.4 1507.5 433.7 1513.7 437.1 1519.3 439.6 1523.9 441.1 1527.5 441.5 1529.9 440.7 1530.9 438.8 1530.6 435.9 1529 432.1 1526.1 427.6 1522.1 422.4 1517 416.8 1511.1 411.1Z"/>
<path d="M1490.5 416.4 1486.7 413.5 1483.1 411.4 1480.3 410.3 1478.6 410.4 1478.4 411.7 1479.7 414 1482.2 417 1485.6 420.2 1489.4 423.1 1493 425.2 1495.8 426.3 1497.5 426.2 1497.7 424.9 1496.4 422.6 1493.9 419.6Z"/>
<ellipse cx="1629" cy="309.4" rx="185.7" ry="123.9" transform="rotate(153 1629 309.4)" stroke-opacity="0.22"/>
</g>
<polyline points="1376.9,449.2 1715,559.6 1894.6,375.3 1906,126.8" fill="none" stroke="#202020" stroke-width="2.61" stroke-linejoin="miter"/>
<g stroke="#202020" stroke-width="2.31" stroke-linecap="round">
<line x1="1434.8" y1="472.7" x2="1440.6" y2="467.7"/>
<line x1="1497.4" y1="493.2" x2="1503.1" y2="488.1"/>
<line x1="1561.3" y1="514.1" x2="1566.9" y2="508.9"/>
<line x1="1626.5" y1="535.5" x2="1632" y2="530.2"/>
<line x1="1693" y1="557.2" x2="1698.4" y2="551.8"/>
<line x1="1726.1" y1="556.9" x2="1716.5" y2="553.7"/>
<line x1="1750.3" y1="532" x2="1740.7" y2="528.9"/>
<line x1="1773.8" y1="507.7" x2="1764.4" y2="504.7"/>
<line x1="1796.9" y1="483.9" x2="1787.5" y2="481"/>
<line x1="1819.4" y1="460.7" x2="1810.1" y2="457.8"/>
<line x1="1841.5" y1="438" x2="1832.2" y2="435.2"/>
<line x1="1863" y1="415.8" x2="1853.9" y2="413"/>
<line x1="1884.1" y1="394" x2="1875" y2="391.4"/>
<line x1="1902.4" y1="338.9" x2="1893.3" y2="336.3"/>
<line x1="1904.3" y1="299.1" x2="1895.1" y2="296.5"/>
<line x1="1906.2" y1="258.7" x2="1896.9" y2="256.2"/>
<line x1="1908.1" y1="217.7" x2="1898.8" y2="215.2"/>
<line x1="1910" y1="176.2" x2="1900.6" y2="173.7"/>
<line x1="1912" y1="134" x2="1902.5" y2="131.6"/>
</g>
<g font-size="23.57" text-anchor="middle" fill="#161616" stroke="#161616" stroke-width="0.25">
<text x="1422.6" y="521.7">−0.06</text>
<text x="1485.2" y="542.1">−0.05</text>
<text x="1549" y="563">−0.04</text>
<text x="1614.1" y="584.2">−0.03</text>
<text x="1680.6" y="605.9">−0.02</text>
<text x="1746.3" y="600.1">−0.030</text>
<text x="1770.5" y="575.3">−0.025</text>
<text x="1794.1" y="551">−0.020</text>
<text x="1817.2" y="527.3">−0.015</text>
<text x="1839.8" y="504.1">−0.010</text>
<text x="1861.9" y="481.4">−0.005</text>
<text x="1883.5" y="459.3">0.000</text>
<text x="1904.6" y="437.6">0.005</text>
<text x="1937.9" y="347.6">0.04</text>
<text x="1939.8" y="307.8">0.05</text>
<text x="1941.6" y="267.4">0.06</text>
<text x="1943.5" y="226.5">0.07</text>
<text x="1945.4" y="184.9">0.08</text>
<text x="1947.3" y="142.8">0.09</text>
</g>
<g font-size="26.28" text-anchor="middle" fill="#161616" stroke="#161616" stroke-width="0.25">
<text transform="translate(1506 579) rotate(19)" y="7.88">Posterior<tspan dx="13.93" font-family="DejaVu Sans, sans-serif" font-size="26.28">↔</tspan><tspan dx="10.51">Anterior (m)</tspan></text>
<text transform="translate(1867 524) rotate(-45.8)" y="7.88">Right<tspan dx="13.93" font-family="DejaVu Sans, sans-serif" font-size="26.28">↔</tspan><tspan dx="10.51">Left (m)</tspan></text>
<text transform="translate(1985 243) rotate(-87.5)" y="7.88">Inferior<tspan dx="13.93" font-family="DejaVu Sans, sans-serif" font-size="26.28">↔</tspan><tspan dx="10.51">Superior (m)</tspan></text>
</g>
<rect x="1554.9" y="7.6" width="366.8" height="112.6" rx="4.51" ry="4.51" fill="#ffffff" fill-opacity="0.8" stroke="#cccccc" stroke-opacity="0.8" stroke-width="1.3"/>
<line x1="1564.3" y1="27.9" x2="1612.3" y2="27.9" stroke="#c44e52" stroke-opacity="0.55" stroke-width="1.31"/>
<text x="1631.7" y="36.3" font-size="23.67" fill="#161616" stroke="#161616" stroke-width="0.25">Neurophysiologist(N=78)</text>
<line x1="1564.3" y1="62.8" x2="1612.3" y2="62.8" stroke="#55a868" stroke-opacity="0.55" stroke-width="1.31"/>
<text x="1631.7" y="71.2" font-size="23.67" fill="#161616" stroke="#161616" stroke-width="0.25">Single Center Model(N=102)</text>
<line x1="1564.3" y1="97.7" x2="1612.3" y2="97.7" stroke="#4c72b0" stroke-opacity="0.55" stroke-width="1.31"/>
<text x="1631.7" y="105.6" font-size="23.67" fill="#161616" stroke="#161616" stroke-width="0.25">Multi Center Model(N=285)</text>
</g>
</svg>
</body>
</html>
